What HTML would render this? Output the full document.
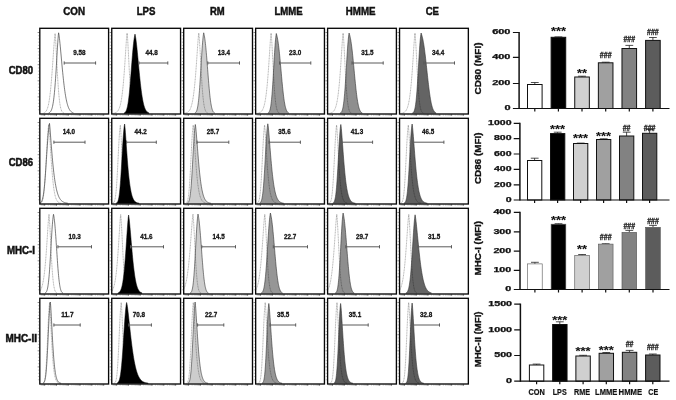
<!DOCTYPE html>
<html><head><meta charset="utf-8"><title>Flow cytometry figure</title>
<style>
html,body{margin:0;padding:0;background:#fff;}
body{width:676px;height:400px;overflow:hidden;}
svg{display:block;filter:blur(0.4px);}
text{font-family:"Liberation Sans",Arial,sans-serif;fill:#111;}
.hd{font-size:10.4px;font-weight:bold;stroke:#111;stroke-width:0.45px;}
.rl{font-size:11.5px;font-weight:bold;stroke:#111;stroke-width:0.55px;}
.gt{font-size:7.4px;font-weight:bold;fill:#111;stroke:#111;stroke-width:0.3px;}
.tk{font-size:6.6px;font-weight:bold;stroke:#111;stroke-width:0.25px;}
.yl{font-size:8.2px;font-weight:bold;stroke:#111;stroke-width:0.3px;}
.xl{font-size:8.6px;font-weight:bold;stroke:#111;stroke-width:0.2px;}
.st{font-size:11px;font-weight:bold;stroke:#111;stroke-width:0.12px;}
.hs{font-size:9.5px;font-weight:bold;stroke:#111;stroke-width:0.3px;}
</style></head><body>
<svg width="676" height="400" viewBox="0 0 676 400">
<rect width="676" height="400" fill="#fff"/>
<text class="hd" x="74.1" y="14.6" text-anchor="middle" textLength="21.8" lengthAdjust="spacingAndGlyphs">CON</text>
<text class="hd" x="146.1" y="14.6" text-anchor="middle" textLength="18.8" lengthAdjust="spacingAndGlyphs">LPS</text>
<text class="hd" x="217.3" y="14.6" text-anchor="middle" textLength="14.7" lengthAdjust="spacingAndGlyphs">RM</text>
<text class="hd" x="288.6" y="14.6" text-anchor="middle" textLength="28.2" lengthAdjust="spacingAndGlyphs">LMME</text>
<text class="hd" x="360.7" y="14.6" text-anchor="middle" textLength="29.8" lengthAdjust="spacingAndGlyphs">HMME</text>
<text class="hd" x="432.3" y="14.6" text-anchor="middle" textLength="13.3" lengthAdjust="spacingAndGlyphs">CE</text>
<text class="rl" x="20.9" y="73.7" text-anchor="middle" textLength="24.3" lengthAdjust="spacingAndGlyphs">CD80</text>
<clipPath id="c00"><rect x="39.80" y="28.30" width="68.8" height="85.7"/></clipPath>
<g clip-path="url(#c00)">
<path d="M43.70,112.96 L43.92,112.88 L44.15,112.79 L44.37,112.69 L44.59,112.56 L44.82,112.43 L45.04,112.27 L45.26,112.08 L45.49,111.87 L45.71,111.63 L45.94,111.36 L46.16,111.05 L46.38,110.70 L46.61,110.31 L46.83,109.86 L47.05,109.37 L47.28,108.81 L47.50,108.18 L47.73,107.48 L47.95,106.71 L48.17,105.85 L48.40,104.90 L48.62,103.86 L48.84,102.71 L49.07,101.46 L49.29,100.09 L49.52,98.60 L49.74,96.99 L49.96,95.25 L50.19,93.37 L50.41,91.36 L50.63,89.22 L50.86,86.93 L51.08,84.51 L51.31,81.95 L51.53,79.27 L51.75,76.46 L51.98,73.54 L52.20,70.52 L52.42,67.41 L52.65,64.24 L52.87,61.01 L53.10,57.76 L53.32,54.51 L53.54,51.29 L53.77,48.14 L53.99,45.09 L54.21,42.20 L54.44,39.51 L54.66,37.08 L54.89,35.01 L55.10,33.50 L55.11,33.56 L55.33,35.87 L55.56,38.95 L55.78,42.55 L56.00,46.51 L56.23,50.70 L56.45,55.03 L56.68,59.41 L56.90,63.76 L57.12,68.03 L57.35,72.17 L57.57,76.13 L57.79,79.90 L58.02,83.44 L58.24,86.74 L58.46,89.80 L58.69,92.61 L58.91,95.17 L59.14,97.49 L59.36,99.58 L59.58,101.45 L59.81,103.11 L60.03,104.58 L60.25,105.87 L60.48,107.00 L60.70,107.99 L60.93,108.84 L61.15,109.57 L61.37,110.20 L61.60,110.74 L61.82,111.19 L62.04,111.58 L62.27,111.90 L62.49,112.17 L62.72,112.40 L62.94,112.59 L63.16,112.74 L63.39,112.87 L63.61,112.97 L63.83,113.06" fill="none" stroke="#000" stroke-opacity="0.45" stroke-width="0.65" stroke-dasharray="1.1 0.5"/>
<path d="M48.67,113.00 L48.94,112.90 L49.22,112.77 L49.49,112.61 L49.77,112.42 L50.04,112.18 L50.32,111.89 L50.59,111.54 L50.87,111.12 L51.15,110.62 L51.42,110.02 L51.70,109.31 L51.97,108.47 L52.25,107.50 L52.52,106.36 L52.80,105.05 L53.07,103.54 L53.35,101.82 L53.63,99.86 L53.90,97.66 L54.18,95.19 L54.45,92.44 L54.73,89.42 L55.00,86.10 L55.28,82.51 L55.56,78.64 L55.83,74.53 L56.11,70.19 L56.38,65.68 L56.66,61.03 L56.93,56.33 L57.21,51.64 L57.48,47.08 L57.76,42.75 L58.04,38.80 L58.31,35.41 L58.59,32.89 L58.60,32.80 L58.86,34.17 L59.14,36.06 L59.41,38.26 L59.69,40.71 L59.96,43.34 L60.24,46.13 L60.52,49.02 L60.79,51.99 L61.07,55.00 L61.34,58.04 L61.62,61.07 L61.89,64.07 L62.17,67.03 L62.45,69.93 L62.72,72.75 L63.00,75.49 L63.27,78.13 L63.55,80.67 L63.82,83.11 L64.10,85.43 L64.37,87.63 L64.65,89.71 L64.93,91.68 L65.20,93.52 L65.48,95.26 L65.75,96.87 L66.03,98.38 L66.30,99.78 L66.58,101.07 L66.85,102.27 L67.13,103.37 L67.41,104.38 L67.68,105.30 L67.96,106.15 L68.23,106.92 L68.51,107.62 L68.78,108.25 L69.06,108.83 L69.34,109.34 L69.61,109.81 L69.89,110.23 L70.16,110.60 L70.44,110.94 L70.71,111.24 L70.99,111.50 L71.26,111.74 L71.54,111.95 L71.82,112.14 L72.09,112.30 L72.37,112.44 L72.64,112.57 L72.92,112.68 L73.19,112.78 L73.47,112.87" fill="none" stroke="#444" stroke-width="0.7"/>
</g>
<path d="M64.2,63.0H95.6M64.2,61.4v3.2M95.6,61.4v3.2" stroke="#5a5a5a" stroke-width="1.0" fill="none"/>
<text class="gt" x="79.4" y="55.0" text-anchor="middle" textLength="12.3" lengthAdjust="spacingAndGlyphs">9.58</text>
<path d="M37.90,35.72h1.6 M37.90,38.94h1.6 M37.90,42.16h1.6 M37.90,45.38h1.6 M37.90,51.82h1.6 M37.90,55.04h1.6 M37.90,58.26h1.6 M37.90,61.48h1.6 M37.90,67.92h1.6 M37.90,71.14h1.6 M37.90,74.36h1.6 M37.90,77.58h1.6 M37.90,84.02h1.6 M37.90,87.24h1.6 M37.90,90.46h1.6 M37.90,93.68h1.6 M37.90,100.12h1.6 M37.90,103.34h1.6 M37.90,106.56h1.6 M37.90,109.78h1.6 M41.16,114.50v1.1 M42.10,114.50v1.1 M42.93,114.50v1.1 M43.52,114.50v1.1 M44.11,114.50v1.1 M48.24,114.50v1.1 M50.36,114.50v1.1 M51.78,114.50v1.1 M52.96,114.50v1.1 M53.90,114.50v1.1 M54.73,114.50v1.1 M55.32,114.50v1.1 M55.91,114.50v1.1 M60.04,114.50v1.1 M62.16,114.50v1.1 M63.58,114.50v1.1 M64.76,114.50v1.1 M65.70,114.50v1.1 M66.53,114.50v1.1 M67.12,114.50v1.1 M67.71,114.50v1.1 M71.84,114.50v1.1 M73.96,114.50v1.1 M75.38,114.50v1.1 M76.56,114.50v1.1 M77.50,114.50v1.1 M78.33,114.50v1.1 M78.92,114.50v1.1 M79.51,114.50v1.1 M83.64,114.50v1.1 M85.76,114.50v1.1 M87.18,114.50v1.1 M88.36,114.50v1.1 M89.30,114.50v1.1 M90.13,114.50v1.1 M90.72,114.50v1.1 M91.31,114.50v1.1 M95.44,114.50v1.1 M97.56,114.50v1.1 M98.98,114.50v1.1 M100.16,114.50v1.1 M101.10,114.50v1.1 M101.93,114.50v1.1 M102.52,114.50v1.1 M103.11,114.50v1.1" stroke="#888" stroke-width="0.5" fill="none"/>
<path d="M37.60,32.50h2.2 M37.60,48.60h2.2 M37.60,64.70h2.2 M37.60,80.80h2.2 M37.60,96.90h2.2 M44.70,114.00v1.9 M56.50,114.00v1.9 M68.30,114.00v1.9 M80.10,114.00v1.9 M91.90,114.00v1.9 M103.70,114.00v1.9" stroke="#444" stroke-width="0.6" fill="none"/>
<rect x="39.80" y="28.30" width="68.8" height="85.7" fill="none" stroke="#080808" stroke-width="1.35"/>
<clipPath id="c01"><rect x="111.75" y="28.30" width="68.8" height="85.7"/></clipPath>
<g clip-path="url(#c01)">
<path d="M113.59,113.18 L113.84,113.15 L114.08,113.11 L114.32,113.06 L114.56,113.01 L114.81,112.94 L115.05,112.88 L115.29,112.80 L115.53,112.70 L115.78,112.60 L116.02,112.48 L116.26,112.35 L116.50,112.20 L116.75,112.02 L116.99,111.83 L117.23,111.61 L117.47,111.36 L117.72,111.08 L117.96,110.76 L118.20,110.41 L118.45,110.01 L118.69,109.56 L118.93,109.06 L119.17,108.51 L119.42,107.89 L119.66,107.20 L119.90,106.44 L120.14,105.59 L120.39,104.66 L120.63,103.63 L120.87,102.49 L121.11,101.25 L121.36,99.89 L121.60,98.40 L121.84,96.77 L122.08,95.01 L122.33,93.10 L122.57,91.03 L122.81,88.81 L123.05,86.42 L123.30,83.86 L123.54,81.14 L123.78,78.24 L124.02,75.19 L124.27,71.97 L124.51,68.61 L124.75,65.11 L124.99,61.49 L125.24,57.79 L125.48,54.03 L125.72,50.26 L125.96,46.53 L126.21,42.92 L126.45,39.51 L126.69,36.46 L126.93,33.99 L127.10,33.00 L127.18,33.62 L127.42,36.26 L127.66,39.66 L127.91,43.62 L128.15,47.98 L128.39,52.61 L128.63,57.40 L128.88,62.23 L129.12,67.02 L129.36,71.69 L129.60,76.17 L129.85,80.42 L130.09,84.39 L130.33,88.07 L130.57,91.44 L130.82,94.50 L131.06,97.24 L131.30,99.68 L131.54,101.83 L131.79,103.70 L132.03,105.33 L132.27,106.72 L132.51,107.92 L132.76,108.92 L133.00,109.77 L133.24,110.47 L133.48,111.05 L133.73,111.53 L133.97,111.92 L134.21,112.24 L134.45,112.49 L134.70,112.69 L134.94,112.85 L135.18,112.98 L135.42,113.08" fill="none" stroke="#000" stroke-opacity="0.45" stroke-width="0.65" stroke-dasharray="1.1 0.5"/>
<path d="M124.09,113.02 L124.37,112.89 L124.64,112.73 L124.92,112.52 L125.20,112.25 L125.47,111.93 L125.75,111.52 L126.03,111.02 L126.30,110.42 L126.58,109.70 L126.86,108.85 L127.13,107.84 L127.41,106.66 L127.69,105.30 L127.96,103.75 L128.24,101.98 L128.52,100.01 L128.79,97.81 L129.07,95.40 L129.35,92.77 L129.62,89.93 L129.90,86.90 L130.18,83.69 L130.45,80.34 L130.73,76.86 L131.01,73.29 L131.28,69.67 L131.56,66.05 L131.84,62.45 L132.11,58.92 L132.39,55.50 L132.67,52.24 L132.94,49.16 L133.22,46.31 L133.50,43.69 L133.77,41.34 L134.05,39.26 L134.33,37.46 L134.60,35.92 L134.88,34.61 L135.00,34.10 L135.16,34.74 L135.43,36.14 L135.71,37.84 L135.99,39.79 L136.26,41.96 L136.54,44.33 L136.82,46.86 L137.09,49.54 L137.37,52.32 L137.65,55.18 L137.92,58.11 L138.20,61.06 L138.48,64.03 L138.75,66.99 L139.03,69.91 L139.31,72.79 L139.58,75.60 L139.86,78.33 L140.14,80.97 L140.41,83.51 L140.69,85.94 L140.97,88.25 L141.24,90.44 L141.52,92.51 L141.80,94.45 L142.07,96.27 L142.35,97.96 L142.63,99.52 L142.90,100.97 L143.18,102.30 L143.46,103.52 L143.73,104.63 L144.01,105.64 L144.29,106.56 L144.56,107.38 L144.84,108.13 L145.12,108.79 L145.39,109.38 L145.67,109.91 L145.95,110.38 L146.22,110.79 L146.50,111.15 L146.78,111.47 L147.05,111.75 L147.33,111.99 L147.61,112.20 L147.88,112.38 L148.16,112.54 L148.44,112.68 L148.71,112.79 L148.99,112.89 L148.99,113.40 L124.09,113.40 Z" fill="#000000" stroke="#000" stroke-width="0.5"/>
</g>
<path d="M139.0,63.0H167.8M139.0,61.4v3.2M167.8,61.4v3.2" stroke="#5a5a5a" stroke-width="1.0" fill="none"/>
<text class="gt" x="151.6" y="55.0" text-anchor="middle" textLength="12.3" lengthAdjust="spacingAndGlyphs">44.8</text>
<path d="M109.85,35.72h1.6 M109.85,38.94h1.6 M109.85,42.16h1.6 M109.85,45.38h1.6 M109.85,51.82h1.6 M109.85,55.04h1.6 M109.85,58.26h1.6 M109.85,61.48h1.6 M109.85,67.92h1.6 M109.85,71.14h1.6 M109.85,74.36h1.6 M109.85,77.58h1.6 M109.85,84.02h1.6 M109.85,87.24h1.6 M109.85,90.46h1.6 M109.85,93.68h1.6 M109.85,100.12h1.6 M109.85,103.34h1.6 M109.85,106.56h1.6 M109.85,109.78h1.6 M113.11,114.50v1.1 M114.05,114.50v1.1 M114.88,114.50v1.1 M115.47,114.50v1.1 M116.06,114.50v1.1 M120.19,114.50v1.1 M122.31,114.50v1.1 M123.73,114.50v1.1 M124.91,114.50v1.1 M125.85,114.50v1.1 M126.68,114.50v1.1 M127.27,114.50v1.1 M127.86,114.50v1.1 M131.99,114.50v1.1 M134.11,114.50v1.1 M135.53,114.50v1.1 M136.71,114.50v1.1 M137.65,114.50v1.1 M138.48,114.50v1.1 M139.07,114.50v1.1 M139.66,114.50v1.1 M143.79,114.50v1.1 M145.91,114.50v1.1 M147.33,114.50v1.1 M148.51,114.50v1.1 M149.45,114.50v1.1 M150.28,114.50v1.1 M150.87,114.50v1.1 M151.46,114.50v1.1 M155.59,114.50v1.1 M157.71,114.50v1.1 M159.13,114.50v1.1 M160.31,114.50v1.1 M161.25,114.50v1.1 M162.08,114.50v1.1 M162.67,114.50v1.1 M163.26,114.50v1.1 M167.39,114.50v1.1 M169.51,114.50v1.1 M170.93,114.50v1.1 M172.11,114.50v1.1 M173.05,114.50v1.1 M173.88,114.50v1.1 M174.47,114.50v1.1 M175.06,114.50v1.1" stroke="#888" stroke-width="0.5" fill="none"/>
<path d="M109.55,32.50h2.2 M109.55,48.60h2.2 M109.55,64.70h2.2 M109.55,80.80h2.2 M109.55,96.90h2.2 M116.65,114.00v1.9 M128.45,114.00v1.9 M140.25,114.00v1.9 M152.05,114.00v1.9 M163.85,114.00v1.9 M175.65,114.00v1.9" stroke="#444" stroke-width="0.6" fill="none"/>
<rect x="111.75" y="28.30" width="68.8" height="85.7" fill="none" stroke="#080808" stroke-width="1.35"/>
<clipPath id="c02"><rect x="183.70" y="28.30" width="68.8" height="85.7"/></clipPath>
<g clip-path="url(#c02)">
<path d="M194.80,113.09 L195.03,112.99 L195.25,112.86 L195.47,112.70 L195.69,112.49 L195.91,112.23 L196.13,111.91 L196.35,111.52 L196.57,111.04 L196.80,110.46 L197.02,109.77 L197.24,108.95 L197.46,107.98 L197.68,106.85 L197.90,105.55 L198.12,104.07 L198.34,102.38 L198.57,100.47 L198.79,98.36 L199.01,96.01 L199.23,93.45 L199.45,90.67 L199.67,87.69 L199.89,84.51 L200.11,81.16 L200.34,77.66 L200.56,74.05 L200.78,70.36 L201.00,66.63 L201.22,62.89 L201.44,59.20 L201.66,55.60 L201.88,52.12 L202.11,48.82 L202.33,45.73 L202.55,42.89 L202.77,40.32 L202.99,38.05 L203.21,36.09 L203.43,34.43 L203.65,33.05 L203.70,32.80 L203.88,33.53 L204.10,34.53 L204.32,35.64 L204.54,36.90 L204.76,38.31 L204.98,39.89 L205.20,41.63 L205.42,43.53 L205.65,45.59 L205.87,47.80 L206.09,50.16 L206.31,52.65 L206.53,55.25 L206.75,57.95 L206.97,60.73 L207.19,63.57 L207.42,66.45 L207.64,69.35 L207.86,72.24 L208.08,75.12 L208.30,77.96 L208.52,80.73 L208.74,83.43 L208.96,86.03 L209.19,88.53 L209.41,90.91 L209.63,93.17 L209.85,95.29 L210.07,97.27 L210.29,99.11 L210.51,100.81 L210.73,102.36 L210.96,103.78 L211.18,105.06 L211.40,106.21 L211.62,107.23 L211.84,108.14 L212.06,108.94 L212.28,109.65 L212.50,110.25 L212.73,110.78 L212.95,111.23 L213.17,111.62 L213.39,111.94 L213.61,112.21 L213.83,112.44 L214.05,112.63 L214.27,112.79 L214.50,112.91 L214.72,113.02 L214.72,113.40 L194.80,113.40 Z" fill="#cdcdcd" stroke="none"/>
<path d="M184.64,113.17 L184.89,113.14 L185.15,113.10 L185.40,113.05 L185.66,112.99 L185.91,112.93 L186.17,112.86 L186.42,112.78 L186.68,112.68 L186.94,112.58 L187.19,112.46 L187.45,112.32 L187.70,112.16 L187.96,111.98 L188.21,111.78 L188.47,111.56 L188.72,111.30 L188.98,111.01 L189.23,110.69 L189.49,110.32 L189.75,109.92 L190.00,109.46 L190.26,108.95 L190.51,108.38 L190.77,107.74 L191.02,107.04 L191.28,106.26 L191.53,105.39 L191.79,104.44 L192.04,103.38 L192.30,102.22 L192.56,100.95 L192.81,99.56 L193.07,98.04 L193.32,96.39 L193.58,94.59 L193.83,92.64 L194.09,90.54 L194.34,88.27 L194.60,85.84 L194.86,83.25 L195.11,80.48 L195.37,77.55 L195.62,74.45 L195.88,71.20 L196.13,67.80 L196.39,64.27 L196.64,60.63 L196.90,56.91 L197.15,53.14 L197.41,49.37 L197.67,45.66 L197.92,42.08 L198.18,38.74 L198.43,35.80 L198.69,33.54 L198.80,33.00 L198.94,34.15 L199.20,36.95 L199.45,40.42 L199.71,44.41 L199.96,48.77 L200.22,53.37 L200.48,58.10 L200.73,62.86 L200.99,67.57 L201.24,72.15 L201.50,76.54 L201.75,80.71 L202.01,84.61 L202.26,88.22 L202.52,91.53 L202.78,94.53 L203.03,97.23 L203.29,99.64 L203.54,101.76 L203.80,103.62 L204.05,105.24 L204.31,106.63 L204.56,107.82 L204.82,108.83 L205.07,109.67 L205.33,110.39 L205.59,110.97 L205.84,111.46 L206.10,111.86 L206.35,112.18 L206.61,112.44 L206.86,112.65 L207.12,112.82 L207.37,112.95 L207.63,113.06" fill="none" stroke="#000" stroke-opacity="0.45" stroke-width="0.65" stroke-dasharray="1.1 0.5"/>
<path d="M194.80,113.09 L195.03,112.99 L195.25,112.86 L195.47,112.70 L195.69,112.49 L195.91,112.23 L196.13,111.91 L196.35,111.52 L196.57,111.04 L196.80,110.46 L197.02,109.77 L197.24,108.95 L197.46,107.98 L197.68,106.85 L197.90,105.55 L198.12,104.07 L198.34,102.38 L198.57,100.47 L198.79,98.36 L199.01,96.01 L199.23,93.45 L199.45,90.67 L199.67,87.69 L199.89,84.51 L200.11,81.16 L200.34,77.66 L200.56,74.05 L200.78,70.36 L201.00,66.63 L201.22,62.89 L201.44,59.20 L201.66,55.60 L201.88,52.12 L202.11,48.82 L202.33,45.73 L202.55,42.89 L202.77,40.32 L202.99,38.05 L203.21,36.09 L203.43,34.43 L203.65,33.05 L203.70,32.80 L203.88,33.53 L204.10,34.53 L204.32,35.64 L204.54,36.90 L204.76,38.31 L204.98,39.89 L205.20,41.63 L205.42,43.53 L205.65,45.59 L205.87,47.80 L206.09,50.16 L206.31,52.65 L206.53,55.25 L206.75,57.95 L206.97,60.73 L207.19,63.57 L207.42,66.45 L207.64,69.35 L207.86,72.24 L208.08,75.12 L208.30,77.96 L208.52,80.73 L208.74,83.43 L208.96,86.03 L209.19,88.53 L209.41,90.91 L209.63,93.17 L209.85,95.29 L210.07,97.27 L210.29,99.11 L210.51,100.81 L210.73,102.36 L210.96,103.78 L211.18,105.06 L211.40,106.21 L211.62,107.23 L211.84,108.14 L212.06,108.94 L212.28,109.65 L212.50,110.25 L212.73,110.78 L212.95,111.23 L213.17,111.62 L213.39,111.94 L213.61,112.21 L213.83,112.44 L214.05,112.63 L214.27,112.79 L214.50,112.91 L214.72,113.02" fill="none" stroke="#333" stroke-width="0.6"/>
</g>
<path d="M207.8,63.0H239.5M207.8,61.4v3.2M239.5,61.4v3.2" stroke="#5a5a5a" stroke-width="1.0" fill="none"/>
<text class="gt" x="223.9" y="55.0" text-anchor="middle" textLength="12.3" lengthAdjust="spacingAndGlyphs">13.4</text>
<path d="M181.80,35.72h1.6 M181.80,38.94h1.6 M181.80,42.16h1.6 M181.80,45.38h1.6 M181.80,51.82h1.6 M181.80,55.04h1.6 M181.80,58.26h1.6 M181.80,61.48h1.6 M181.80,67.92h1.6 M181.80,71.14h1.6 M181.80,74.36h1.6 M181.80,77.58h1.6 M181.80,84.02h1.6 M181.80,87.24h1.6 M181.80,90.46h1.6 M181.80,93.68h1.6 M181.80,100.12h1.6 M181.80,103.34h1.6 M181.80,106.56h1.6 M181.80,109.78h1.6 M185.06,114.50v1.1 M186.00,114.50v1.1 M186.83,114.50v1.1 M187.42,114.50v1.1 M188.01,114.50v1.1 M192.14,114.50v1.1 M194.26,114.50v1.1 M195.68,114.50v1.1 M196.86,114.50v1.1 M197.80,114.50v1.1 M198.63,114.50v1.1 M199.22,114.50v1.1 M199.81,114.50v1.1 M203.94,114.50v1.1 M206.06,114.50v1.1 M207.48,114.50v1.1 M208.66,114.50v1.1 M209.60,114.50v1.1 M210.43,114.50v1.1 M211.02,114.50v1.1 M211.61,114.50v1.1 M215.74,114.50v1.1 M217.86,114.50v1.1 M219.28,114.50v1.1 M220.46,114.50v1.1 M221.40,114.50v1.1 M222.23,114.50v1.1 M222.82,114.50v1.1 M223.41,114.50v1.1 M227.54,114.50v1.1 M229.66,114.50v1.1 M231.08,114.50v1.1 M232.26,114.50v1.1 M233.20,114.50v1.1 M234.03,114.50v1.1 M234.62,114.50v1.1 M235.21,114.50v1.1 M239.34,114.50v1.1 M241.46,114.50v1.1 M242.88,114.50v1.1 M244.06,114.50v1.1 M245.00,114.50v1.1 M245.83,114.50v1.1 M246.42,114.50v1.1 M247.01,114.50v1.1" stroke="#888" stroke-width="0.5" fill="none"/>
<path d="M181.50,32.50h2.2 M181.50,48.60h2.2 M181.50,64.70h2.2 M181.50,80.80h2.2 M181.50,96.90h2.2 M188.60,114.00v1.9 M200.40,114.00v1.9 M212.20,114.00v1.9 M224.00,114.00v1.9 M235.80,114.00v1.9 M247.60,114.00v1.9" stroke="#444" stroke-width="0.6" fill="none"/>
<rect x="183.70" y="28.30" width="68.8" height="85.7" fill="none" stroke="#080808" stroke-width="1.35"/>
<clipPath id="c03"><rect x="255.65" y="28.30" width="68.8" height="85.7"/></clipPath>
<g clip-path="url(#c03)">
<path d="M267.83,113.12 L268.06,113.01 L268.30,112.87 L268.53,112.69 L268.76,112.45 L269.00,112.15 L269.23,111.77 L269.46,111.29 L269.69,110.70 L269.93,109.98 L270.16,109.10 L270.39,108.04 L270.63,106.79 L270.86,105.33 L271.09,103.63 L271.32,101.67 L271.56,99.46 L271.79,96.97 L272.02,94.21 L272.26,91.19 L272.49,87.91 L272.72,84.39 L272.96,80.66 L273.19,76.77 L273.42,72.74 L273.65,68.64 L273.89,64.51 L274.12,60.42 L274.35,56.43 L274.59,52.59 L274.82,48.97 L275.05,45.61 L275.29,42.56 L275.52,39.86 L275.75,37.53 L275.98,35.58 L276.22,33.99 L276.30,33.50 L276.45,34.02 L276.68,34.86 L276.92,35.77 L277.15,36.78 L277.38,37.89 L277.61,39.13 L277.85,40.48 L278.08,41.97 L278.31,43.59 L278.55,45.34 L278.78,47.22 L279.01,49.22 L279.25,51.33 L279.48,53.56 L279.71,55.88 L279.94,58.29 L280.18,60.78 L280.41,63.32 L280.64,65.91 L280.88,68.52 L281.11,71.15 L281.34,73.78 L281.57,76.39 L281.81,78.96 L282.04,81.48 L282.27,83.94 L282.51,86.33 L282.74,88.63 L282.97,90.83 L283.21,92.93 L283.44,94.92 L283.67,96.80 L283.90,98.55 L284.14,100.18 L284.37,101.69 L284.60,103.08 L284.84,104.35 L285.07,105.50 L285.30,106.54 L285.54,107.47 L285.77,108.31 L286.00,109.05 L286.23,109.70 L286.47,110.27 L286.70,110.77 L286.93,111.20 L287.17,111.57 L287.40,111.89 L287.63,112.16 L287.86,112.39 L288.10,112.58 L288.33,112.73 L288.56,112.87 L288.80,112.97 L288.80,113.40 L267.83,113.40 Z" fill="#969696" stroke="none"/>
<path d="M257.59,113.18 L257.84,113.15 L258.08,113.11 L258.32,113.06 L258.56,113.01 L258.81,112.94 L259.05,112.88 L259.29,112.80 L259.53,112.70 L259.78,112.60 L260.02,112.48 L260.26,112.35 L260.50,112.20 L260.75,112.02 L260.99,111.83 L261.23,111.61 L261.47,111.36 L261.72,111.08 L261.96,110.76 L262.20,110.41 L262.45,110.01 L262.69,109.56 L262.93,109.06 L263.17,108.51 L263.42,107.89 L263.66,107.20 L263.90,106.44 L264.14,105.59 L264.39,104.66 L264.63,103.63 L264.87,102.49 L265.11,101.25 L265.36,99.89 L265.60,98.40 L265.84,96.77 L266.08,95.01 L266.33,93.10 L266.57,91.03 L266.81,88.81 L267.05,86.42 L267.30,83.86 L267.54,81.14 L267.78,78.24 L268.02,75.19 L268.27,71.97 L268.51,68.61 L268.75,65.11 L268.99,61.49 L269.24,57.79 L269.48,54.03 L269.72,50.26 L269.96,46.53 L270.21,42.92 L270.45,39.51 L270.69,36.46 L270.93,33.99 L271.10,33.00 L271.18,33.62 L271.42,36.26 L271.66,39.66 L271.91,43.62 L272.15,47.98 L272.39,52.61 L272.63,57.40 L272.88,62.23 L273.12,67.02 L273.36,71.69 L273.60,76.17 L273.85,80.42 L274.09,84.39 L274.33,88.07 L274.57,91.44 L274.82,94.50 L275.06,97.24 L275.30,99.68 L275.54,101.83 L275.79,103.70 L276.03,105.33 L276.27,106.72 L276.51,107.92 L276.76,108.92 L277.00,109.77 L277.24,110.47 L277.48,111.05 L277.73,111.53 L277.97,111.92 L278.21,112.24 L278.45,112.49 L278.70,112.69 L278.94,112.85 L279.18,112.98 L279.42,113.08" fill="none" stroke="#000" stroke-opacity="0.45" stroke-width="0.65" stroke-dasharray="1.1 0.5"/>
<path d="M267.83,113.12 L268.06,113.01 L268.30,112.87 L268.53,112.69 L268.76,112.45 L269.00,112.15 L269.23,111.77 L269.46,111.29 L269.69,110.70 L269.93,109.98 L270.16,109.10 L270.39,108.04 L270.63,106.79 L270.86,105.33 L271.09,103.63 L271.32,101.67 L271.56,99.46 L271.79,96.97 L272.02,94.21 L272.26,91.19 L272.49,87.91 L272.72,84.39 L272.96,80.66 L273.19,76.77 L273.42,72.74 L273.65,68.64 L273.89,64.51 L274.12,60.42 L274.35,56.43 L274.59,52.59 L274.82,48.97 L275.05,45.61 L275.29,42.56 L275.52,39.86 L275.75,37.53 L275.98,35.58 L276.22,33.99 L276.30,33.50 L276.45,34.02 L276.68,34.86 L276.92,35.77 L277.15,36.78 L277.38,37.89 L277.61,39.13 L277.85,40.48 L278.08,41.97 L278.31,43.59 L278.55,45.34 L278.78,47.22 L279.01,49.22 L279.25,51.33 L279.48,53.56 L279.71,55.88 L279.94,58.29 L280.18,60.78 L280.41,63.32 L280.64,65.91 L280.88,68.52 L281.11,71.15 L281.34,73.78 L281.57,76.39 L281.81,78.96 L282.04,81.48 L282.27,83.94 L282.51,86.33 L282.74,88.63 L282.97,90.83 L283.21,92.93 L283.44,94.92 L283.67,96.80 L283.90,98.55 L284.14,100.18 L284.37,101.69 L284.60,103.08 L284.84,104.35 L285.07,105.50 L285.30,106.54 L285.54,107.47 L285.77,108.31 L286.00,109.05 L286.23,109.70 L286.47,110.27 L286.70,110.77 L286.93,111.20 L287.17,111.57 L287.40,111.89 L287.63,112.16 L287.86,112.39 L288.10,112.58 L288.33,112.73 L288.56,112.87 L288.80,112.97" fill="none" stroke="#333" stroke-width="0.6"/>
</g>
<path d="M279.5,63.0H310.8M279.5,61.4v3.2M310.8,61.4v3.2" stroke="#5a5a5a" stroke-width="1.0" fill="none"/>
<text class="gt" x="295.2" y="55.0" text-anchor="middle" textLength="12.3" lengthAdjust="spacingAndGlyphs">23.0</text>
<path d="M253.75,35.72h1.6 M253.75,38.94h1.6 M253.75,42.16h1.6 M253.75,45.38h1.6 M253.75,51.82h1.6 M253.75,55.04h1.6 M253.75,58.26h1.6 M253.75,61.48h1.6 M253.75,67.92h1.6 M253.75,71.14h1.6 M253.75,74.36h1.6 M253.75,77.58h1.6 M253.75,84.02h1.6 M253.75,87.24h1.6 M253.75,90.46h1.6 M253.75,93.68h1.6 M253.75,100.12h1.6 M253.75,103.34h1.6 M253.75,106.56h1.6 M253.75,109.78h1.6 M257.01,114.50v1.1 M257.95,114.50v1.1 M258.78,114.50v1.1 M259.37,114.50v1.1 M259.96,114.50v1.1 M264.09,114.50v1.1 M266.21,114.50v1.1 M267.63,114.50v1.1 M268.81,114.50v1.1 M269.75,114.50v1.1 M270.58,114.50v1.1 M271.17,114.50v1.1 M271.76,114.50v1.1 M275.89,114.50v1.1 M278.01,114.50v1.1 M279.43,114.50v1.1 M280.61,114.50v1.1 M281.55,114.50v1.1 M282.38,114.50v1.1 M282.97,114.50v1.1 M283.56,114.50v1.1 M287.69,114.50v1.1 M289.81,114.50v1.1 M291.23,114.50v1.1 M292.41,114.50v1.1 M293.35,114.50v1.1 M294.18,114.50v1.1 M294.77,114.50v1.1 M295.36,114.50v1.1 M299.49,114.50v1.1 M301.61,114.50v1.1 M303.03,114.50v1.1 M304.21,114.50v1.1 M305.15,114.50v1.1 M305.98,114.50v1.1 M306.57,114.50v1.1 M307.16,114.50v1.1 M311.29,114.50v1.1 M313.41,114.50v1.1 M314.83,114.50v1.1 M316.01,114.50v1.1 M316.95,114.50v1.1 M317.78,114.50v1.1 M318.37,114.50v1.1 M318.96,114.50v1.1" stroke="#888" stroke-width="0.5" fill="none"/>
<path d="M253.45,32.50h2.2 M253.45,48.60h2.2 M253.45,64.70h2.2 M253.45,80.80h2.2 M253.45,96.90h2.2 M260.55,114.00v1.9 M272.35,114.00v1.9 M284.15,114.00v1.9 M295.95,114.00v1.9 M307.75,114.00v1.9 M319.55,114.00v1.9" stroke="#444" stroke-width="0.6" fill="none"/>
<rect x="255.65" y="28.30" width="68.8" height="85.7" fill="none" stroke="#080808" stroke-width="1.35"/>
<clipPath id="c04"><rect x="327.60" y="28.30" width="68.8" height="85.7"/></clipPath>
<g clip-path="url(#c04)">
<path d="M340.20,113.09 L340.45,112.98 L340.69,112.83 L340.94,112.64 L341.18,112.39 L341.43,112.07 L341.68,111.67 L341.92,111.17 L342.17,110.55 L342.41,109.79 L342.66,108.88 L342.90,107.79 L343.15,106.50 L343.39,104.99 L343.64,103.24 L343.88,101.24 L344.13,98.97 L344.37,96.43 L344.62,93.63 L344.86,90.55 L345.11,87.22 L345.35,83.67 L345.60,79.90 L345.85,75.98 L346.09,71.93 L346.34,67.81 L346.58,63.68 L346.83,59.59 L347.07,55.60 L347.32,51.78 L347.56,48.17 L347.81,44.84 L348.05,41.82 L348.30,39.15 L348.54,36.85 L348.79,34.93 L349.03,33.37 L349.10,33.00 L349.28,33.59 L349.52,34.43 L349.77,35.35 L350.01,36.37 L350.26,37.49 L350.51,38.73 L350.75,40.09 L351.00,41.59 L351.24,43.21 L351.49,44.96 L351.73,46.84 L351.98,48.85 L352.22,50.96 L352.47,53.19 L352.71,55.52 L352.96,57.93 L353.20,60.41 L353.45,62.95 L353.69,65.54 L353.94,68.15 L354.18,70.78 L354.43,73.41 L354.67,76.02 L354.92,78.59 L355.17,81.12 L355.41,83.59 L355.66,85.98 L355.90,88.29 L356.15,90.50 L356.39,92.61 L356.64,94.61 L356.88,96.50 L357.13,98.26 L357.37,99.91 L357.62,101.43 L357.86,102.84 L358.11,104.12 L358.35,105.29 L358.60,106.35 L358.84,107.30 L359.09,108.15 L359.34,108.90 L359.58,109.57 L359.83,110.16 L360.07,110.67 L360.32,111.11 L360.56,111.49 L360.81,111.82 L361.05,112.10 L361.30,112.33 L361.54,112.53 L361.79,112.70 L362.03,112.83 L362.28,112.95 L362.28,113.40 L340.20,113.40 Z" fill="#8e8e8e" stroke="none"/>
<path d="M329.59,113.18 L329.84,113.15 L330.08,113.11 L330.32,113.06 L330.56,113.01 L330.81,112.94 L331.05,112.88 L331.29,112.80 L331.53,112.70 L331.78,112.60 L332.02,112.48 L332.26,112.35 L332.50,112.20 L332.75,112.02 L332.99,111.83 L333.23,111.61 L333.47,111.36 L333.72,111.08 L333.96,110.76 L334.20,110.41 L334.45,110.01 L334.69,109.56 L334.93,109.06 L335.17,108.51 L335.42,107.89 L335.66,107.20 L335.90,106.44 L336.14,105.59 L336.39,104.66 L336.63,103.63 L336.87,102.49 L337.11,101.25 L337.36,99.89 L337.60,98.40 L337.84,96.77 L338.08,95.01 L338.33,93.10 L338.57,91.03 L338.81,88.81 L339.05,86.42 L339.30,83.86 L339.54,81.14 L339.78,78.24 L340.02,75.19 L340.27,71.97 L340.51,68.61 L340.75,65.11 L340.99,61.49 L341.24,57.79 L341.48,54.03 L341.72,50.26 L341.96,46.53 L342.21,42.92 L342.45,39.51 L342.69,36.46 L342.93,33.99 L343.10,33.00 L343.18,33.62 L343.42,36.26 L343.66,39.66 L343.91,43.62 L344.15,47.98 L344.39,52.61 L344.63,57.40 L344.88,62.23 L345.12,67.02 L345.36,71.69 L345.60,76.17 L345.85,80.42 L346.09,84.39 L346.33,88.07 L346.57,91.44 L346.82,94.50 L347.06,97.24 L347.30,99.68 L347.54,101.83 L347.79,103.70 L348.03,105.33 L348.27,106.72 L348.51,107.92 L348.76,108.92 L349.00,109.77 L349.24,110.47 L349.48,111.05 L349.73,111.53 L349.97,111.92 L350.21,112.24 L350.45,112.49 L350.70,112.69 L350.94,112.85 L351.18,112.98 L351.42,113.08" fill="none" stroke="#000" stroke-opacity="0.45" stroke-width="0.65" stroke-dasharray="1.1 0.5"/>
<path d="M340.20,113.09 L340.45,112.98 L340.69,112.83 L340.94,112.64 L341.18,112.39 L341.43,112.07 L341.68,111.67 L341.92,111.17 L342.17,110.55 L342.41,109.79 L342.66,108.88 L342.90,107.79 L343.15,106.50 L343.39,104.99 L343.64,103.24 L343.88,101.24 L344.13,98.97 L344.37,96.43 L344.62,93.63 L344.86,90.55 L345.11,87.22 L345.35,83.67 L345.60,79.90 L345.85,75.98 L346.09,71.93 L346.34,67.81 L346.58,63.68 L346.83,59.59 L347.07,55.60 L347.32,51.78 L347.56,48.17 L347.81,44.84 L348.05,41.82 L348.30,39.15 L348.54,36.85 L348.79,34.93 L349.03,33.37 L349.10,33.00 L349.28,33.59 L349.52,34.43 L349.77,35.35 L350.01,36.37 L350.26,37.49 L350.51,38.73 L350.75,40.09 L351.00,41.59 L351.24,43.21 L351.49,44.96 L351.73,46.84 L351.98,48.85 L352.22,50.96 L352.47,53.19 L352.71,55.52 L352.96,57.93 L353.20,60.41 L353.45,62.95 L353.69,65.54 L353.94,68.15 L354.18,70.78 L354.43,73.41 L354.67,76.02 L354.92,78.59 L355.17,81.12 L355.41,83.59 L355.66,85.98 L355.90,88.29 L356.15,90.50 L356.39,92.61 L356.64,94.61 L356.88,96.50 L357.13,98.26 L357.37,99.91 L357.62,101.43 L357.86,102.84 L358.11,104.12 L358.35,105.29 L358.60,106.35 L358.84,107.30 L359.09,108.15 L359.34,108.90 L359.58,109.57 L359.83,110.16 L360.07,110.67 L360.32,111.11 L360.56,111.49 L360.81,111.82 L361.05,112.10 L361.30,112.33 L361.54,112.53 L361.79,112.70 L362.03,112.83 L362.28,112.95" fill="none" stroke="#333" stroke-width="0.6"/>
</g>
<path d="M352.0,63.0H383.2M352.0,61.4v3.2M383.2,61.4v3.2" stroke="#5a5a5a" stroke-width="1.0" fill="none"/>
<text class="gt" x="367.4" y="55.0" text-anchor="middle" textLength="12.3" lengthAdjust="spacingAndGlyphs">31.5</text>
<path d="M325.70,35.72h1.6 M325.70,38.94h1.6 M325.70,42.16h1.6 M325.70,45.38h1.6 M325.70,51.82h1.6 M325.70,55.04h1.6 M325.70,58.26h1.6 M325.70,61.48h1.6 M325.70,67.92h1.6 M325.70,71.14h1.6 M325.70,74.36h1.6 M325.70,77.58h1.6 M325.70,84.02h1.6 M325.70,87.24h1.6 M325.70,90.46h1.6 M325.70,93.68h1.6 M325.70,100.12h1.6 M325.70,103.34h1.6 M325.70,106.56h1.6 M325.70,109.78h1.6 M328.96,114.50v1.1 M329.90,114.50v1.1 M330.73,114.50v1.1 M331.32,114.50v1.1 M331.91,114.50v1.1 M336.04,114.50v1.1 M338.16,114.50v1.1 M339.58,114.50v1.1 M340.76,114.50v1.1 M341.70,114.50v1.1 M342.53,114.50v1.1 M343.12,114.50v1.1 M343.71,114.50v1.1 M347.84,114.50v1.1 M349.96,114.50v1.1 M351.38,114.50v1.1 M352.56,114.50v1.1 M353.50,114.50v1.1 M354.33,114.50v1.1 M354.92,114.50v1.1 M355.51,114.50v1.1 M359.64,114.50v1.1 M361.76,114.50v1.1 M363.18,114.50v1.1 M364.36,114.50v1.1 M365.30,114.50v1.1 M366.13,114.50v1.1 M366.72,114.50v1.1 M367.31,114.50v1.1 M371.44,114.50v1.1 M373.56,114.50v1.1 M374.98,114.50v1.1 M376.16,114.50v1.1 M377.10,114.50v1.1 M377.93,114.50v1.1 M378.52,114.50v1.1 M379.11,114.50v1.1 M383.24,114.50v1.1 M385.36,114.50v1.1 M386.78,114.50v1.1 M387.96,114.50v1.1 M388.90,114.50v1.1 M389.73,114.50v1.1 M390.32,114.50v1.1 M390.91,114.50v1.1" stroke="#888" stroke-width="0.5" fill="none"/>
<path d="M325.40,32.50h2.2 M325.40,48.60h2.2 M325.40,64.70h2.2 M325.40,80.80h2.2 M325.40,96.90h2.2 M332.50,114.00v1.9 M344.30,114.00v1.9 M356.10,114.00v1.9 M367.90,114.00v1.9 M379.70,114.00v1.9 M391.50,114.00v1.9" stroke="#444" stroke-width="0.6" fill="none"/>
<rect x="327.60" y="28.30" width="68.8" height="85.7" fill="none" stroke="#080808" stroke-width="1.35"/>
<clipPath id="c05"><rect x="399.55" y="28.30" width="68.8" height="85.7"/></clipPath>
<g clip-path="url(#c05)">
<path d="M412.42,113.10 L412.68,112.98 L412.94,112.81 L413.21,112.59 L413.47,112.30 L413.73,111.92 L414.00,111.43 L414.26,110.80 L414.52,110.02 L414.79,109.05 L415.05,107.88 L415.32,106.45 L415.58,104.77 L415.84,102.78 L416.11,100.49 L416.37,97.87 L416.63,94.92 L416.90,91.64 L417.16,88.05 L417.42,84.16 L417.69,80.03 L417.95,75.69 L418.21,71.21 L418.48,66.66 L418.74,62.10 L419.00,57.63 L419.27,53.32 L419.53,49.24 L419.79,45.48 L420.06,42.09 L420.32,39.13 L420.58,36.62 L420.85,34.57 L421.10,33.00 L421.11,33.03 L421.38,33.79 L421.64,34.59 L421.90,35.46 L422.17,36.41 L422.43,37.46 L422.69,38.61 L422.96,39.86 L423.22,41.23 L423.48,42.71 L423.75,44.31 L424.01,46.02 L424.27,47.83 L424.54,49.75 L424.80,51.77 L425.06,53.88 L425.33,56.07 L425.59,58.33 L425.85,60.65 L426.12,63.03 L426.38,65.44 L426.64,67.88 L426.91,70.33 L427.17,72.78 L427.44,75.21 L427.70,77.63 L427.96,80.00 L428.23,82.33 L428.49,84.60 L428.75,86.81 L429.02,88.93 L429.28,90.97 L429.54,92.92 L429.81,94.77 L430.07,96.52 L430.33,98.17 L430.60,99.72 L430.86,101.16 L431.12,102.49 L431.39,103.72 L431.65,104.85 L431.91,105.88 L432.18,106.81 L432.44,107.66 L432.70,108.42 L432.97,109.09 L433.23,109.70 L433.49,110.23 L433.76,110.70 L434.02,111.11 L434.29,111.47 L434.55,111.78 L434.81,112.05 L435.08,112.27 L435.34,112.47 L435.60,112.63 L435.87,112.77 L436.13,112.89 L436.13,113.40 L412.42,113.40 Z" fill="#646464" stroke="none"/>
<path d="M401.49,113.18 L401.74,113.15 L401.98,113.11 L402.22,113.06 L402.46,113.01 L402.71,112.94 L402.95,112.88 L403.19,112.80 L403.43,112.70 L403.68,112.60 L403.92,112.48 L404.16,112.35 L404.40,112.20 L404.65,112.02 L404.89,111.83 L405.13,111.61 L405.37,111.36 L405.62,111.08 L405.86,110.76 L406.10,110.41 L406.35,110.01 L406.59,109.56 L406.83,109.06 L407.07,108.51 L407.32,107.89 L407.56,107.20 L407.80,106.44 L408.04,105.59 L408.29,104.66 L408.53,103.63 L408.77,102.49 L409.01,101.25 L409.26,99.89 L409.50,98.40 L409.74,96.77 L409.98,95.01 L410.23,93.10 L410.47,91.03 L410.71,88.81 L410.95,86.42 L411.20,83.86 L411.44,81.14 L411.68,78.24 L411.92,75.19 L412.17,71.97 L412.41,68.61 L412.65,65.11 L412.89,61.49 L413.14,57.79 L413.38,54.03 L413.62,50.26 L413.86,46.53 L414.11,42.92 L414.35,39.51 L414.59,36.46 L414.83,33.99 L415.00,33.00 L415.08,33.62 L415.32,36.26 L415.56,39.66 L415.81,43.62 L416.05,47.98 L416.29,52.61 L416.53,57.40 L416.78,62.23 L417.02,67.02 L417.26,71.69 L417.50,76.17 L417.75,80.42 L417.99,84.39 L418.23,88.07 L418.47,91.44 L418.72,94.50 L418.96,97.24 L419.20,99.68 L419.44,101.83 L419.69,103.70 L419.93,105.33 L420.17,106.72 L420.41,107.92 L420.66,108.92 L420.90,109.77 L421.14,110.47 L421.38,111.05 L421.63,111.53 L421.87,111.92 L422.11,112.24 L422.35,112.49 L422.60,112.69 L422.84,112.85 L423.08,112.98 L423.32,113.08" fill="none" stroke="#000" stroke-opacity="0.45" stroke-width="0.65" stroke-dasharray="1.1 0.5"/>
<path d="M412.42,113.10 L412.68,112.98 L412.94,112.81 L413.21,112.59 L413.47,112.30 L413.73,111.92 L414.00,111.43 L414.26,110.80 L414.52,110.02 L414.79,109.05 L415.05,107.88 L415.32,106.45 L415.58,104.77 L415.84,102.78 L416.11,100.49 L416.37,97.87 L416.63,94.92 L416.90,91.64 L417.16,88.05 L417.42,84.16 L417.69,80.03 L417.95,75.69 L418.21,71.21 L418.48,66.66 L418.74,62.10 L419.00,57.63 L419.27,53.32 L419.53,49.24 L419.79,45.48 L420.06,42.09 L420.32,39.13 L420.58,36.62 L420.85,34.57 L421.10,33.00 L421.11,33.03 L421.38,33.79 L421.64,34.59 L421.90,35.46 L422.17,36.41 L422.43,37.46 L422.69,38.61 L422.96,39.86 L423.22,41.23 L423.48,42.71 L423.75,44.31 L424.01,46.02 L424.27,47.83 L424.54,49.75 L424.80,51.77 L425.06,53.88 L425.33,56.07 L425.59,58.33 L425.85,60.65 L426.12,63.03 L426.38,65.44 L426.64,67.88 L426.91,70.33 L427.17,72.78 L427.44,75.21 L427.70,77.63 L427.96,80.00 L428.23,82.33 L428.49,84.60 L428.75,86.81 L429.02,88.93 L429.28,90.97 L429.54,92.92 L429.81,94.77 L430.07,96.52 L430.33,98.17 L430.60,99.72 L430.86,101.16 L431.12,102.49 L431.39,103.72 L431.65,104.85 L431.91,105.88 L432.18,106.81 L432.44,107.66 L432.70,108.42 L432.97,109.09 L433.23,109.70 L433.49,110.23 L433.76,110.70 L434.02,111.11 L434.29,111.47 L434.55,111.78 L434.81,112.05 L435.08,112.27 L435.34,112.47 L435.60,112.63 L435.87,112.77 L436.13,112.89" fill="none" stroke="#333" stroke-width="0.6"/>
</g>
<path d="M423.8,63.0H454.5M423.8,61.4v3.2M454.5,61.4v3.2" stroke="#5a5a5a" stroke-width="1.0" fill="none"/>
<text class="gt" x="438.2" y="55.0" text-anchor="middle" textLength="12.3" lengthAdjust="spacingAndGlyphs">34.4</text>
<path d="M397.65,35.72h1.6 M397.65,38.94h1.6 M397.65,42.16h1.6 M397.65,45.38h1.6 M397.65,51.82h1.6 M397.65,55.04h1.6 M397.65,58.26h1.6 M397.65,61.48h1.6 M397.65,67.92h1.6 M397.65,71.14h1.6 M397.65,74.36h1.6 M397.65,77.58h1.6 M397.65,84.02h1.6 M397.65,87.24h1.6 M397.65,90.46h1.6 M397.65,93.68h1.6 M397.65,100.12h1.6 M397.65,103.34h1.6 M397.65,106.56h1.6 M397.65,109.78h1.6 M400.91,114.50v1.1 M401.85,114.50v1.1 M402.68,114.50v1.1 M403.27,114.50v1.1 M403.86,114.50v1.1 M407.99,114.50v1.1 M410.11,114.50v1.1 M411.53,114.50v1.1 M412.71,114.50v1.1 M413.65,114.50v1.1 M414.48,114.50v1.1 M415.07,114.50v1.1 M415.66,114.50v1.1 M419.79,114.50v1.1 M421.91,114.50v1.1 M423.33,114.50v1.1 M424.51,114.50v1.1 M425.45,114.50v1.1 M426.28,114.50v1.1 M426.87,114.50v1.1 M427.46,114.50v1.1 M431.59,114.50v1.1 M433.71,114.50v1.1 M435.13,114.50v1.1 M436.31,114.50v1.1 M437.25,114.50v1.1 M438.08,114.50v1.1 M438.67,114.50v1.1 M439.26,114.50v1.1 M443.39,114.50v1.1 M445.51,114.50v1.1 M446.93,114.50v1.1 M448.11,114.50v1.1 M449.05,114.50v1.1 M449.88,114.50v1.1 M450.47,114.50v1.1 M451.06,114.50v1.1 M455.19,114.50v1.1 M457.31,114.50v1.1 M458.73,114.50v1.1 M459.91,114.50v1.1 M460.85,114.50v1.1 M461.68,114.50v1.1 M462.27,114.50v1.1 M462.86,114.50v1.1" stroke="#888" stroke-width="0.5" fill="none"/>
<path d="M397.35,32.50h2.2 M397.35,48.60h2.2 M397.35,64.70h2.2 M397.35,80.80h2.2 M397.35,96.90h2.2 M404.45,114.00v1.9 M416.25,114.00v1.9 M428.05,114.00v1.9 M439.85,114.00v1.9 M451.65,114.00v1.9 M463.45,114.00v1.9" stroke="#444" stroke-width="0.6" fill="none"/>
<rect x="399.55" y="28.30" width="68.8" height="85.7" fill="none" stroke="#080808" stroke-width="1.35"/>
<text class="rl" x="20.9" y="165.7" text-anchor="middle" textLength="24.3" lengthAdjust="spacingAndGlyphs">CD86</text>
<clipPath id="c10"><rect x="39.80" y="118.30" width="68.8" height="85.7"/></clipPath>
<g clip-path="url(#c10)">
<path d="M40.66,203.14 L40.88,203.04 L41.11,202.91 L41.34,202.73 L41.56,202.50 L41.79,202.20 L42.02,201.82 L42.25,201.34 L42.47,200.73 L42.70,199.99 L42.93,199.09 L43.15,198.00 L43.38,196.70 L43.61,195.17 L43.83,193.39 L44.06,191.34 L44.29,189.01 L44.51,186.40 L44.74,183.50 L44.97,180.32 L45.19,176.88 L45.42,173.21 L45.65,169.33 L45.87,165.28 L46.10,161.13 L46.33,156.93 L46.55,152.74 L46.78,148.62 L47.01,144.64 L47.24,140.86 L47.46,137.35 L47.69,134.16 L47.92,131.32 L48.14,128.87 L48.37,126.82 L48.60,125.15 L48.70,124.50 L48.82,125.09 L49.05,127.14 L49.28,129.85 L49.50,132.97 L49.73,136.36 L49.96,139.92 L50.18,143.57 L50.41,147.24 L50.64,150.89 L50.86,154.49 L51.09,157.99 L51.32,161.38 L51.54,164.64 L51.77,167.75 L52.00,170.70 L52.23,173.49 L52.45,176.11 L52.68,178.57 L52.91,180.86 L53.13,182.99 L53.36,184.96 L53.59,186.77 L53.81,188.45 L54.04,189.98 L54.27,191.38 L54.49,192.65 L54.72,193.81 L54.95,194.86 L55.17,195.81 L55.40,196.67 L55.63,197.44 L55.85,198.13 L56.08,198.75 L56.31,199.31 L56.53,199.80 L56.76,200.24 L56.99,200.63 L57.22,200.98 L57.44,201.29 L57.67,201.56 L57.90,201.80 L58.12,202.01 L58.35,202.19 L58.58,202.35 L58.80,202.49 L59.03,202.62 L59.26,202.72 L59.48,202.82 L59.71,202.90 L59.94,202.97 L60.16,203.03 L60.39,203.08 L60.62,203.13 L60.84,203.17 L61.07,203.20" fill="none" stroke="#000" stroke-opacity="0.45" stroke-width="0.65" stroke-dasharray="1.1 0.5"/>
<path d="M39.96,203.06 L40.27,202.92 L40.58,202.72 L40.89,202.45 L41.19,202.10 L41.50,201.63 L41.81,201.03 L42.12,200.26 L42.43,199.30 L42.73,198.11 L43.04,196.66 L43.35,194.92 L43.66,192.85 L43.96,190.45 L44.27,187.69 L44.58,184.56 L44.89,181.07 L45.19,177.24 L45.50,173.11 L45.81,168.71 L46.12,164.11 L46.42,159.38 L46.73,154.61 L47.04,149.88 L47.35,145.29 L47.66,140.93 L47.96,136.88 L48.27,133.23 L48.58,130.03 L48.89,127.32 L49.19,125.12 L49.50,123.40 L49.50,123.41 L49.81,126.27 L50.12,129.98 L50.42,133.97 L50.73,138.06 L51.04,142.14 L51.35,146.14 L51.66,150.03 L51.96,153.78 L52.27,157.37 L52.58,160.78 L52.89,164.02 L53.19,167.07 L53.50,169.94 L53.81,172.64 L54.12,175.15 L54.42,177.50 L54.73,179.68 L55.04,181.71 L55.35,183.58 L55.66,185.32 L55.96,186.92 L56.27,188.39 L56.58,189.75 L56.89,191.00 L57.19,192.14 L57.50,193.19 L57.81,194.15 L58.12,195.02 L58.42,195.82 L58.73,196.55 L59.04,197.22 L59.35,197.82 L59.66,198.37 L59.96,198.87 L60.27,199.32 L60.58,199.73 L60.89,200.10 L61.19,200.44 L61.50,200.74 L61.81,201.01 L62.12,201.26 L62.42,201.48 L62.73,201.68 L63.04,201.86 L63.35,202.03 L63.66,202.17 L63.96,202.30 L64.27,202.42 L64.58,202.53 L64.89,202.62 L65.19,202.71 L65.50,202.78 L65.81,202.85 L66.12,202.91 L66.42,202.96 L66.73,203.01 L67.04,203.06 L67.35,203.09 L67.66,203.13" fill="none" stroke="#444" stroke-width="0.7"/>
</g>
<path d="M53.9,142.2H85.0M53.9,140.6v3.2M85.0,140.6v3.2" stroke="#5a5a5a" stroke-width="1.0" fill="none"/>
<text class="gt" x="68.9" y="133.9" text-anchor="middle" textLength="12.3" lengthAdjust="spacingAndGlyphs">14.0</text>
<path d="M37.90,125.72h1.6 M37.90,128.94h1.6 M37.90,132.16h1.6 M37.90,135.38h1.6 M37.90,141.82h1.6 M37.90,145.04h1.6 M37.90,148.26h1.6 M37.90,151.48h1.6 M37.90,157.92h1.6 M37.90,161.14h1.6 M37.90,164.36h1.6 M37.90,167.58h1.6 M37.90,174.02h1.6 M37.90,177.24h1.6 M37.90,180.46h1.6 M37.90,183.68h1.6 M37.90,190.12h1.6 M37.90,193.34h1.6 M37.90,196.56h1.6 M37.90,199.78h1.6 M41.16,204.50v1.1 M42.10,204.50v1.1 M42.93,204.50v1.1 M43.52,204.50v1.1 M44.11,204.50v1.1 M48.24,204.50v1.1 M50.36,204.50v1.1 M51.78,204.50v1.1 M52.96,204.50v1.1 M53.90,204.50v1.1 M54.73,204.50v1.1 M55.32,204.50v1.1 M55.91,204.50v1.1 M60.04,204.50v1.1 M62.16,204.50v1.1 M63.58,204.50v1.1 M64.76,204.50v1.1 M65.70,204.50v1.1 M66.53,204.50v1.1 M67.12,204.50v1.1 M67.71,204.50v1.1 M71.84,204.50v1.1 M73.96,204.50v1.1 M75.38,204.50v1.1 M76.56,204.50v1.1 M77.50,204.50v1.1 M78.33,204.50v1.1 M78.92,204.50v1.1 M79.51,204.50v1.1 M83.64,204.50v1.1 M85.76,204.50v1.1 M87.18,204.50v1.1 M88.36,204.50v1.1 M89.30,204.50v1.1 M90.13,204.50v1.1 M90.72,204.50v1.1 M91.31,204.50v1.1 M95.44,204.50v1.1 M97.56,204.50v1.1 M98.98,204.50v1.1 M100.16,204.50v1.1 M101.10,204.50v1.1 M101.93,204.50v1.1 M102.52,204.50v1.1 M103.11,204.50v1.1" stroke="#888" stroke-width="0.5" fill="none"/>
<path d="M37.60,122.50h2.2 M37.60,138.60h2.2 M37.60,154.70h2.2 M37.60,170.80h2.2 M37.60,186.90h2.2 M44.70,204.00v1.9 M56.50,204.00v1.9 M68.30,204.00v1.9 M80.10,204.00v1.9 M91.90,204.00v1.9 M103.70,204.00v1.9" stroke="#444" stroke-width="0.6" fill="none"/>
<rect x="39.80" y="118.30" width="68.8" height="85.7" fill="none" stroke="#080808" stroke-width="1.35"/>
<clipPath id="c11"><rect x="111.75" y="118.30" width="68.8" height="85.7"/></clipPath>
<g clip-path="url(#c11)">
<path d="M112.90,203.18 L113.09,203.10 L113.27,203.00 L113.46,202.87 L113.65,202.70 L113.84,202.48 L114.03,202.20 L114.21,201.86 L114.40,201.43 L114.59,200.91 L114.78,200.28 L114.96,199.52 L115.15,198.62 L115.34,197.55 L115.53,196.31 L115.72,194.87 L115.90,193.22 L116.09,191.35 L116.28,189.25 L116.47,186.91 L116.66,184.34 L116.84,181.53 L117.03,178.51 L117.22,175.28 L117.41,171.87 L117.60,168.31 L117.78,164.63 L117.97,160.87 L118.16,157.07 L118.35,153.29 L118.54,149.57 L118.72,145.96 L118.91,142.51 L119.10,139.26 L119.29,136.25 L119.48,133.53 L119.66,131.11 L119.85,129.01 L120.04,127.25 L120.23,125.79 L120.30,125.30 L120.41,125.95 L120.60,128.03 L120.79,130.83 L120.98,134.09 L121.17,137.66 L121.35,141.42 L121.54,145.29 L121.73,149.19 L121.92,153.07 L122.11,156.88 L122.29,160.58 L122.48,164.15 L122.67,167.56 L122.86,170.79 L123.05,173.83 L123.23,176.68 L123.42,179.34 L123.61,181.80 L123.80,184.07 L123.99,186.15 L124.17,188.05 L124.36,189.79 L124.55,191.36 L124.74,192.78 L124.93,194.05 L125.11,195.20 L125.30,196.22 L125.49,197.13 L125.68,197.94 L125.86,198.66 L126.05,199.29 L126.24,199.85 L126.43,200.34 L126.62,200.76 L126.80,201.14 L126.99,201.46 L127.18,201.74 L127.37,201.99 L127.56,202.20 L127.74,202.38 L127.93,202.53 L128.12,202.67 L128.31,202.78 L128.50,202.88 L128.68,202.96 L128.87,203.03 L129.06,203.09 L129.25,203.14 L129.44,203.18 L129.62,203.22 L129.81,203.25" fill="none" stroke="#000" stroke-opacity="0.45" stroke-width="0.65" stroke-dasharray="1.1 0.5"/>
<path d="M116.27,203.14 L116.52,203.02 L116.78,202.86 L117.03,202.64 L117.28,202.34 L117.54,201.95 L117.79,201.44 L118.05,200.79 L118.30,199.97 L118.55,198.94 L118.81,197.68 L119.06,196.17 L119.32,194.36 L119.57,192.24 L119.82,189.80 L120.08,187.02 L120.33,183.89 L120.58,180.45 L120.84,176.70 L121.09,172.68 L121.35,168.45 L121.60,164.05 L121.85,159.56 L122.11,155.06 L122.36,150.62 L122.61,146.32 L122.87,142.24 L123.12,138.44 L123.38,134.99 L123.63,131.93 L123.88,129.29 L124.14,127.07 L124.39,125.25 L124.60,124.00 L124.65,124.17 L124.90,126.24 L125.15,129.11 L125.41,132.38 L125.66,135.89 L125.91,139.53 L126.17,143.22 L126.42,146.91 L126.68,150.55 L126.93,154.11 L127.18,157.56 L127.44,160.88 L127.69,164.07 L127.94,167.10 L128.20,169.97 L128.45,172.69 L128.71,175.24 L128.96,177.63 L129.21,179.86 L129.47,181.95 L129.72,183.88 L129.98,185.67 L130.23,187.32 L130.48,188.84 L130.74,190.24 L130.99,191.52 L131.24,192.70 L131.50,193.77 L131.75,194.75 L132.01,195.64 L132.26,196.45 L132.51,197.18 L132.77,197.84 L133.02,198.44 L133.27,198.98 L133.53,199.46 L133.78,199.90 L134.04,200.29 L134.29,200.64 L134.54,200.96 L134.80,201.24 L135.05,201.49 L135.31,201.71 L135.56,201.91 L135.81,202.09 L136.07,202.25 L136.32,202.39 L136.57,202.51 L136.83,202.62 L137.08,202.72 L137.34,202.80 L137.59,202.88 L137.84,202.94 L138.10,203.00 L138.35,203.05 L138.60,203.10 L138.86,203.14 L139.11,203.17 L139.11,203.40 L116.27,203.40 Z" fill="#000000" stroke="#000" stroke-width="0.5"/>
</g>
<path d="M126.6,142.2H156.3M126.6,140.6v3.2M156.3,140.6v3.2" stroke="#5a5a5a" stroke-width="1.0" fill="none"/>
<text class="gt" x="140.7" y="133.9" text-anchor="middle" textLength="12.3" lengthAdjust="spacingAndGlyphs">44.2</text>
<path d="M109.85,125.72h1.6 M109.85,128.94h1.6 M109.85,132.16h1.6 M109.85,135.38h1.6 M109.85,141.82h1.6 M109.85,145.04h1.6 M109.85,148.26h1.6 M109.85,151.48h1.6 M109.85,157.92h1.6 M109.85,161.14h1.6 M109.85,164.36h1.6 M109.85,167.58h1.6 M109.85,174.02h1.6 M109.85,177.24h1.6 M109.85,180.46h1.6 M109.85,183.68h1.6 M109.85,190.12h1.6 M109.85,193.34h1.6 M109.85,196.56h1.6 M109.85,199.78h1.6 M113.11,204.50v1.1 M114.05,204.50v1.1 M114.88,204.50v1.1 M115.47,204.50v1.1 M116.06,204.50v1.1 M120.19,204.50v1.1 M122.31,204.50v1.1 M123.73,204.50v1.1 M124.91,204.50v1.1 M125.85,204.50v1.1 M126.68,204.50v1.1 M127.27,204.50v1.1 M127.86,204.50v1.1 M131.99,204.50v1.1 M134.11,204.50v1.1 M135.53,204.50v1.1 M136.71,204.50v1.1 M137.65,204.50v1.1 M138.48,204.50v1.1 M139.07,204.50v1.1 M139.66,204.50v1.1 M143.79,204.50v1.1 M145.91,204.50v1.1 M147.33,204.50v1.1 M148.51,204.50v1.1 M149.45,204.50v1.1 M150.28,204.50v1.1 M150.87,204.50v1.1 M151.46,204.50v1.1 M155.59,204.50v1.1 M157.71,204.50v1.1 M159.13,204.50v1.1 M160.31,204.50v1.1 M161.25,204.50v1.1 M162.08,204.50v1.1 M162.67,204.50v1.1 M163.26,204.50v1.1 M167.39,204.50v1.1 M169.51,204.50v1.1 M170.93,204.50v1.1 M172.11,204.50v1.1 M173.05,204.50v1.1 M173.88,204.50v1.1 M174.47,204.50v1.1 M175.06,204.50v1.1" stroke="#888" stroke-width="0.5" fill="none"/>
<path d="M109.55,122.50h2.2 M109.55,138.60h2.2 M109.55,154.70h2.2 M109.55,170.80h2.2 M109.55,186.90h2.2 M116.65,204.00v1.9 M128.45,204.00v1.9 M140.25,204.00v1.9 M152.05,204.00v1.9 M163.85,204.00v1.9 M175.65,204.00v1.9" stroke="#444" stroke-width="0.6" fill="none"/>
<rect x="111.75" y="118.30" width="68.8" height="85.7" fill="none" stroke="#080808" stroke-width="1.35"/>
<clipPath id="c12"><rect x="183.70" y="118.30" width="68.8" height="85.7"/></clipPath>
<g clip-path="url(#c12)">
<path d="M187.26,203.14 L187.52,203.02 L187.78,202.86 L188.04,202.63 L188.31,202.32 L188.57,201.91 L188.83,201.37 L189.09,200.67 L189.36,199.78 L189.62,198.67 L189.88,197.29 L190.14,195.62 L190.40,193.62 L190.67,191.27 L190.93,188.54 L191.19,185.43 L191.45,181.94 L191.72,178.09 L191.98,173.90 L192.24,169.44 L192.50,164.76 L192.77,159.94 L193.03,155.08 L193.29,150.27 L193.55,145.60 L193.81,141.20 L194.08,137.13 L194.34,133.50 L194.60,130.35 L194.86,127.72 L195.13,125.63 L195.30,124.50 L195.39,124.80 L195.65,126.58 L195.91,129.02 L196.18,131.85 L196.44,134.94 L196.70,138.19 L196.96,141.53 L197.22,144.91 L197.49,148.29 L197.75,151.64 L198.01,154.92 L198.27,158.12 L198.54,161.21 L198.80,164.19 L199.06,167.05 L199.32,169.77 L199.59,172.36 L199.85,174.81 L200.11,177.11 L200.37,179.28 L200.63,181.31 L200.90,183.21 L201.16,184.98 L201.42,186.62 L201.68,188.14 L201.95,189.55 L202.21,190.84 L202.47,192.04 L202.73,193.13 L202.99,194.14 L203.26,195.06 L203.52,195.89 L203.78,196.66 L204.04,197.35 L204.31,197.98 L204.57,198.55 L204.83,199.07 L205.09,199.54 L205.36,199.96 L205.62,200.34 L205.88,200.68 L206.14,200.98 L206.40,201.26 L206.67,201.50 L206.93,201.72 L207.19,201.92 L207.45,202.09 L207.72,202.25 L207.98,202.38 L208.24,202.51 L208.50,202.62 L208.77,202.71 L209.03,202.80 L209.29,202.87 L209.55,202.94 L209.81,203.00 L210.08,203.05 L210.34,203.09 L210.60,203.13 L210.86,203.17 L210.86,203.40 L187.26,203.40 Z" fill="#cdcdcd" stroke="none"/>
<path d="M185.80,203.18 L186.03,203.08 L186.26,202.94 L186.49,202.75 L186.72,202.49 L186.95,202.15 L187.18,201.70 L187.41,201.13 L187.65,200.39 L187.88,199.46 L188.11,198.31 L188.34,196.91 L188.57,195.22 L188.80,193.22 L189.03,190.89 L189.26,188.21 L189.49,185.16 L189.72,181.77 L189.95,178.04 L190.19,174.00 L190.42,169.70 L190.65,165.20 L190.88,160.57 L191.11,155.89 L191.34,151.25 L191.57,146.73 L191.80,142.44 L192.03,138.45 L192.26,134.84 L192.49,131.68 L192.73,128.99 L192.96,126.80 L193.19,125.08 L193.20,125.00 L193.42,126.77 L193.65,129.59 L193.88,132.85 L194.11,136.36 L194.34,140.00 L194.57,143.69 L194.80,147.37 L195.04,150.99 L195.27,154.53 L195.50,157.95 L195.73,161.25 L195.96,164.40 L196.19,167.40 L196.42,170.24 L196.65,172.92 L196.88,175.44 L197.11,177.81 L197.34,180.01 L197.58,182.06 L197.81,183.97 L198.04,185.73 L198.27,187.36 L198.50,188.87 L198.73,190.25 L198.96,191.52 L199.19,192.68 L199.42,193.74 L199.65,194.71 L199.89,195.59 L200.12,196.39 L200.35,197.12 L200.58,197.77 L200.81,198.37 L201.04,198.91 L201.27,199.39 L201.50,199.83 L201.73,200.22 L201.96,200.58 L202.19,200.89 L202.43,201.18 L202.66,201.43 L202.89,201.66 L203.12,201.86 L203.35,202.04 L203.58,202.20 L203.81,202.34 L204.04,202.47 L204.27,202.58 L204.50,202.68 L204.73,202.77 L204.97,202.84 L205.20,202.91 L205.43,202.97 L205.66,203.03 L205.89,203.07 L206.12,203.11 L206.35,203.15 L206.58,203.18" fill="none" stroke="#000" stroke-opacity="0.45" stroke-width="0.65" stroke-dasharray="1.1 0.5"/>
<path d="M187.26,203.14 L187.52,203.02 L187.78,202.86 L188.04,202.63 L188.31,202.32 L188.57,201.91 L188.83,201.37 L189.09,200.67 L189.36,199.78 L189.62,198.67 L189.88,197.29 L190.14,195.62 L190.40,193.62 L190.67,191.27 L190.93,188.54 L191.19,185.43 L191.45,181.94 L191.72,178.09 L191.98,173.90 L192.24,169.44 L192.50,164.76 L192.77,159.94 L193.03,155.08 L193.29,150.27 L193.55,145.60 L193.81,141.20 L194.08,137.13 L194.34,133.50 L194.60,130.35 L194.86,127.72 L195.13,125.63 L195.30,124.50 L195.39,124.80 L195.65,126.58 L195.91,129.02 L196.18,131.85 L196.44,134.94 L196.70,138.19 L196.96,141.53 L197.22,144.91 L197.49,148.29 L197.75,151.64 L198.01,154.92 L198.27,158.12 L198.54,161.21 L198.80,164.19 L199.06,167.05 L199.32,169.77 L199.59,172.36 L199.85,174.81 L200.11,177.11 L200.37,179.28 L200.63,181.31 L200.90,183.21 L201.16,184.98 L201.42,186.62 L201.68,188.14 L201.95,189.55 L202.21,190.84 L202.47,192.04 L202.73,193.13 L202.99,194.14 L203.26,195.06 L203.52,195.89 L203.78,196.66 L204.04,197.35 L204.31,197.98 L204.57,198.55 L204.83,199.07 L205.09,199.54 L205.36,199.96 L205.62,200.34 L205.88,200.68 L206.14,200.98 L206.40,201.26 L206.67,201.50 L206.93,201.72 L207.19,201.92 L207.45,202.09 L207.72,202.25 L207.98,202.38 L208.24,202.51 L208.50,202.62 L208.77,202.71 L209.03,202.80 L209.29,202.87 L209.55,202.94 L209.81,203.00 L210.08,203.05 L210.34,203.09 L210.60,203.13 L210.86,203.17" fill="none" stroke="#333" stroke-width="0.6"/>
</g>
<path d="M197.0,142.2H228.8M197.0,140.6v3.2M228.8,140.6v3.2" stroke="#5a5a5a" stroke-width="1.0" fill="none"/>
<text class="gt" x="213.0" y="133.9" text-anchor="middle" textLength="12.3" lengthAdjust="spacingAndGlyphs">25.7</text>
<path d="M181.80,125.72h1.6 M181.80,128.94h1.6 M181.80,132.16h1.6 M181.80,135.38h1.6 M181.80,141.82h1.6 M181.80,145.04h1.6 M181.80,148.26h1.6 M181.80,151.48h1.6 M181.80,157.92h1.6 M181.80,161.14h1.6 M181.80,164.36h1.6 M181.80,167.58h1.6 M181.80,174.02h1.6 M181.80,177.24h1.6 M181.80,180.46h1.6 M181.80,183.68h1.6 M181.80,190.12h1.6 M181.80,193.34h1.6 M181.80,196.56h1.6 M181.80,199.78h1.6 M185.06,204.50v1.1 M186.00,204.50v1.1 M186.83,204.50v1.1 M187.42,204.50v1.1 M188.01,204.50v1.1 M192.14,204.50v1.1 M194.26,204.50v1.1 M195.68,204.50v1.1 M196.86,204.50v1.1 M197.80,204.50v1.1 M198.63,204.50v1.1 M199.22,204.50v1.1 M199.81,204.50v1.1 M203.94,204.50v1.1 M206.06,204.50v1.1 M207.48,204.50v1.1 M208.66,204.50v1.1 M209.60,204.50v1.1 M210.43,204.50v1.1 M211.02,204.50v1.1 M211.61,204.50v1.1 M215.74,204.50v1.1 M217.86,204.50v1.1 M219.28,204.50v1.1 M220.46,204.50v1.1 M221.40,204.50v1.1 M222.23,204.50v1.1 M222.82,204.50v1.1 M223.41,204.50v1.1 M227.54,204.50v1.1 M229.66,204.50v1.1 M231.08,204.50v1.1 M232.26,204.50v1.1 M233.20,204.50v1.1 M234.03,204.50v1.1 M234.62,204.50v1.1 M235.21,204.50v1.1 M239.34,204.50v1.1 M241.46,204.50v1.1 M242.88,204.50v1.1 M244.06,204.50v1.1 M245.00,204.50v1.1 M245.83,204.50v1.1 M246.42,204.50v1.1 M247.01,204.50v1.1" stroke="#888" stroke-width="0.5" fill="none"/>
<path d="M181.50,122.50h2.2 M181.50,138.60h2.2 M181.50,154.70h2.2 M181.50,170.80h2.2 M181.50,186.90h2.2 M188.60,204.00v1.9 M200.40,204.00v1.9 M212.20,204.00v1.9 M224.00,204.00v1.9 M235.80,204.00v1.9 M247.60,204.00v1.9" stroke="#444" stroke-width="0.6" fill="none"/>
<rect x="183.70" y="118.30" width="68.8" height="85.7" fill="none" stroke="#080808" stroke-width="1.35"/>
<clipPath id="c13"><rect x="255.65" y="118.30" width="68.8" height="85.7"/></clipPath>
<g clip-path="url(#c13)">
<path d="M259.54,203.13 L259.81,203.01 L260.08,202.83 L260.35,202.60 L260.62,202.28 L260.89,201.86 L261.15,201.31 L261.42,200.60 L261.69,199.69 L261.96,198.57 L262.23,197.18 L262.49,195.49 L262.76,193.48 L263.03,191.12 L263.30,188.38 L263.57,185.26 L263.84,181.77 L264.10,177.91 L264.37,173.73 L264.64,169.26 L264.91,164.58 L265.18,159.76 L265.45,154.89 L265.71,150.07 L265.98,145.39 L266.25,140.95 L266.52,136.85 L266.79,133.17 L267.06,129.97 L267.32,127.29 L267.59,125.14 L267.80,123.80 L267.86,123.97 L268.13,125.65 L268.40,128.06 L268.66,130.88 L268.93,133.97 L269.20,137.24 L269.47,140.60 L269.74,144.02 L270.01,147.43 L270.27,150.81 L270.54,154.14 L270.81,157.37 L271.08,160.51 L271.35,163.53 L271.62,166.43 L271.88,169.19 L272.15,171.82 L272.42,174.30 L272.69,176.64 L272.96,178.85 L273.23,180.91 L273.49,182.84 L273.76,184.64 L274.03,186.31 L274.30,187.85 L274.57,189.29 L274.83,190.61 L275.10,191.82 L275.37,192.94 L275.64,193.96 L275.91,194.89 L276.18,195.75 L276.44,196.53 L276.71,197.23 L276.98,197.88 L277.25,198.46 L277.52,198.98 L277.79,199.46 L278.05,199.89 L278.32,200.28 L278.59,200.62 L278.86,200.94 L279.13,201.21 L279.40,201.46 L279.66,201.69 L279.93,201.89 L280.20,202.07 L280.47,202.22 L280.74,202.36 L281.00,202.49 L281.27,202.60 L281.54,202.70 L281.81,202.78 L282.08,202.86 L282.35,202.93 L282.61,202.99 L282.88,203.04 L283.15,203.09 L283.42,203.13 L283.69,203.16 L283.69,203.40 L259.54,203.40 Z" fill="#969696" stroke="none"/>
<path d="M257.20,203.18 L257.42,203.08 L257.64,202.95 L257.87,202.77 L258.09,202.53 L258.31,202.22 L258.54,201.80 L258.76,201.27 L258.98,200.60 L259.21,199.76 L259.43,198.72 L259.65,197.45 L259.88,195.93 L260.10,194.12 L260.32,192.01 L260.55,189.58 L260.77,186.82 L260.99,183.72 L261.22,180.30 L261.44,176.57 L261.66,172.57 L261.89,168.35 L262.11,163.95 L262.33,159.46 L262.56,154.93 L262.78,150.46 L263.00,146.12 L263.23,142.00 L263.45,138.17 L263.67,134.71 L263.90,131.65 L264.12,129.06 L264.34,126.92 L264.57,125.22 L264.60,125.00 L264.79,126.58 L265.01,129.43 L265.24,132.75 L265.46,136.34 L265.68,140.07 L265.91,143.84 L266.13,147.61 L266.35,151.31 L266.58,154.92 L266.80,158.41 L267.02,161.76 L267.25,164.97 L267.47,168.01 L267.69,170.88 L267.92,173.58 L268.14,176.12 L268.36,178.49 L268.59,180.70 L268.81,182.75 L269.03,184.65 L269.26,186.40 L269.48,188.01 L269.70,189.50 L269.93,190.86 L270.15,192.10 L270.37,193.24 L270.60,194.27 L270.82,195.21 L271.04,196.07 L271.27,196.84 L271.49,197.54 L271.71,198.17 L271.94,198.74 L272.16,199.26 L272.38,199.72 L272.61,200.13 L272.83,200.50 L273.05,200.83 L273.28,201.13 L273.50,201.39 L273.72,201.63 L273.94,201.84 L274.17,202.02 L274.39,202.19 L274.61,202.34 L274.84,202.46 L275.06,202.58 L275.28,202.68 L275.51,202.77 L275.73,202.85 L275.95,202.92 L276.18,202.98 L276.40,203.03 L276.62,203.08 L276.85,203.12 L277.07,203.16 L277.29,203.19" fill="none" stroke="#000" stroke-opacity="0.45" stroke-width="0.65" stroke-dasharray="1.1 0.5"/>
<path d="M259.54,203.13 L259.81,203.01 L260.08,202.83 L260.35,202.60 L260.62,202.28 L260.89,201.86 L261.15,201.31 L261.42,200.60 L261.69,199.69 L261.96,198.57 L262.23,197.18 L262.49,195.49 L262.76,193.48 L263.03,191.12 L263.30,188.38 L263.57,185.26 L263.84,181.77 L264.10,177.91 L264.37,173.73 L264.64,169.26 L264.91,164.58 L265.18,159.76 L265.45,154.89 L265.71,150.07 L265.98,145.39 L266.25,140.95 L266.52,136.85 L266.79,133.17 L267.06,129.97 L267.32,127.29 L267.59,125.14 L267.80,123.80 L267.86,123.97 L268.13,125.65 L268.40,128.06 L268.66,130.88 L268.93,133.97 L269.20,137.24 L269.47,140.60 L269.74,144.02 L270.01,147.43 L270.27,150.81 L270.54,154.14 L270.81,157.37 L271.08,160.51 L271.35,163.53 L271.62,166.43 L271.88,169.19 L272.15,171.82 L272.42,174.30 L272.69,176.64 L272.96,178.85 L273.23,180.91 L273.49,182.84 L273.76,184.64 L274.03,186.31 L274.30,187.85 L274.57,189.29 L274.83,190.61 L275.10,191.82 L275.37,192.94 L275.64,193.96 L275.91,194.89 L276.18,195.75 L276.44,196.53 L276.71,197.23 L276.98,197.88 L277.25,198.46 L277.52,198.98 L277.79,199.46 L278.05,199.89 L278.32,200.28 L278.59,200.62 L278.86,200.94 L279.13,201.21 L279.40,201.46 L279.66,201.69 L279.93,201.89 L280.20,202.07 L280.47,202.22 L280.74,202.36 L281.00,202.49 L281.27,202.60 L281.54,202.70 L281.81,202.78 L282.08,202.86 L282.35,202.93 L282.61,202.99 L282.88,203.04 L283.15,203.09 L283.42,203.13 L283.69,203.16" fill="none" stroke="#333" stroke-width="0.6"/>
</g>
<path d="M269.0,142.2H300.4M269.0,140.6v3.2M300.4,140.6v3.2" stroke="#5a5a5a" stroke-width="1.0" fill="none"/>
<text class="gt" x="284.5" y="133.9" text-anchor="middle" textLength="12.3" lengthAdjust="spacingAndGlyphs">35.6</text>
<path d="M253.75,125.72h1.6 M253.75,128.94h1.6 M253.75,132.16h1.6 M253.75,135.38h1.6 M253.75,141.82h1.6 M253.75,145.04h1.6 M253.75,148.26h1.6 M253.75,151.48h1.6 M253.75,157.92h1.6 M253.75,161.14h1.6 M253.75,164.36h1.6 M253.75,167.58h1.6 M253.75,174.02h1.6 M253.75,177.24h1.6 M253.75,180.46h1.6 M253.75,183.68h1.6 M253.75,190.12h1.6 M253.75,193.34h1.6 M253.75,196.56h1.6 M253.75,199.78h1.6 M257.01,204.50v1.1 M257.95,204.50v1.1 M258.78,204.50v1.1 M259.37,204.50v1.1 M259.96,204.50v1.1 M264.09,204.50v1.1 M266.21,204.50v1.1 M267.63,204.50v1.1 M268.81,204.50v1.1 M269.75,204.50v1.1 M270.58,204.50v1.1 M271.17,204.50v1.1 M271.76,204.50v1.1 M275.89,204.50v1.1 M278.01,204.50v1.1 M279.43,204.50v1.1 M280.61,204.50v1.1 M281.55,204.50v1.1 M282.38,204.50v1.1 M282.97,204.50v1.1 M283.56,204.50v1.1 M287.69,204.50v1.1 M289.81,204.50v1.1 M291.23,204.50v1.1 M292.41,204.50v1.1 M293.35,204.50v1.1 M294.18,204.50v1.1 M294.77,204.50v1.1 M295.36,204.50v1.1 M299.49,204.50v1.1 M301.61,204.50v1.1 M303.03,204.50v1.1 M304.21,204.50v1.1 M305.15,204.50v1.1 M305.98,204.50v1.1 M306.57,204.50v1.1 M307.16,204.50v1.1 M311.29,204.50v1.1 M313.41,204.50v1.1 M314.83,204.50v1.1 M316.01,204.50v1.1 M316.95,204.50v1.1 M317.78,204.50v1.1 M318.37,204.50v1.1 M318.96,204.50v1.1" stroke="#888" stroke-width="0.5" fill="none"/>
<path d="M253.45,122.50h2.2 M253.45,138.60h2.2 M253.45,154.70h2.2 M253.45,170.80h2.2 M253.45,186.90h2.2 M260.55,204.00v1.9 M272.35,204.00v1.9 M284.15,204.00v1.9 M295.95,204.00v1.9 M307.75,204.00v1.9 M319.55,204.00v1.9" stroke="#444" stroke-width="0.6" fill="none"/>
<rect x="255.65" y="118.30" width="68.8" height="85.7" fill="none" stroke="#080808" stroke-width="1.35"/>
<clipPath id="c14"><rect x="327.60" y="118.30" width="68.8" height="85.7"/></clipPath>
<g clip-path="url(#c14)">
<path d="M332.76,203.14 L333.01,203.03 L333.26,202.87 L333.51,202.66 L333.76,202.38 L334.01,202.00 L334.27,201.52 L334.52,200.89 L334.77,200.10 L335.02,199.11 L335.27,197.89 L335.52,196.42 L335.78,194.65 L336.03,192.57 L336.28,190.16 L336.53,187.40 L336.78,184.28 L337.03,180.82 L337.28,177.03 L337.54,172.95 L337.79,168.62 L338.04,164.11 L338.29,159.48 L338.54,154.82 L338.79,150.20 L339.04,145.73 L339.30,141.49 L339.55,137.56 L339.80,134.02 L340.05,130.91 L340.30,128.29 L340.55,126.15 L340.80,124.50 L340.81,124.51 L341.06,125.98 L341.31,128.34 L341.56,131.17 L341.81,134.29 L342.06,137.60 L342.31,141.02 L342.57,144.49 L342.82,147.97 L343.07,151.41 L343.32,154.79 L343.57,158.07 L343.82,161.26 L344.08,164.31 L344.33,167.24 L344.58,170.03 L344.83,172.67 L345.08,175.16 L345.33,177.51 L345.58,179.71 L345.84,181.77 L346.09,183.68 L346.34,185.46 L346.59,187.11 L346.84,188.63 L347.09,190.04 L347.34,191.33 L347.60,192.51 L347.85,193.60 L348.10,194.59 L348.35,195.49 L348.60,196.31 L348.85,197.05 L349.11,197.73 L349.36,198.34 L349.61,198.89 L349.86,199.39 L350.11,199.84 L350.36,200.24 L350.61,200.60 L350.87,200.92 L351.12,201.21 L351.37,201.46 L351.62,201.69 L351.87,201.90 L352.12,202.08 L352.37,202.24 L352.63,202.38 L352.88,202.51 L353.13,202.62 L353.38,202.72 L353.63,202.80 L353.88,202.88 L354.14,202.95 L354.39,203.00 L354.64,203.06 L354.89,203.10 L355.14,203.14 L355.39,203.18 L355.39,203.40 L332.76,203.40 Z" fill="#5a5a5a" stroke="none"/>
<path d="M329.20,203.18 L329.40,203.09 L329.60,202.98 L329.81,202.83 L330.01,202.63 L330.21,202.37 L330.42,202.04 L330.62,201.62 L330.82,201.10 L331.03,200.46 L331.23,199.67 L331.43,198.71 L331.63,197.57 L331.84,196.22 L332.04,194.64 L332.24,192.81 L332.45,190.72 L332.65,188.36 L332.85,185.72 L333.06,182.80 L333.26,179.62 L333.46,176.20 L333.67,172.55 L333.87,168.71 L334.07,164.73 L334.27,160.66 L334.48,156.54 L334.68,152.44 L334.88,148.43 L335.09,144.56 L335.29,140.89 L335.49,137.48 L335.70,134.38 L335.90,131.63 L336.10,129.25 L336.30,127.25 L336.51,125.63 L336.60,125.00 L336.71,125.77 L336.91,128.26 L337.12,131.41 L337.32,134.95 L337.52,138.70 L337.73,142.57 L337.93,146.47 L338.13,150.34 L338.34,154.14 L338.54,157.83 L338.74,161.39 L338.94,164.78 L339.15,168.01 L339.35,171.06 L339.55,173.93 L339.76,176.62 L339.96,179.11 L340.16,181.43 L340.37,183.58 L340.57,185.55 L340.77,187.36 L340.98,189.02 L341.18,190.53 L341.38,191.91 L341.58,193.16 L341.79,194.29 L341.99,195.31 L342.19,196.23 L342.40,197.06 L342.60,197.80 L342.80,198.46 L343.01,199.05 L343.21,199.58 L343.41,200.05 L343.62,200.46 L343.82,200.83 L344.02,201.16 L344.22,201.44 L344.43,201.70 L344.63,201.92 L344.83,202.11 L345.04,202.28 L345.24,202.43 L345.44,202.56 L345.65,202.68 L345.85,202.78 L346.05,202.86 L346.25,202.94 L346.46,203.00 L346.66,203.06 L346.86,203.11 L347.07,203.15 L347.27,203.19 L347.47,203.22" fill="none" stroke="#000" stroke-opacity="0.45" stroke-width="0.65" stroke-dasharray="1.1 0.5"/>
<path d="M332.76,203.14 L333.01,203.03 L333.26,202.87 L333.51,202.66 L333.76,202.38 L334.01,202.00 L334.27,201.52 L334.52,200.89 L334.77,200.10 L335.02,199.11 L335.27,197.89 L335.52,196.42 L335.78,194.65 L336.03,192.57 L336.28,190.16 L336.53,187.40 L336.78,184.28 L337.03,180.82 L337.28,177.03 L337.54,172.95 L337.79,168.62 L338.04,164.11 L338.29,159.48 L338.54,154.82 L338.79,150.20 L339.04,145.73 L339.30,141.49 L339.55,137.56 L339.80,134.02 L340.05,130.91 L340.30,128.29 L340.55,126.15 L340.80,124.50 L340.81,124.51 L341.06,125.98 L341.31,128.34 L341.56,131.17 L341.81,134.29 L342.06,137.60 L342.31,141.02 L342.57,144.49 L342.82,147.97 L343.07,151.41 L343.32,154.79 L343.57,158.07 L343.82,161.26 L344.08,164.31 L344.33,167.24 L344.58,170.03 L344.83,172.67 L345.08,175.16 L345.33,177.51 L345.58,179.71 L345.84,181.77 L346.09,183.68 L346.34,185.46 L346.59,187.11 L346.84,188.63 L347.09,190.04 L347.34,191.33 L347.60,192.51 L347.85,193.60 L348.10,194.59 L348.35,195.49 L348.60,196.31 L348.85,197.05 L349.11,197.73 L349.36,198.34 L349.61,198.89 L349.86,199.39 L350.11,199.84 L350.36,200.24 L350.61,200.60 L350.87,200.92 L351.12,201.21 L351.37,201.46 L351.62,201.69 L351.87,201.90 L352.12,202.08 L352.37,202.24 L352.63,202.38 L352.88,202.51 L353.13,202.62 L353.38,202.72 L353.63,202.80 L353.88,202.88 L354.14,202.95 L354.39,203.00 L354.64,203.06 L354.89,203.10 L355.14,203.14 L355.39,203.18" fill="none" stroke="#333" stroke-width="0.6"/>
</g>
<path d="M341.2,142.2H372.6M341.2,140.6v3.2M372.6,140.6v3.2" stroke="#5a5a5a" stroke-width="1.0" fill="none"/>
<text class="gt" x="357.0" y="133.9" text-anchor="middle" textLength="12.3" lengthAdjust="spacingAndGlyphs">41.3</text>
<path d="M325.70,125.72h1.6 M325.70,128.94h1.6 M325.70,132.16h1.6 M325.70,135.38h1.6 M325.70,141.82h1.6 M325.70,145.04h1.6 M325.70,148.26h1.6 M325.70,151.48h1.6 M325.70,157.92h1.6 M325.70,161.14h1.6 M325.70,164.36h1.6 M325.70,167.58h1.6 M325.70,174.02h1.6 M325.70,177.24h1.6 M325.70,180.46h1.6 M325.70,183.68h1.6 M325.70,190.12h1.6 M325.70,193.34h1.6 M325.70,196.56h1.6 M325.70,199.78h1.6 M328.96,204.50v1.1 M329.90,204.50v1.1 M330.73,204.50v1.1 M331.32,204.50v1.1 M331.91,204.50v1.1 M336.04,204.50v1.1 M338.16,204.50v1.1 M339.58,204.50v1.1 M340.76,204.50v1.1 M341.70,204.50v1.1 M342.53,204.50v1.1 M343.12,204.50v1.1 M343.71,204.50v1.1 M347.84,204.50v1.1 M349.96,204.50v1.1 M351.38,204.50v1.1 M352.56,204.50v1.1 M353.50,204.50v1.1 M354.33,204.50v1.1 M354.92,204.50v1.1 M355.51,204.50v1.1 M359.64,204.50v1.1 M361.76,204.50v1.1 M363.18,204.50v1.1 M364.36,204.50v1.1 M365.30,204.50v1.1 M366.13,204.50v1.1 M366.72,204.50v1.1 M367.31,204.50v1.1 M371.44,204.50v1.1 M373.56,204.50v1.1 M374.98,204.50v1.1 M376.16,204.50v1.1 M377.10,204.50v1.1 M377.93,204.50v1.1 M378.52,204.50v1.1 M379.11,204.50v1.1 M383.24,204.50v1.1 M385.36,204.50v1.1 M386.78,204.50v1.1 M387.96,204.50v1.1 M388.90,204.50v1.1 M389.73,204.50v1.1 M390.32,204.50v1.1 M390.91,204.50v1.1" stroke="#888" stroke-width="0.5" fill="none"/>
<path d="M325.40,122.50h2.2 M325.40,138.60h2.2 M325.40,154.70h2.2 M325.40,170.80h2.2 M325.40,186.90h2.2 M332.50,204.00v1.9 M344.30,204.00v1.9 M356.10,204.00v1.9 M367.90,204.00v1.9 M379.70,204.00v1.9 M391.50,204.00v1.9" stroke="#444" stroke-width="0.6" fill="none"/>
<rect x="327.60" y="118.30" width="68.8" height="85.7" fill="none" stroke="#080808" stroke-width="1.35"/>
<clipPath id="c15"><rect x="399.55" y="118.30" width="68.8" height="85.7"/></clipPath>
<g clip-path="url(#c15)">
<path d="M404.06,203.14 L404.32,203.02 L404.57,202.86 L404.83,202.64 L405.09,202.33 L405.35,201.93 L405.61,201.41 L405.87,200.73 L406.13,199.87 L406.39,198.79 L406.64,197.46 L406.90,195.85 L407.16,193.91 L407.42,191.64 L407.68,189.00 L407.94,185.99 L408.20,182.61 L408.46,178.86 L408.71,174.78 L408.97,170.42 L409.23,165.82 L409.49,161.07 L409.75,156.25 L410.01,151.44 L410.27,146.76 L410.52,142.29 L410.78,138.12 L411.04,134.35 L411.30,131.04 L411.56,128.23 L411.82,125.94 L412.08,124.14 L412.10,124.00 L412.34,125.23 L412.59,127.48 L412.85,130.22 L413.11,133.26 L413.37,136.50 L413.63,139.87 L413.89,143.29 L414.15,146.73 L414.41,150.14 L414.66,153.50 L414.92,156.78 L415.18,159.95 L415.44,163.02 L415.70,165.96 L415.96,168.76 L416.22,171.43 L416.47,173.95 L416.73,176.33 L416.99,178.57 L417.25,180.67 L417.51,182.63 L417.77,184.45 L418.03,186.15 L418.29,187.72 L418.54,189.17 L418.80,190.51 L419.06,191.74 L419.32,192.87 L419.58,193.91 L419.84,194.85 L420.10,195.72 L420.36,196.50 L420.61,197.22 L420.87,197.87 L421.13,198.46 L421.39,198.99 L421.65,199.47 L421.91,199.90 L422.17,200.29 L422.42,200.63 L422.68,200.95 L422.94,201.23 L423.20,201.48 L423.46,201.70 L423.72,201.90 L423.98,202.08 L424.24,202.24 L424.49,202.38 L424.75,202.50 L425.01,202.61 L425.27,202.71 L425.53,202.79 L425.79,202.87 L426.05,202.94 L426.31,203.00 L426.56,203.05 L426.82,203.09 L427.08,203.13 L427.34,203.17 L427.34,203.40 L404.06,203.40 Z" fill="#606060" stroke="none"/>
<path d="M400.90,203.18 L401.12,203.08 L401.34,202.95 L401.57,202.77 L401.79,202.53 L402.01,202.22 L402.24,201.80 L402.46,201.27 L402.68,200.60 L402.91,199.76 L403.13,198.72 L403.35,197.45 L403.58,195.93 L403.80,194.12 L404.02,192.01 L404.25,189.58 L404.47,186.82 L404.69,183.72 L404.92,180.30 L405.14,176.57 L405.36,172.57 L405.59,168.35 L405.81,163.95 L406.03,159.46 L406.26,154.93 L406.48,150.46 L406.70,146.12 L406.93,142.00 L407.15,138.17 L407.37,134.71 L407.60,131.65 L407.82,129.06 L408.04,126.92 L408.27,125.22 L408.30,125.00 L408.49,126.58 L408.71,129.43 L408.94,132.75 L409.16,136.34 L409.38,140.07 L409.61,143.84 L409.83,147.61 L410.05,151.31 L410.28,154.92 L410.50,158.41 L410.72,161.76 L410.95,164.97 L411.17,168.01 L411.39,170.88 L411.62,173.58 L411.84,176.12 L412.06,178.49 L412.29,180.70 L412.51,182.75 L412.73,184.65 L412.96,186.40 L413.18,188.01 L413.40,189.50 L413.63,190.86 L413.85,192.10 L414.07,193.24 L414.30,194.27 L414.52,195.21 L414.74,196.07 L414.97,196.84 L415.19,197.54 L415.41,198.17 L415.64,198.74 L415.86,199.26 L416.08,199.72 L416.31,200.13 L416.53,200.50 L416.75,200.83 L416.98,201.13 L417.20,201.39 L417.42,201.63 L417.64,201.84 L417.87,202.02 L418.09,202.19 L418.31,202.34 L418.54,202.46 L418.76,202.58 L418.98,202.68 L419.21,202.77 L419.43,202.85 L419.65,202.92 L419.88,202.98 L420.10,203.03 L420.32,203.08 L420.55,203.12 L420.77,203.16 L420.99,203.19" fill="none" stroke="#000" stroke-opacity="0.45" stroke-width="0.65" stroke-dasharray="1.1 0.5"/>
<path d="M404.06,203.14 L404.32,203.02 L404.57,202.86 L404.83,202.64 L405.09,202.33 L405.35,201.93 L405.61,201.41 L405.87,200.73 L406.13,199.87 L406.39,198.79 L406.64,197.46 L406.90,195.85 L407.16,193.91 L407.42,191.64 L407.68,189.00 L407.94,185.99 L408.20,182.61 L408.46,178.86 L408.71,174.78 L408.97,170.42 L409.23,165.82 L409.49,161.07 L409.75,156.25 L410.01,151.44 L410.27,146.76 L410.52,142.29 L410.78,138.12 L411.04,134.35 L411.30,131.04 L411.56,128.23 L411.82,125.94 L412.08,124.14 L412.10,124.00 L412.34,125.23 L412.59,127.48 L412.85,130.22 L413.11,133.26 L413.37,136.50 L413.63,139.87 L413.89,143.29 L414.15,146.73 L414.41,150.14 L414.66,153.50 L414.92,156.78 L415.18,159.95 L415.44,163.02 L415.70,165.96 L415.96,168.76 L416.22,171.43 L416.47,173.95 L416.73,176.33 L416.99,178.57 L417.25,180.67 L417.51,182.63 L417.77,184.45 L418.03,186.15 L418.29,187.72 L418.54,189.17 L418.80,190.51 L419.06,191.74 L419.32,192.87 L419.58,193.91 L419.84,194.85 L420.10,195.72 L420.36,196.50 L420.61,197.22 L420.87,197.87 L421.13,198.46 L421.39,198.99 L421.65,199.47 L421.91,199.90 L422.17,200.29 L422.42,200.63 L422.68,200.95 L422.94,201.23 L423.20,201.48 L423.46,201.70 L423.72,201.90 L423.98,202.08 L424.24,202.24 L424.49,202.38 L424.75,202.50 L425.01,202.61 L425.27,202.71 L425.53,202.79 L425.79,202.87 L426.05,202.94 L426.31,203.00 L426.56,203.05 L426.82,203.09 L427.08,203.13 L427.34,203.17" fill="none" stroke="#333" stroke-width="0.6"/>
</g>
<path d="M412.5,142.2H443.9M412.5,140.6v3.2M443.9,140.6v3.2" stroke="#5a5a5a" stroke-width="1.0" fill="none"/>
<text class="gt" x="428.2" y="133.9" text-anchor="middle" textLength="12.3" lengthAdjust="spacingAndGlyphs">46.5</text>
<path d="M397.65,125.72h1.6 M397.65,128.94h1.6 M397.65,132.16h1.6 M397.65,135.38h1.6 M397.65,141.82h1.6 M397.65,145.04h1.6 M397.65,148.26h1.6 M397.65,151.48h1.6 M397.65,157.92h1.6 M397.65,161.14h1.6 M397.65,164.36h1.6 M397.65,167.58h1.6 M397.65,174.02h1.6 M397.65,177.24h1.6 M397.65,180.46h1.6 M397.65,183.68h1.6 M397.65,190.12h1.6 M397.65,193.34h1.6 M397.65,196.56h1.6 M397.65,199.78h1.6 M400.91,204.50v1.1 M401.85,204.50v1.1 M402.68,204.50v1.1 M403.27,204.50v1.1 M403.86,204.50v1.1 M407.99,204.50v1.1 M410.11,204.50v1.1 M411.53,204.50v1.1 M412.71,204.50v1.1 M413.65,204.50v1.1 M414.48,204.50v1.1 M415.07,204.50v1.1 M415.66,204.50v1.1 M419.79,204.50v1.1 M421.91,204.50v1.1 M423.33,204.50v1.1 M424.51,204.50v1.1 M425.45,204.50v1.1 M426.28,204.50v1.1 M426.87,204.50v1.1 M427.46,204.50v1.1 M431.59,204.50v1.1 M433.71,204.50v1.1 M435.13,204.50v1.1 M436.31,204.50v1.1 M437.25,204.50v1.1 M438.08,204.50v1.1 M438.67,204.50v1.1 M439.26,204.50v1.1 M443.39,204.50v1.1 M445.51,204.50v1.1 M446.93,204.50v1.1 M448.11,204.50v1.1 M449.05,204.50v1.1 M449.88,204.50v1.1 M450.47,204.50v1.1 M451.06,204.50v1.1 M455.19,204.50v1.1 M457.31,204.50v1.1 M458.73,204.50v1.1 M459.91,204.50v1.1 M460.85,204.50v1.1 M461.68,204.50v1.1 M462.27,204.50v1.1 M462.86,204.50v1.1" stroke="#888" stroke-width="0.5" fill="none"/>
<path d="M397.35,122.50h2.2 M397.35,138.60h2.2 M397.35,154.70h2.2 M397.35,170.80h2.2 M397.35,186.90h2.2 M404.45,204.00v1.9 M416.25,204.00v1.9 M428.05,204.00v1.9 M439.85,204.00v1.9 M451.65,204.00v1.9 M463.45,204.00v1.9" stroke="#444" stroke-width="0.6" fill="none"/>
<rect x="399.55" y="118.30" width="68.8" height="85.7" fill="none" stroke="#080808" stroke-width="1.35"/>
<text class="rl" x="21.0" y="253.7" text-anchor="middle" textLength="28.0" lengthAdjust="spacingAndGlyphs">MHC-I</text>
<clipPath id="c20"><rect x="39.80" y="208.30" width="68.8" height="85.7"/></clipPath>
<g clip-path="url(#c20)">
<path d="M35.82,293.19 L36.06,293.15 L36.30,293.11 L36.53,293.07 L36.77,293.02 L37.00,292.96 L37.24,292.89 L37.48,292.81 L37.71,292.73 L37.95,292.63 L38.18,292.51 L38.42,292.38 L38.66,292.23 L38.89,292.07 L39.13,291.88 L39.36,291.66 L39.60,291.42 L39.84,291.15 L40.07,290.84 L40.31,290.50 L40.54,290.11 L40.78,289.68 L41.02,289.20 L41.25,288.66 L41.49,288.05 L41.73,287.39 L41.96,286.64 L42.20,285.82 L42.43,284.91 L42.67,283.91 L42.91,282.81 L43.14,281.60 L43.38,280.27 L43.61,278.83 L43.85,277.25 L44.09,275.53 L44.32,273.67 L44.56,271.66 L44.79,269.49 L45.03,267.16 L45.27,264.66 L45.50,262.00 L45.74,259.18 L45.98,256.19 L46.21,253.05 L46.45,249.76 L46.68,246.33 L46.92,242.79 L47.16,239.16 L47.39,235.47 L47.63,231.76 L47.86,228.08 L48.10,224.51 L48.34,221.12 L48.57,218.06 L48.81,215.54 L49.00,214.30 L49.04,214.65 L49.28,217.15 L49.52,220.45 L49.75,224.32 L49.99,228.61 L50.22,233.19 L50.46,237.93 L50.70,242.72 L50.93,247.47 L51.17,252.11 L51.41,256.57 L51.64,260.79 L51.88,264.74 L52.11,268.40 L52.35,271.75 L52.59,274.78 L52.82,277.50 L53.06,279.92 L53.29,282.05 L53.53,283.90 L53.77,285.51 L54.00,286.89 L54.24,288.06 L54.47,289.05 L54.71,289.88 L54.95,290.57 L55.18,291.13 L55.42,291.60 L55.66,291.98 L55.89,292.29 L56.13,292.53 L56.36,292.73 L56.60,292.88 L56.84,293.00 L57.07,293.10" fill="none" stroke="#000" stroke-opacity="0.45" stroke-width="0.65" stroke-dasharray="1.1 0.5"/>
<path d="M45.03,293.12 L45.23,293.03 L45.43,292.92 L45.63,292.78 L45.83,292.61 L46.03,292.39 L46.23,292.12 L46.43,291.79 L46.62,291.39 L46.82,290.92 L47.02,290.35 L47.22,289.67 L47.42,288.88 L47.62,287.96 L47.82,286.89 L48.02,285.67 L48.22,284.28 L48.42,282.71 L48.62,280.95 L48.82,279.00 L49.02,276.85 L49.22,274.51 L49.41,271.97 L49.61,269.24 L49.81,266.34 L50.01,263.27 L50.21,260.07 L50.41,256.75 L50.61,253.34 L50.81,249.87 L51.01,246.37 L51.21,242.89 L51.41,239.46 L51.61,236.11 L51.81,232.88 L52.01,229.81 L52.20,226.94 L52.40,224.28 L52.60,221.87 L52.80,219.71 L53.00,217.84 L53.20,216.23 L53.40,214.89 L53.50,214.30 L53.60,214.79 L53.80,215.88 L54.00,217.12 L54.20,218.54 L54.40,220.16 L54.60,221.97 L54.80,223.98 L54.99,226.17 L55.19,228.54 L55.39,231.06 L55.59,233.73 L55.79,236.52 L55.99,239.42 L56.19,242.39 L56.39,245.41 L56.59,248.46 L56.79,251.51 L56.99,254.54 L57.19,257.52 L57.39,260.44 L57.59,263.27 L57.78,266.00 L57.98,268.61 L58.18,271.09 L58.38,273.42 L58.58,275.61 L58.78,277.64 L58.98,279.52 L59.18,281.24 L59.38,282.81 L59.58,284.23 L59.78,285.50 L59.98,286.64 L60.18,287.64 L60.38,288.53 L60.57,289.30 L60.77,289.97 L60.97,290.55 L61.17,291.05 L61.37,291.47 L61.57,291.82 L61.77,292.12 L61.97,292.37 L62.17,292.57 L62.37,292.74 L62.57,292.88 L62.77,292.99 L62.97,293.08" fill="none" stroke="#444" stroke-width="0.7"/>
</g>
<path d="M57.9,246.8H91.5M57.9,245.2v3.2M91.5,245.2v3.2" stroke="#5a5a5a" stroke-width="1.0" fill="none"/>
<text class="gt" x="74.7" y="239.0" text-anchor="middle" textLength="12.3" lengthAdjust="spacingAndGlyphs">10.3</text>
<path d="M37.90,215.72h1.6 M37.90,218.94h1.6 M37.90,222.16h1.6 M37.90,225.38h1.6 M37.90,231.82h1.6 M37.90,235.04h1.6 M37.90,238.26h1.6 M37.90,241.48h1.6 M37.90,247.92h1.6 M37.90,251.14h1.6 M37.90,254.36h1.6 M37.90,257.58h1.6 M37.90,264.02h1.6 M37.90,267.24h1.6 M37.90,270.46h1.6 M37.90,273.68h1.6 M37.90,280.12h1.6 M37.90,283.34h1.6 M37.90,286.56h1.6 M37.90,289.78h1.6 M41.16,294.50v1.1 M42.10,294.50v1.1 M42.93,294.50v1.1 M43.52,294.50v1.1 M44.11,294.50v1.1 M48.24,294.50v1.1 M50.36,294.50v1.1 M51.78,294.50v1.1 M52.96,294.50v1.1 M53.90,294.50v1.1 M54.73,294.50v1.1 M55.32,294.50v1.1 M55.91,294.50v1.1 M60.04,294.50v1.1 M62.16,294.50v1.1 M63.58,294.50v1.1 M64.76,294.50v1.1 M65.70,294.50v1.1 M66.53,294.50v1.1 M67.12,294.50v1.1 M67.71,294.50v1.1 M71.84,294.50v1.1 M73.96,294.50v1.1 M75.38,294.50v1.1 M76.56,294.50v1.1 M77.50,294.50v1.1 M78.33,294.50v1.1 M78.92,294.50v1.1 M79.51,294.50v1.1 M83.64,294.50v1.1 M85.76,294.50v1.1 M87.18,294.50v1.1 M88.36,294.50v1.1 M89.30,294.50v1.1 M90.13,294.50v1.1 M90.72,294.50v1.1 M91.31,294.50v1.1 M95.44,294.50v1.1 M97.56,294.50v1.1 M98.98,294.50v1.1 M100.16,294.50v1.1 M101.10,294.50v1.1 M101.93,294.50v1.1 M102.52,294.50v1.1 M103.11,294.50v1.1" stroke="#888" stroke-width="0.5" fill="none"/>
<path d="M37.60,212.50h2.2 M37.60,228.60h2.2 M37.60,244.70h2.2 M37.60,260.80h2.2 M37.60,276.90h2.2 M44.70,294.00v1.9 M56.50,294.00v1.9 M68.30,294.00v1.9 M80.10,294.00v1.9 M91.90,294.00v1.9 M103.70,294.00v1.9" stroke="#444" stroke-width="0.6" fill="none"/>
<rect x="39.80" y="208.30" width="68.8" height="85.7" fill="none" stroke="#080808" stroke-width="1.35"/>
<clipPath id="c21"><rect x="111.75" y="208.30" width="68.8" height="85.7"/></clipPath>
<g clip-path="url(#c21)">
<path d="M107.85,293.19 L108.08,293.16 L108.32,293.12 L108.55,293.07 L108.78,293.02 L109.01,292.96 L109.25,292.90 L109.48,292.82 L109.71,292.73 L109.94,292.63 L110.18,292.52 L110.41,292.38 L110.64,292.24 L110.87,292.07 L111.11,291.87 L111.34,291.66 L111.57,291.41 L111.80,291.13 L112.04,290.82 L112.27,290.47 L112.50,290.08 L112.73,289.63 L112.97,289.14 L113.20,288.58 L113.43,287.97 L113.66,287.28 L113.90,286.52 L114.13,285.68 L114.36,284.74 L114.59,283.71 L114.83,282.57 L115.06,281.33 L115.29,279.96 L115.52,278.46 L115.76,276.83 L115.99,275.06 L116.22,273.14 L116.45,271.06 L116.68,268.82 L116.92,266.42 L117.15,263.85 L117.38,261.11 L117.61,258.20 L117.85,255.12 L118.08,251.89 L118.31,248.52 L118.54,245.01 L118.78,241.40 L119.01,237.71 L119.24,233.97 L119.47,230.24 L119.71,226.58 L119.94,223.06 L120.17,219.79 L120.40,216.95 L120.64,214.88 L120.70,214.60 L120.87,216.14 L121.10,219.03 L121.33,222.57 L121.57,226.59 L121.80,230.95 L122.03,235.52 L122.26,240.21 L122.50,244.90 L122.73,249.52 L122.96,254.01 L123.19,258.30 L123.43,262.35 L123.66,266.13 L123.89,269.62 L124.12,272.80 L124.36,275.68 L124.59,278.26 L124.82,280.56 L125.05,282.57 L125.29,284.33 L125.52,285.85 L125.75,287.16 L125.98,288.27 L126.21,289.22 L126.45,290.00 L126.68,290.66 L126.91,291.21 L127.14,291.65 L127.38,292.02 L127.61,292.31 L127.84,292.55 L128.07,292.74 L128.31,292.89 L128.54,293.01 L128.77,293.10" fill="none" stroke="#000" stroke-opacity="0.45" stroke-width="0.65" stroke-dasharray="1.1 0.5"/>
<path d="M117.87,292.99 L118.14,292.89 L118.41,292.77 L118.68,292.63 L118.95,292.45 L119.22,292.24 L119.48,291.99 L119.75,291.69 L120.02,291.34 L120.29,290.93 L120.56,290.44 L120.83,289.87 L121.10,289.21 L121.36,288.44 L121.63,287.56 L121.90,286.55 L122.17,285.40 L122.44,284.10 L122.71,282.63 L122.97,280.98 L123.24,279.14 L123.51,277.10 L123.78,274.85 L124.05,272.39 L124.32,269.71 L124.58,266.82 L124.85,263.71 L125.12,260.40 L125.39,256.90 L125.66,253.23 L125.93,249.42 L126.19,245.50 L126.46,241.51 L126.73,237.51 L127.00,233.54 L127.27,229.67 L127.54,225.98 L127.80,222.54 L128.07,219.46 L128.34,216.86 L128.60,215.00 L128.61,215.04 L128.88,216.63 L129.15,218.70 L129.42,221.12 L129.68,223.79 L129.95,226.65 L130.22,229.67 L130.49,232.78 L130.76,235.95 L131.03,239.16 L131.29,242.36 L131.56,245.53 L131.83,248.66 L132.10,251.71 L132.37,254.67 L132.64,257.53 L132.90,260.28 L133.17,262.91 L133.44,265.41 L133.71,267.77 L133.98,270.00 L134.25,272.10 L134.51,274.06 L134.78,275.88 L135.05,277.58 L135.32,279.14 L135.59,280.59 L135.86,281.92 L136.12,283.13 L136.39,284.24 L136.66,285.25 L136.93,286.17 L137.20,286.99 L137.47,287.74 L137.73,288.41 L138.00,289.01 L138.27,289.55 L138.54,290.03 L138.81,290.46 L139.08,290.84 L139.35,291.17 L139.61,291.47 L139.88,291.73 L140.15,291.95 L140.42,292.15 L140.69,292.33 L140.96,292.48 L141.22,292.61 L141.49,292.73 L141.76,292.83 L142.03,292.91 L142.03,293.40 L117.87,293.40 Z" fill="#000000" stroke="#000" stroke-width="0.5"/>
</g>
<path d="M130.6,246.8H163.5M130.6,245.2v3.2M163.5,245.2v3.2" stroke="#5a5a5a" stroke-width="1.0" fill="none"/>
<text class="gt" x="146.3" y="239.0" text-anchor="middle" textLength="12.3" lengthAdjust="spacingAndGlyphs">41.6</text>
<path d="M109.85,215.72h1.6 M109.85,218.94h1.6 M109.85,222.16h1.6 M109.85,225.38h1.6 M109.85,231.82h1.6 M109.85,235.04h1.6 M109.85,238.26h1.6 M109.85,241.48h1.6 M109.85,247.92h1.6 M109.85,251.14h1.6 M109.85,254.36h1.6 M109.85,257.58h1.6 M109.85,264.02h1.6 M109.85,267.24h1.6 M109.85,270.46h1.6 M109.85,273.68h1.6 M109.85,280.12h1.6 M109.85,283.34h1.6 M109.85,286.56h1.6 M109.85,289.78h1.6 M113.11,294.50v1.1 M114.05,294.50v1.1 M114.88,294.50v1.1 M115.47,294.50v1.1 M116.06,294.50v1.1 M120.19,294.50v1.1 M122.31,294.50v1.1 M123.73,294.50v1.1 M124.91,294.50v1.1 M125.85,294.50v1.1 M126.68,294.50v1.1 M127.27,294.50v1.1 M127.86,294.50v1.1 M131.99,294.50v1.1 M134.11,294.50v1.1 M135.53,294.50v1.1 M136.71,294.50v1.1 M137.65,294.50v1.1 M138.48,294.50v1.1 M139.07,294.50v1.1 M139.66,294.50v1.1 M143.79,294.50v1.1 M145.91,294.50v1.1 M147.33,294.50v1.1 M148.51,294.50v1.1 M149.45,294.50v1.1 M150.28,294.50v1.1 M150.87,294.50v1.1 M151.46,294.50v1.1 M155.59,294.50v1.1 M157.71,294.50v1.1 M159.13,294.50v1.1 M160.31,294.50v1.1 M161.25,294.50v1.1 M162.08,294.50v1.1 M162.67,294.50v1.1 M163.26,294.50v1.1 M167.39,294.50v1.1 M169.51,294.50v1.1 M170.93,294.50v1.1 M172.11,294.50v1.1 M173.05,294.50v1.1 M173.88,294.50v1.1 M174.47,294.50v1.1 M175.06,294.50v1.1" stroke="#888" stroke-width="0.5" fill="none"/>
<path d="M109.55,212.50h2.2 M109.55,228.60h2.2 M109.55,244.70h2.2 M109.55,260.80h2.2 M109.55,276.90h2.2 M116.65,294.00v1.9 M128.45,294.00v1.9 M140.25,294.00v1.9 M152.05,294.00v1.9 M163.85,294.00v1.9 M175.65,294.00v1.9" stroke="#444" stroke-width="0.6" fill="none"/>
<rect x="111.75" y="208.30" width="68.8" height="85.7" fill="none" stroke="#080808" stroke-width="1.35"/>
<clipPath id="c22"><rect x="183.70" y="208.30" width="68.8" height="85.7"/></clipPath>
<g clip-path="url(#c22)">
<path d="M190.06,293.15 L190.27,293.06 L190.47,292.94 L190.68,292.79 L190.88,292.60 L191.08,292.35 L191.29,292.05 L191.49,291.66 L191.70,291.19 L191.90,290.61 L192.11,289.92 L192.31,289.08 L192.51,288.09 L192.72,286.93 L192.92,285.57 L193.13,284.01 L193.33,282.23 L193.53,280.22 L193.74,277.97 L193.94,275.48 L194.15,272.76 L194.35,269.80 L194.56,266.62 L194.76,263.24 L194.96,259.69 L195.17,256.00 L195.37,252.21 L195.58,248.36 L195.78,244.50 L195.98,240.67 L196.19,236.93 L196.39,233.33 L196.60,229.91 L196.80,226.72 L197.00,223.80 L197.21,221.18 L197.41,218.88 L197.62,216.92 L197.82,215.29 L198.00,214.10 L198.03,214.21 L198.23,215.16 L198.43,216.22 L198.64,217.43 L198.84,218.80 L199.05,220.34 L199.25,222.04 L199.45,223.90 L199.66,225.92 L199.86,228.09 L200.07,230.40 L200.27,232.83 L200.48,235.37 L200.68,238.00 L200.88,240.70 L201.09,243.46 L201.29,246.26 L201.50,249.07 L201.70,251.88 L201.90,254.67 L202.11,257.41 L202.31,260.11 L202.52,262.73 L202.72,265.26 L202.92,267.70 L203.13,270.03 L203.33,272.24 L203.54,274.33 L203.74,276.29 L203.95,278.12 L204.15,279.82 L204.35,281.38 L204.56,282.82 L204.76,284.13 L204.97,285.31 L205.17,286.38 L205.37,287.34 L205.58,288.19 L205.78,288.94 L205.99,289.61 L206.19,290.19 L206.40,290.70 L206.60,291.14 L206.80,291.51 L207.01,291.84 L207.21,292.11 L207.42,292.34 L207.62,292.54 L207.82,292.70 L208.03,292.83 L208.23,292.95 L208.44,293.04 L208.44,293.40 L190.06,293.40 Z" fill="#cdcdcd" stroke="none"/>
<path d="M177.85,293.17 L178.11,293.13 L178.36,293.09 L178.62,293.05 L178.88,293.00 L179.14,292.94 L179.40,292.87 L179.65,292.80 L179.91,292.71 L180.17,292.62 L180.43,292.51 L180.69,292.39 L180.94,292.25 L181.20,292.10 L181.46,291.92 L181.72,291.73 L181.98,291.51 L182.23,291.26 L182.49,290.99 L182.75,290.68 L183.01,290.34 L183.27,289.96 L183.53,289.54 L183.78,289.07 L184.04,288.55 L184.30,287.98 L184.56,287.34 L184.82,286.64 L185.07,285.87 L185.33,285.02 L185.59,284.09 L185.85,283.08 L186.11,281.97 L186.36,280.75 L186.62,279.44 L186.88,278.00 L187.14,276.45 L187.40,274.78 L187.65,272.97 L187.91,271.03 L188.17,268.95 L188.43,266.73 L188.69,264.36 L188.94,261.84 L189.20,259.18 L189.46,256.37 L189.72,253.43 L189.98,250.35 L190.23,247.15 L190.49,243.84 L190.75,240.44 L191.01,236.98 L191.27,233.49 L191.52,230.00 L191.78,226.56 L192.04,223.24 L192.30,220.12 L192.56,217.33 L192.81,215.07 L193.00,214.10 L193.07,214.70 L193.33,217.60 L193.59,221.39 L193.85,225.81 L194.10,230.67 L194.36,235.80 L194.62,241.04 L194.88,246.27 L195.14,251.38 L195.39,256.28 L195.65,260.91 L195.91,265.21 L196.17,269.15 L196.43,272.73 L196.69,275.92 L196.94,278.74 L197.20,281.21 L197.46,283.35 L197.72,285.17 L197.98,286.72 L198.23,288.02 L198.49,289.10 L198.75,289.99 L199.01,290.72 L199.27,291.30 L199.52,291.77 L199.78,292.15 L200.04,292.44 L200.30,292.68 L200.56,292.85 L200.81,292.99 L201.07,293.10" fill="none" stroke="#000" stroke-opacity="0.45" stroke-width="0.65" stroke-dasharray="1.1 0.5"/>
<path d="M190.06,293.15 L190.27,293.06 L190.47,292.94 L190.68,292.79 L190.88,292.60 L191.08,292.35 L191.29,292.05 L191.49,291.66 L191.70,291.19 L191.90,290.61 L192.11,289.92 L192.31,289.08 L192.51,288.09 L192.72,286.93 L192.92,285.57 L193.13,284.01 L193.33,282.23 L193.53,280.22 L193.74,277.97 L193.94,275.48 L194.15,272.76 L194.35,269.80 L194.56,266.62 L194.76,263.24 L194.96,259.69 L195.17,256.00 L195.37,252.21 L195.58,248.36 L195.78,244.50 L195.98,240.67 L196.19,236.93 L196.39,233.33 L196.60,229.91 L196.80,226.72 L197.00,223.80 L197.21,221.18 L197.41,218.88 L197.62,216.92 L197.82,215.29 L198.00,214.10 L198.03,214.21 L198.23,215.16 L198.43,216.22 L198.64,217.43 L198.84,218.80 L199.05,220.34 L199.25,222.04 L199.45,223.90 L199.66,225.92 L199.86,228.09 L200.07,230.40 L200.27,232.83 L200.48,235.37 L200.68,238.00 L200.88,240.70 L201.09,243.46 L201.29,246.26 L201.50,249.07 L201.70,251.88 L201.90,254.67 L202.11,257.41 L202.31,260.11 L202.52,262.73 L202.72,265.26 L202.92,267.70 L203.13,270.03 L203.33,272.24 L203.54,274.33 L203.74,276.29 L203.95,278.12 L204.15,279.82 L204.35,281.38 L204.56,282.82 L204.76,284.13 L204.97,285.31 L205.17,286.38 L205.37,287.34 L205.58,288.19 L205.78,288.94 L205.99,289.61 L206.19,290.19 L206.40,290.70 L206.60,291.14 L206.80,291.51 L207.01,291.84 L207.21,292.11 L207.42,292.34 L207.62,292.54 L207.82,292.70 L208.03,292.83 L208.23,292.95 L208.44,293.04" fill="none" stroke="#333" stroke-width="0.6"/>
</g>
<path d="M201.8,246.8H235.5M201.8,245.2v3.2M235.5,245.2v3.2" stroke="#5a5a5a" stroke-width="1.0" fill="none"/>
<text class="gt" x="218.7" y="239.0" text-anchor="middle" textLength="12.3" lengthAdjust="spacingAndGlyphs">14.5</text>
<path d="M181.80,215.72h1.6 M181.80,218.94h1.6 M181.80,222.16h1.6 M181.80,225.38h1.6 M181.80,231.82h1.6 M181.80,235.04h1.6 M181.80,238.26h1.6 M181.80,241.48h1.6 M181.80,247.92h1.6 M181.80,251.14h1.6 M181.80,254.36h1.6 M181.80,257.58h1.6 M181.80,264.02h1.6 M181.80,267.24h1.6 M181.80,270.46h1.6 M181.80,273.68h1.6 M181.80,280.12h1.6 M181.80,283.34h1.6 M181.80,286.56h1.6 M181.80,289.78h1.6 M185.06,294.50v1.1 M186.00,294.50v1.1 M186.83,294.50v1.1 M187.42,294.50v1.1 M188.01,294.50v1.1 M192.14,294.50v1.1 M194.26,294.50v1.1 M195.68,294.50v1.1 M196.86,294.50v1.1 M197.80,294.50v1.1 M198.63,294.50v1.1 M199.22,294.50v1.1 M199.81,294.50v1.1 M203.94,294.50v1.1 M206.06,294.50v1.1 M207.48,294.50v1.1 M208.66,294.50v1.1 M209.60,294.50v1.1 M210.43,294.50v1.1 M211.02,294.50v1.1 M211.61,294.50v1.1 M215.74,294.50v1.1 M217.86,294.50v1.1 M219.28,294.50v1.1 M220.46,294.50v1.1 M221.40,294.50v1.1 M222.23,294.50v1.1 M222.82,294.50v1.1 M223.41,294.50v1.1 M227.54,294.50v1.1 M229.66,294.50v1.1 M231.08,294.50v1.1 M232.26,294.50v1.1 M233.20,294.50v1.1 M234.03,294.50v1.1 M234.62,294.50v1.1 M235.21,294.50v1.1 M239.34,294.50v1.1 M241.46,294.50v1.1 M242.88,294.50v1.1 M244.06,294.50v1.1 M245.00,294.50v1.1 M245.83,294.50v1.1 M246.42,294.50v1.1 M247.01,294.50v1.1" stroke="#888" stroke-width="0.5" fill="none"/>
<path d="M181.50,212.50h2.2 M181.50,228.60h2.2 M181.50,244.70h2.2 M181.50,260.80h2.2 M181.50,276.90h2.2 M188.60,294.00v1.9 M200.40,294.00v1.9 M212.20,294.00v1.9 M224.00,294.00v1.9 M235.80,294.00v1.9 M247.60,294.00v1.9" stroke="#444" stroke-width="0.6" fill="none"/>
<rect x="183.70" y="208.30" width="68.8" height="85.7" fill="none" stroke="#080808" stroke-width="1.35"/>
<clipPath id="c23"><rect x="255.65" y="208.30" width="68.8" height="85.7"/></clipPath>
<g clip-path="url(#c23)">
<path d="M261.18,293.08 L261.42,292.97 L261.66,292.83 L261.90,292.65 L262.13,292.42 L262.37,292.14 L262.61,291.78 L262.85,291.34 L263.08,290.81 L263.32,290.17 L263.56,289.39 L263.80,288.48 L264.03,287.40 L264.27,286.14 L264.51,284.69 L264.74,283.03 L264.98,281.15 L265.22,279.04 L265.46,276.69 L265.69,274.11 L265.93,271.30 L266.17,268.27 L266.41,265.03 L266.64,261.60 L266.88,258.02 L267.12,254.31 L267.36,250.52 L267.59,246.68 L267.83,242.84 L268.07,239.04 L268.31,235.35 L268.54,231.79 L268.78,228.43 L269.02,225.30 L269.26,222.43 L269.49,219.87 L269.73,217.62 L269.97,215.70 L270.21,214.10 L270.40,213.00 L270.44,213.16 L270.68,214.11 L270.92,215.17 L271.15,216.39 L271.39,217.75 L271.63,219.28 L271.87,220.97 L272.10,222.82 L272.34,224.83 L272.58,226.98 L272.82,229.27 L273.05,231.68 L273.29,234.20 L273.53,236.81 L273.77,239.50 L274.00,242.25 L274.24,245.03 L274.48,247.84 L274.72,250.64 L274.95,253.43 L275.19,256.19 L275.43,258.89 L275.67,261.53 L275.90,264.08 L276.14,266.55 L276.38,268.91 L276.62,271.16 L276.85,273.29 L277.09,275.29 L277.33,277.17 L277.56,278.92 L277.80,280.54 L278.04,282.03 L278.28,283.39 L278.51,284.63 L278.75,285.75 L278.99,286.77 L279.23,287.67 L279.46,288.47 L279.70,289.19 L279.94,289.81 L280.18,290.36 L280.41,290.84 L280.65,291.25 L280.89,291.61 L281.13,291.91 L281.36,292.17 L281.60,292.39 L281.84,292.58 L282.08,292.73 L282.31,292.86 L282.55,292.96 L282.55,293.40 L261.18,293.40 Z" fill="#969696" stroke="none"/>
<path d="M250.64,293.18 L250.88,293.14 L251.13,293.10 L251.38,293.06 L251.62,293.01 L251.87,292.95 L252.12,292.88 L252.37,292.81 L252.61,292.72 L252.86,292.62 L253.11,292.51 L253.35,292.39 L253.60,292.25 L253.85,292.08 L254.09,291.90 L254.34,291.70 L254.59,291.47 L254.84,291.21 L255.08,290.93 L255.33,290.60 L255.58,290.24 L255.82,289.84 L256.07,289.39 L256.32,288.89 L256.57,288.33 L256.81,287.72 L257.06,287.04 L257.31,286.28 L257.55,285.45 L257.80,284.54 L258.05,283.53 L258.29,282.43 L258.54,281.22 L258.79,279.91 L259.04,278.48 L259.28,276.92 L259.53,275.23 L259.78,273.41 L260.02,271.44 L260.27,269.33 L260.52,267.07 L260.77,264.65 L261.01,262.08 L261.26,259.35 L261.51,256.47 L261.75,253.44 L262.00,250.28 L262.25,246.98 L262.49,243.58 L262.74,240.08 L262.99,236.52 L263.24,232.93 L263.48,229.35 L263.73,225.85 L263.98,222.49 L264.22,219.37 L264.47,216.65 L264.72,214.64 L264.80,214.30 L264.97,215.82 L265.21,218.91 L265.46,222.73 L265.71,227.08 L265.95,231.79 L266.20,236.71 L266.45,241.72 L266.70,246.71 L266.94,251.58 L267.19,256.27 L267.44,260.70 L267.68,264.84 L267.93,268.65 L268.18,272.12 L268.42,275.25 L268.67,278.04 L268.92,280.49 L269.17,282.64 L269.41,284.49 L269.66,286.08 L269.91,287.43 L270.15,288.56 L270.40,289.51 L270.65,290.29 L270.90,290.94 L271.14,291.46 L271.39,291.88 L271.64,292.22 L271.88,292.49 L272.13,292.70 L272.38,292.87 L272.62,293.00 L272.87,293.10" fill="none" stroke="#000" stroke-opacity="0.45" stroke-width="0.65" stroke-dasharray="1.1 0.5"/>
<path d="M261.18,293.08 L261.42,292.97 L261.66,292.83 L261.90,292.65 L262.13,292.42 L262.37,292.14 L262.61,291.78 L262.85,291.34 L263.08,290.81 L263.32,290.17 L263.56,289.39 L263.80,288.48 L264.03,287.40 L264.27,286.14 L264.51,284.69 L264.74,283.03 L264.98,281.15 L265.22,279.04 L265.46,276.69 L265.69,274.11 L265.93,271.30 L266.17,268.27 L266.41,265.03 L266.64,261.60 L266.88,258.02 L267.12,254.31 L267.36,250.52 L267.59,246.68 L267.83,242.84 L268.07,239.04 L268.31,235.35 L268.54,231.79 L268.78,228.43 L269.02,225.30 L269.26,222.43 L269.49,219.87 L269.73,217.62 L269.97,215.70 L270.21,214.10 L270.40,213.00 L270.44,213.16 L270.68,214.11 L270.92,215.17 L271.15,216.39 L271.39,217.75 L271.63,219.28 L271.87,220.97 L272.10,222.82 L272.34,224.83 L272.58,226.98 L272.82,229.27 L273.05,231.68 L273.29,234.20 L273.53,236.81 L273.77,239.50 L274.00,242.25 L274.24,245.03 L274.48,247.84 L274.72,250.64 L274.95,253.43 L275.19,256.19 L275.43,258.89 L275.67,261.53 L275.90,264.08 L276.14,266.55 L276.38,268.91 L276.62,271.16 L276.85,273.29 L277.09,275.29 L277.33,277.17 L277.56,278.92 L277.80,280.54 L278.04,282.03 L278.28,283.39 L278.51,284.63 L278.75,285.75 L278.99,286.77 L279.23,287.67 L279.46,288.47 L279.70,289.19 L279.94,289.81 L280.18,290.36 L280.41,290.84 L280.65,291.25 L280.89,291.61 L281.13,291.91 L281.36,292.17 L281.60,292.39 L281.84,292.58 L282.08,292.73 L282.31,292.86 L282.55,292.96" fill="none" stroke="#333" stroke-width="0.6"/>
</g>
<path d="M273.3,246.8H307.5M273.3,245.2v3.2M307.5,245.2v3.2" stroke="#5a5a5a" stroke-width="1.0" fill="none"/>
<text class="gt" x="290.2" y="239.0" text-anchor="middle" textLength="12.3" lengthAdjust="spacingAndGlyphs">22.7</text>
<path d="M253.75,215.72h1.6 M253.75,218.94h1.6 M253.75,222.16h1.6 M253.75,225.38h1.6 M253.75,231.82h1.6 M253.75,235.04h1.6 M253.75,238.26h1.6 M253.75,241.48h1.6 M253.75,247.92h1.6 M253.75,251.14h1.6 M253.75,254.36h1.6 M253.75,257.58h1.6 M253.75,264.02h1.6 M253.75,267.24h1.6 M253.75,270.46h1.6 M253.75,273.68h1.6 M253.75,280.12h1.6 M253.75,283.34h1.6 M253.75,286.56h1.6 M253.75,289.78h1.6 M257.01,294.50v1.1 M257.95,294.50v1.1 M258.78,294.50v1.1 M259.37,294.50v1.1 M259.96,294.50v1.1 M264.09,294.50v1.1 M266.21,294.50v1.1 M267.63,294.50v1.1 M268.81,294.50v1.1 M269.75,294.50v1.1 M270.58,294.50v1.1 M271.17,294.50v1.1 M271.76,294.50v1.1 M275.89,294.50v1.1 M278.01,294.50v1.1 M279.43,294.50v1.1 M280.61,294.50v1.1 M281.55,294.50v1.1 M282.38,294.50v1.1 M282.97,294.50v1.1 M283.56,294.50v1.1 M287.69,294.50v1.1 M289.81,294.50v1.1 M291.23,294.50v1.1 M292.41,294.50v1.1 M293.35,294.50v1.1 M294.18,294.50v1.1 M294.77,294.50v1.1 M295.36,294.50v1.1 M299.49,294.50v1.1 M301.61,294.50v1.1 M303.03,294.50v1.1 M304.21,294.50v1.1 M305.15,294.50v1.1 M305.98,294.50v1.1 M306.57,294.50v1.1 M307.16,294.50v1.1 M311.29,294.50v1.1 M313.41,294.50v1.1 M314.83,294.50v1.1 M316.01,294.50v1.1 M316.95,294.50v1.1 M317.78,294.50v1.1 M318.37,294.50v1.1 M318.96,294.50v1.1" stroke="#888" stroke-width="0.5" fill="none"/>
<path d="M253.45,212.50h2.2 M253.45,228.60h2.2 M253.45,244.70h2.2 M253.45,260.80h2.2 M253.45,276.90h2.2 M260.55,294.00v1.9 M272.35,294.00v1.9 M284.15,294.00v1.9 M295.95,294.00v1.9 M307.75,294.00v1.9 M319.55,294.00v1.9" stroke="#444" stroke-width="0.6" fill="none"/>
<rect x="255.65" y="208.30" width="68.8" height="85.7" fill="none" stroke="#080808" stroke-width="1.35"/>
<clipPath id="c24"><rect x="327.60" y="208.30" width="68.8" height="85.7"/></clipPath>
<g clip-path="url(#c24)">
<path d="M335.16,293.14 L335.38,293.05 L335.59,292.92 L335.80,292.76 L336.01,292.55 L336.23,292.28 L336.44,291.94 L336.65,291.51 L336.86,290.98 L337.08,290.33 L337.29,289.54 L337.50,288.59 L337.71,287.47 L337.93,286.14 L338.14,284.59 L338.35,282.81 L338.56,280.79 L338.77,278.50 L338.99,275.95 L339.20,273.13 L339.41,270.06 L339.62,266.74 L339.84,263.21 L340.05,259.48 L340.26,255.59 L340.47,251.60 L340.69,247.53 L340.90,243.46 L341.11,239.43 L341.32,235.50 L341.54,231.73 L341.75,228.18 L341.96,224.89 L342.17,221.91 L342.39,219.26 L342.60,216.98 L342.81,215.06 L343.02,213.49 L343.10,213.00 L343.24,213.57 L343.45,214.54 L343.66,215.65 L343.87,216.89 L344.08,218.29 L344.30,219.84 L344.51,221.55 L344.72,223.42 L344.93,225.43 L345.15,227.57 L345.36,229.85 L345.57,232.24 L345.78,234.73 L346.00,237.30 L346.21,239.95 L346.42,242.65 L346.63,245.38 L346.85,248.13 L347.06,250.88 L347.27,253.61 L347.48,256.30 L347.70,258.95 L347.91,261.53 L348.12,264.04 L348.33,266.46 L348.55,268.78 L348.76,270.99 L348.97,273.09 L349.18,275.06 L349.39,276.92 L349.61,278.65 L349.82,280.26 L350.03,281.74 L350.24,283.10 L350.46,284.35 L350.67,285.48 L350.88,286.50 L351.09,287.41 L351.31,288.23 L351.52,288.96 L351.73,289.60 L351.94,290.16 L352.16,290.66 L352.37,291.09 L352.58,291.46 L352.79,291.78 L353.01,292.05 L353.22,292.29 L353.43,292.48 L353.64,292.65 L353.86,292.79 L354.07,292.90 L354.28,293.00 L354.28,293.40 L335.16,293.40 Z" fill="#8e8e8e" stroke="none"/>
<path d="M322.64,293.18 L322.88,293.14 L323.13,293.10 L323.38,293.06 L323.62,293.01 L323.87,292.95 L324.12,292.88 L324.37,292.81 L324.61,292.72 L324.86,292.62 L325.11,292.51 L325.35,292.39 L325.60,292.25 L325.85,292.08 L326.09,291.90 L326.34,291.70 L326.59,291.47 L326.84,291.21 L327.08,290.93 L327.33,290.60 L327.58,290.24 L327.82,289.84 L328.07,289.39 L328.32,288.89 L328.57,288.33 L328.81,287.72 L329.06,287.04 L329.31,286.28 L329.55,285.45 L329.80,284.54 L330.05,283.53 L330.29,282.43 L330.54,281.22 L330.79,279.91 L331.04,278.48 L331.28,276.92 L331.53,275.23 L331.78,273.41 L332.02,271.44 L332.27,269.33 L332.52,267.07 L332.77,264.65 L333.01,262.08 L333.26,259.35 L333.51,256.47 L333.75,253.44 L334.00,250.28 L334.25,246.98 L334.49,243.58 L334.74,240.08 L334.99,236.52 L335.24,232.93 L335.48,229.35 L335.73,225.85 L335.98,222.49 L336.22,219.37 L336.47,216.65 L336.72,214.64 L336.80,214.30 L336.97,215.82 L337.21,218.91 L337.46,222.73 L337.71,227.08 L337.95,231.79 L338.20,236.71 L338.45,241.72 L338.70,246.71 L338.94,251.58 L339.19,256.27 L339.44,260.70 L339.68,264.84 L339.93,268.65 L340.18,272.12 L340.42,275.25 L340.67,278.04 L340.92,280.49 L341.17,282.64 L341.41,284.49 L341.66,286.08 L341.91,287.43 L342.15,288.56 L342.40,289.51 L342.65,290.29 L342.90,290.94 L343.14,291.46 L343.39,291.88 L343.64,292.22 L343.88,292.49 L344.13,292.70 L344.38,292.87 L344.62,293.00 L344.87,293.10" fill="none" stroke="#000" stroke-opacity="0.45" stroke-width="0.65" stroke-dasharray="1.1 0.5"/>
<path d="M335.16,293.14 L335.38,293.05 L335.59,292.92 L335.80,292.76 L336.01,292.55 L336.23,292.28 L336.44,291.94 L336.65,291.51 L336.86,290.98 L337.08,290.33 L337.29,289.54 L337.50,288.59 L337.71,287.47 L337.93,286.14 L338.14,284.59 L338.35,282.81 L338.56,280.79 L338.77,278.50 L338.99,275.95 L339.20,273.13 L339.41,270.06 L339.62,266.74 L339.84,263.21 L340.05,259.48 L340.26,255.59 L340.47,251.60 L340.69,247.53 L340.90,243.46 L341.11,239.43 L341.32,235.50 L341.54,231.73 L341.75,228.18 L341.96,224.89 L342.17,221.91 L342.39,219.26 L342.60,216.98 L342.81,215.06 L343.02,213.49 L343.10,213.00 L343.24,213.57 L343.45,214.54 L343.66,215.65 L343.87,216.89 L344.08,218.29 L344.30,219.84 L344.51,221.55 L344.72,223.42 L344.93,225.43 L345.15,227.57 L345.36,229.85 L345.57,232.24 L345.78,234.73 L346.00,237.30 L346.21,239.95 L346.42,242.65 L346.63,245.38 L346.85,248.13 L347.06,250.88 L347.27,253.61 L347.48,256.30 L347.70,258.95 L347.91,261.53 L348.12,264.04 L348.33,266.46 L348.55,268.78 L348.76,270.99 L348.97,273.09 L349.18,275.06 L349.39,276.92 L349.61,278.65 L349.82,280.26 L350.03,281.74 L350.24,283.10 L350.46,284.35 L350.67,285.48 L350.88,286.50 L351.09,287.41 L351.31,288.23 L351.52,288.96 L351.73,289.60 L351.94,290.16 L352.16,290.66 L352.37,291.09 L352.58,291.46 L352.79,291.78 L353.01,292.05 L353.22,292.29 L353.43,292.48 L353.64,292.65 L353.86,292.79 L354.07,292.90 L354.28,293.00" fill="none" stroke="#333" stroke-width="0.6"/>
</g>
<path d="M345.8,246.8H379.5M345.8,245.2v3.2M379.5,245.2v3.2" stroke="#5a5a5a" stroke-width="1.0" fill="none"/>
<text class="gt" x="362.2" y="239.0" text-anchor="middle" textLength="12.3" lengthAdjust="spacingAndGlyphs">29.7</text>
<path d="M325.70,215.72h1.6 M325.70,218.94h1.6 M325.70,222.16h1.6 M325.70,225.38h1.6 M325.70,231.82h1.6 M325.70,235.04h1.6 M325.70,238.26h1.6 M325.70,241.48h1.6 M325.70,247.92h1.6 M325.70,251.14h1.6 M325.70,254.36h1.6 M325.70,257.58h1.6 M325.70,264.02h1.6 M325.70,267.24h1.6 M325.70,270.46h1.6 M325.70,273.68h1.6 M325.70,280.12h1.6 M325.70,283.34h1.6 M325.70,286.56h1.6 M325.70,289.78h1.6 M328.96,294.50v1.1 M329.90,294.50v1.1 M330.73,294.50v1.1 M331.32,294.50v1.1 M331.91,294.50v1.1 M336.04,294.50v1.1 M338.16,294.50v1.1 M339.58,294.50v1.1 M340.76,294.50v1.1 M341.70,294.50v1.1 M342.53,294.50v1.1 M343.12,294.50v1.1 M343.71,294.50v1.1 M347.84,294.50v1.1 M349.96,294.50v1.1 M351.38,294.50v1.1 M352.56,294.50v1.1 M353.50,294.50v1.1 M354.33,294.50v1.1 M354.92,294.50v1.1 M355.51,294.50v1.1 M359.64,294.50v1.1 M361.76,294.50v1.1 M363.18,294.50v1.1 M364.36,294.50v1.1 M365.30,294.50v1.1 M366.13,294.50v1.1 M366.72,294.50v1.1 M367.31,294.50v1.1 M371.44,294.50v1.1 M373.56,294.50v1.1 M374.98,294.50v1.1 M376.16,294.50v1.1 M377.10,294.50v1.1 M377.93,294.50v1.1 M378.52,294.50v1.1 M379.11,294.50v1.1 M383.24,294.50v1.1 M385.36,294.50v1.1 M386.78,294.50v1.1 M387.96,294.50v1.1 M388.90,294.50v1.1 M389.73,294.50v1.1 M390.32,294.50v1.1 M390.91,294.50v1.1" stroke="#888" stroke-width="0.5" fill="none"/>
<path d="M325.40,212.50h2.2 M325.40,228.60h2.2 M325.40,244.70h2.2 M325.40,260.80h2.2 M325.40,276.90h2.2 M332.50,294.00v1.9 M344.30,294.00v1.9 M356.10,294.00v1.9 M367.90,294.00v1.9 M379.70,294.00v1.9 M391.50,294.00v1.9" stroke="#444" stroke-width="0.6" fill="none"/>
<rect x="327.60" y="208.30" width="68.8" height="85.7" fill="none" stroke="#080808" stroke-width="1.35"/>
<clipPath id="c25"><rect x="399.55" y="208.30" width="68.8" height="85.7"/></clipPath>
<g clip-path="url(#c25)">
<path d="M405.81,293.06 L406.10,292.94 L406.38,292.77 L406.67,292.56 L406.95,292.29 L407.23,291.94 L407.52,291.50 L407.80,290.95 L408.09,290.27 L408.37,289.43 L408.66,288.41 L408.94,287.19 L409.23,285.74 L409.51,284.03 L409.79,282.05 L410.08,279.77 L410.36,277.18 L410.65,274.26 L410.93,271.03 L411.22,267.48 L411.50,263.65 L411.79,259.54 L412.07,255.22 L412.35,250.73 L412.64,246.14 L412.92,241.52 L413.21,236.97 L413.49,232.56 L413.78,228.39 L414.06,224.56 L414.35,221.16 L414.63,218.27 L414.91,215.96 L415.10,214.80 L415.20,215.26 L415.48,217.00 L415.77,219.13 L416.05,221.51 L416.34,224.10 L416.62,226.81 L416.91,229.63 L417.19,232.51 L417.47,235.42 L417.76,238.34 L418.04,241.24 L418.33,244.12 L418.61,246.94 L418.90,249.70 L419.18,252.39 L419.47,255.00 L419.75,257.51 L420.03,259.93 L420.32,262.25 L420.60,264.46 L420.89,266.57 L421.17,268.57 L421.46,270.46 L421.74,272.25 L422.03,273.93 L422.31,275.51 L422.60,276.99 L422.88,278.37 L423.16,279.66 L423.45,280.86 L423.73,281.97 L424.02,283.00 L424.30,283.95 L424.59,284.83 L424.87,285.64 L425.16,286.38 L425.44,287.06 L425.72,287.69 L426.01,288.26 L426.29,288.78 L426.58,289.25 L426.86,289.68 L427.15,290.07 L427.43,290.42 L427.72,290.74 L428.00,291.03 L428.28,291.29 L428.57,291.53 L428.85,291.74 L429.14,291.92 L429.42,292.09 L429.71,292.24 L429.99,292.38 L430.28,292.50 L430.56,292.61 L430.84,292.70 L431.13,292.79 L431.41,292.86 L431.41,293.40 L405.81,293.40 Z" fill="#646464" stroke="none"/>
<path d="M394.64,293.18 L394.88,293.14 L395.13,293.10 L395.38,293.06 L395.62,293.01 L395.87,292.95 L396.12,292.88 L396.37,292.81 L396.61,292.72 L396.86,292.62 L397.11,292.51 L397.35,292.39 L397.60,292.25 L397.85,292.08 L398.09,291.90 L398.34,291.70 L398.59,291.47 L398.84,291.21 L399.08,290.93 L399.33,290.60 L399.58,290.24 L399.82,289.84 L400.07,289.39 L400.32,288.89 L400.57,288.33 L400.81,287.72 L401.06,287.04 L401.31,286.28 L401.55,285.45 L401.80,284.54 L402.05,283.53 L402.29,282.43 L402.54,281.22 L402.79,279.91 L403.04,278.48 L403.28,276.92 L403.53,275.23 L403.78,273.41 L404.02,271.44 L404.27,269.33 L404.52,267.07 L404.77,264.65 L405.01,262.08 L405.26,259.35 L405.51,256.47 L405.75,253.44 L406.00,250.28 L406.25,246.98 L406.49,243.58 L406.74,240.08 L406.99,236.52 L407.24,232.93 L407.48,229.35 L407.73,225.85 L407.98,222.49 L408.22,219.37 L408.47,216.65 L408.72,214.64 L408.80,214.30 L408.97,215.82 L409.21,218.91 L409.46,222.73 L409.71,227.08 L409.95,231.79 L410.20,236.71 L410.45,241.72 L410.70,246.71 L410.94,251.58 L411.19,256.27 L411.44,260.70 L411.68,264.84 L411.93,268.65 L412.18,272.12 L412.42,275.25 L412.67,278.04 L412.92,280.49 L413.17,282.64 L413.41,284.49 L413.66,286.08 L413.91,287.43 L414.15,288.56 L414.40,289.51 L414.65,290.29 L414.90,290.94 L415.14,291.46 L415.39,291.88 L415.64,292.22 L415.88,292.49 L416.13,292.70 L416.38,292.87 L416.62,293.00 L416.87,293.10" fill="none" stroke="#000" stroke-opacity="0.45" stroke-width="0.65" stroke-dasharray="1.1 0.5"/>
<path d="M405.81,293.06 L406.10,292.94 L406.38,292.77 L406.67,292.56 L406.95,292.29 L407.23,291.94 L407.52,291.50 L407.80,290.95 L408.09,290.27 L408.37,289.43 L408.66,288.41 L408.94,287.19 L409.23,285.74 L409.51,284.03 L409.79,282.05 L410.08,279.77 L410.36,277.18 L410.65,274.26 L410.93,271.03 L411.22,267.48 L411.50,263.65 L411.79,259.54 L412.07,255.22 L412.35,250.73 L412.64,246.14 L412.92,241.52 L413.21,236.97 L413.49,232.56 L413.78,228.39 L414.06,224.56 L414.35,221.16 L414.63,218.27 L414.91,215.96 L415.10,214.80 L415.20,215.26 L415.48,217.00 L415.77,219.13 L416.05,221.51 L416.34,224.10 L416.62,226.81 L416.91,229.63 L417.19,232.51 L417.47,235.42 L417.76,238.34 L418.04,241.24 L418.33,244.12 L418.61,246.94 L418.90,249.70 L419.18,252.39 L419.47,255.00 L419.75,257.51 L420.03,259.93 L420.32,262.25 L420.60,264.46 L420.89,266.57 L421.17,268.57 L421.46,270.46 L421.74,272.25 L422.03,273.93 L422.31,275.51 L422.60,276.99 L422.88,278.37 L423.16,279.66 L423.45,280.86 L423.73,281.97 L424.02,283.00 L424.30,283.95 L424.59,284.83 L424.87,285.64 L425.16,286.38 L425.44,287.06 L425.72,287.69 L426.01,288.26 L426.29,288.78 L426.58,289.25 L426.86,289.68 L427.15,290.07 L427.43,290.42 L427.72,290.74 L428.00,291.03 L428.28,291.29 L428.57,291.53 L428.85,291.74 L429.14,291.92 L429.42,292.09 L429.71,292.24 L429.99,292.38 L430.28,292.50 L430.56,292.61 L430.84,292.70 L431.13,292.79 L431.41,292.86" fill="none" stroke="#333" stroke-width="0.6"/>
</g>
<path d="M417.8,246.8H451.5M417.8,245.2v3.2M451.5,245.2v3.2" stroke="#5a5a5a" stroke-width="1.0" fill="none"/>
<text class="gt" x="434.2" y="239.0" text-anchor="middle" textLength="12.3" lengthAdjust="spacingAndGlyphs">31.5</text>
<path d="M397.65,215.72h1.6 M397.65,218.94h1.6 M397.65,222.16h1.6 M397.65,225.38h1.6 M397.65,231.82h1.6 M397.65,235.04h1.6 M397.65,238.26h1.6 M397.65,241.48h1.6 M397.65,247.92h1.6 M397.65,251.14h1.6 M397.65,254.36h1.6 M397.65,257.58h1.6 M397.65,264.02h1.6 M397.65,267.24h1.6 M397.65,270.46h1.6 M397.65,273.68h1.6 M397.65,280.12h1.6 M397.65,283.34h1.6 M397.65,286.56h1.6 M397.65,289.78h1.6 M400.91,294.50v1.1 M401.85,294.50v1.1 M402.68,294.50v1.1 M403.27,294.50v1.1 M403.86,294.50v1.1 M407.99,294.50v1.1 M410.11,294.50v1.1 M411.53,294.50v1.1 M412.71,294.50v1.1 M413.65,294.50v1.1 M414.48,294.50v1.1 M415.07,294.50v1.1 M415.66,294.50v1.1 M419.79,294.50v1.1 M421.91,294.50v1.1 M423.33,294.50v1.1 M424.51,294.50v1.1 M425.45,294.50v1.1 M426.28,294.50v1.1 M426.87,294.50v1.1 M427.46,294.50v1.1 M431.59,294.50v1.1 M433.71,294.50v1.1 M435.13,294.50v1.1 M436.31,294.50v1.1 M437.25,294.50v1.1 M438.08,294.50v1.1 M438.67,294.50v1.1 M439.26,294.50v1.1 M443.39,294.50v1.1 M445.51,294.50v1.1 M446.93,294.50v1.1 M448.11,294.50v1.1 M449.05,294.50v1.1 M449.88,294.50v1.1 M450.47,294.50v1.1 M451.06,294.50v1.1 M455.19,294.50v1.1 M457.31,294.50v1.1 M458.73,294.50v1.1 M459.91,294.50v1.1 M460.85,294.50v1.1 M461.68,294.50v1.1 M462.27,294.50v1.1 M462.86,294.50v1.1" stroke="#888" stroke-width="0.5" fill="none"/>
<path d="M397.35,212.50h2.2 M397.35,228.60h2.2 M397.35,244.70h2.2 M397.35,260.80h2.2 M397.35,276.90h2.2 M404.45,294.00v1.9 M416.25,294.00v1.9 M428.05,294.00v1.9 M439.85,294.00v1.9 M451.65,294.00v1.9 M463.45,294.00v1.9" stroke="#444" stroke-width="0.6" fill="none"/>
<rect x="399.55" y="208.30" width="68.8" height="85.7" fill="none" stroke="#080808" stroke-width="1.35"/>
<text class="rl" x="21.2" y="341.8" text-anchor="middle" textLength="31.5" lengthAdjust="spacingAndGlyphs">MHC-II</text>
<clipPath id="c30"><rect x="39.80" y="298.30" width="68.8" height="85.7"/></clipPath>
<g clip-path="url(#c30)">
<path d="M42.84,383.21 L43.03,383.13 L43.22,383.03 L43.40,382.88 L43.59,382.70 L43.78,382.45 L43.97,382.13 L44.16,381.72 L44.35,381.20 L44.54,380.55 L44.72,379.75 L44.91,378.77 L45.10,377.59 L45.29,376.18 L45.48,374.53 L45.67,372.60 L45.86,370.39 L46.04,367.88 L46.23,365.06 L46.42,361.94 L46.61,358.54 L46.80,354.86 L46.99,350.94 L47.18,346.83 L47.37,342.56 L47.55,338.20 L47.74,333.82 L47.93,329.48 L48.12,325.24 L48.31,321.19 L48.50,317.39 L48.69,313.90 L48.87,310.76 L49.06,308.03 L49.25,305.71 L49.44,303.81 L49.60,302.50 L49.63,302.63 L49.82,304.73 L50.01,307.74 L50.19,311.24 L50.38,315.02 L50.57,318.95 L50.76,322.95 L50.95,326.95 L51.14,330.89 L51.33,334.73 L51.52,338.45 L51.70,342.01 L51.89,345.40 L52.08,348.62 L52.27,351.65 L52.46,354.50 L52.65,357.15 L52.84,359.62 L53.02,361.91 L53.21,364.02 L53.40,365.96 L53.59,367.74 L53.78,369.36 L53.97,370.85 L54.16,372.20 L54.34,373.42 L54.53,374.52 L54.72,375.52 L54.91,376.42 L55.10,377.23 L55.29,377.95 L55.48,378.59 L55.67,379.17 L55.85,379.68 L56.04,380.14 L56.23,380.54 L56.42,380.90 L56.61,381.22 L56.80,381.50 L56.99,381.74 L57.17,381.96 L57.36,382.15 L57.55,382.31 L57.74,382.46 L57.93,382.59 L58.12,382.70 L58.31,382.79 L58.49,382.88 L58.68,382.95 L58.87,383.01 L59.06,383.07 L59.25,383.12 L59.44,383.16 L59.63,383.19 L59.82,383.22" fill="none" stroke="#000" stroke-opacity="0.45" stroke-width="0.65" stroke-dasharray="1.1 0.5"/>
<path d="M43.11,383.18 L43.31,383.10 L43.51,382.98 L43.71,382.83 L43.91,382.62 L44.11,382.35 L44.31,382.01 L44.51,381.58 L44.71,381.03 L44.91,380.35 L45.11,379.52 L45.31,378.51 L45.51,377.29 L45.71,375.85 L45.91,374.16 L46.11,372.20 L46.31,369.97 L46.51,367.43 L46.71,364.60 L46.91,361.48 L47.11,358.07 L47.31,354.40 L47.51,350.50 L47.71,346.41 L47.91,342.17 L48.11,337.85 L48.31,333.50 L48.51,329.19 L48.71,324.99 L48.90,320.96 L49.10,317.18 L49.30,313.69 L49.50,310.55 L49.70,307.80 L49.90,305.46 L50.10,303.53 L50.30,302.00 L50.30,302.00 L50.50,303.55 L50.70,306.12 L50.90,309.23 L51.10,312.70 L51.30,316.39 L51.50,320.21 L51.70,324.08 L51.90,327.95 L52.10,331.76 L52.30,335.50 L52.50,339.11 L52.70,342.58 L52.90,345.90 L53.10,349.06 L53.30,352.03 L53.50,354.83 L53.70,357.45 L53.90,359.89 L54.10,362.15 L54.30,364.24 L54.50,366.17 L54.70,367.94 L54.90,369.55 L55.10,371.03 L55.30,372.37 L55.50,373.59 L55.70,374.69 L55.90,375.68 L56.10,376.57 L56.30,377.37 L56.50,378.09 L56.70,378.73 L56.90,379.30 L57.10,379.81 L57.30,380.26 L57.50,380.66 L57.70,381.01 L57.90,381.32 L58.10,381.59 L58.29,381.83 L58.49,382.04 L58.69,382.23 L58.89,382.39 L59.09,382.53 L59.29,382.65 L59.49,382.75 L59.69,382.85 L59.89,382.93 L60.09,382.99 L60.29,383.05 L60.49,383.10 L60.69,383.15 L60.89,383.19 L61.09,383.22" fill="none" stroke="#444" stroke-width="0.7"/>
</g>
<path d="M53.9,325.0H80.2M53.9,323.4v3.2M80.2,323.4v3.2" stroke="#5a5a5a" stroke-width="1.0" fill="none"/>
<text class="gt" x="67.4" y="317.0" text-anchor="middle" textLength="12.3" lengthAdjust="spacingAndGlyphs">11.7</text>
<path d="M37.90,305.72h1.6 M37.90,308.94h1.6 M37.90,312.16h1.6 M37.90,315.38h1.6 M37.90,321.82h1.6 M37.90,325.04h1.6 M37.90,328.26h1.6 M37.90,331.48h1.6 M37.90,337.92h1.6 M37.90,341.14h1.6 M37.90,344.36h1.6 M37.90,347.58h1.6 M37.90,354.02h1.6 M37.90,357.24h1.6 M37.90,360.46h1.6 M37.90,363.68h1.6 M37.90,370.12h1.6 M37.90,373.34h1.6 M37.90,376.56h1.6 M37.90,379.78h1.6 M41.16,384.50v1.1 M42.10,384.50v1.1 M42.93,384.50v1.1 M43.52,384.50v1.1 M44.11,384.50v1.1 M48.24,384.50v1.1 M50.36,384.50v1.1 M51.78,384.50v1.1 M52.96,384.50v1.1 M53.90,384.50v1.1 M54.73,384.50v1.1 M55.32,384.50v1.1 M55.91,384.50v1.1 M60.04,384.50v1.1 M62.16,384.50v1.1 M63.58,384.50v1.1 M64.76,384.50v1.1 M65.70,384.50v1.1 M66.53,384.50v1.1 M67.12,384.50v1.1 M67.71,384.50v1.1 M71.84,384.50v1.1 M73.96,384.50v1.1 M75.38,384.50v1.1 M76.56,384.50v1.1 M77.50,384.50v1.1 M78.33,384.50v1.1 M78.92,384.50v1.1 M79.51,384.50v1.1 M83.64,384.50v1.1 M85.76,384.50v1.1 M87.18,384.50v1.1 M88.36,384.50v1.1 M89.30,384.50v1.1 M90.13,384.50v1.1 M90.72,384.50v1.1 M91.31,384.50v1.1 M95.44,384.50v1.1 M97.56,384.50v1.1 M98.98,384.50v1.1 M100.16,384.50v1.1 M101.10,384.50v1.1 M101.93,384.50v1.1 M102.52,384.50v1.1 M103.11,384.50v1.1" stroke="#888" stroke-width="0.5" fill="none"/>
<path d="M37.60,302.50h2.2 M37.60,318.60h2.2 M37.60,334.70h2.2 M37.60,350.80h2.2 M37.60,366.90h2.2 M44.70,384.00v1.9 M56.50,384.00v1.9 M68.30,384.00v1.9 M80.10,384.00v1.9 M91.90,384.00v1.9 M103.70,384.00v1.9" stroke="#444" stroke-width="0.6" fill="none"/>
<rect x="39.80" y="298.30" width="68.8" height="85.7" fill="none" stroke="#080808" stroke-width="1.35"/>
<clipPath id="c31"><rect x="111.75" y="298.30" width="68.8" height="85.7"/></clipPath>
<g clip-path="url(#c31)">
<path d="M114.22,383.20 L114.40,383.12 L114.58,383.03 L114.75,382.90 L114.93,382.74 L115.11,382.53 L115.28,382.27 L115.46,381.93 L115.64,381.52 L115.81,381.01 L115.99,380.39 L116.17,379.65 L116.34,378.76 L116.52,377.70 L116.69,376.46 L116.87,375.02 L117.05,373.37 L117.22,371.48 L117.40,369.36 L117.58,366.99 L117.75,364.38 L117.93,361.52 L118.11,358.42 L118.28,355.11 L118.46,351.60 L118.64,347.92 L118.81,344.11 L118.99,340.21 L119.16,336.26 L119.34,332.31 L119.52,328.42 L119.69,324.63 L119.87,320.99 L120.05,317.56 L120.22,314.38 L120.40,311.49 L120.58,308.92 L120.75,306.68 L120.93,304.78 L121.11,303.22 L121.20,302.50 L121.28,302.95 L121.46,304.99 L121.63,307.85 L121.81,311.21 L121.99,314.92 L122.16,318.85 L122.34,322.90 L122.52,326.98 L122.69,331.05 L122.87,335.05 L123.05,338.93 L123.22,342.67 L123.40,346.24 L123.58,349.62 L123.75,352.81 L123.93,355.79 L124.10,358.56 L124.28,361.13 L124.46,363.50 L124.63,365.67 L124.81,367.65 L124.99,369.45 L125.16,371.08 L125.34,372.55 L125.52,373.87 L125.69,375.05 L125.87,376.11 L126.05,377.05 L126.22,377.88 L126.40,378.61 L126.57,379.26 L126.75,379.83 L126.93,380.32 L127.10,380.76 L127.28,381.14 L127.46,381.47 L127.63,381.75 L127.81,382.00 L127.99,382.21 L128.16,382.39 L128.34,382.55 L128.52,382.68 L128.69,382.79 L128.87,382.89 L129.04,382.97 L129.22,383.04 L129.40,383.10 L129.57,383.15 L129.75,383.19 L129.93,383.23 L130.10,383.26" fill="none" stroke="#000" stroke-opacity="0.45" stroke-width="0.65" stroke-dasharray="1.1 0.5"/>
<path d="M117.06,383.06 L117.41,382.89 L117.75,382.65 L118.10,382.32 L118.44,381.87 L118.79,381.25 L119.14,380.45 L119.48,379.40 L119.83,378.08 L120.17,376.42 L120.52,374.38 L120.86,371.93 L121.21,369.04 L121.55,365.69 L121.90,361.87 L122.24,357.61 L122.59,352.95 L122.93,347.95 L123.28,342.71 L123.62,337.32 L123.97,331.91 L124.32,326.61 L124.66,321.55 L125.01,316.87 L125.35,312.66 L125.70,309.03 L126.04,306.03 L126.39,303.67 L126.60,302.50 L126.73,302.82 L127.08,304.46 L127.42,306.70 L127.77,309.31 L128.11,312.17 L128.46,315.20 L128.80,318.34 L129.15,321.53 L129.50,324.75 L129.84,327.96 L130.19,331.13 L130.53,334.24 L130.88,337.28 L131.22,340.22 L131.57,343.07 L131.91,345.80 L132.26,348.42 L132.60,350.92 L132.95,353.30 L133.29,355.55 L133.64,357.68 L133.98,359.68 L134.33,361.57 L134.68,363.34 L135.02,364.99 L135.37,366.54 L135.71,367.97 L136.06,369.31 L136.40,370.55 L136.75,371.69 L137.09,372.75 L137.44,373.73 L137.78,374.63 L138.13,375.45 L138.47,376.21 L138.82,376.90 L139.16,377.53 L139.51,378.11 L139.86,378.64 L140.20,379.12 L140.55,379.55 L140.89,379.95 L141.24,380.31 L141.58,380.63 L141.93,380.92 L142.27,381.19 L142.62,381.43 L142.96,381.64 L143.31,381.83 L143.65,382.01 L144.00,382.16 L144.34,382.30 L144.69,382.43 L145.04,382.54 L145.38,382.64 L145.73,382.72 L146.07,382.80 L146.42,382.87 L146.76,382.94 L147.11,382.99 L147.45,383.04 L147.80,383.08 L148.14,383.12 L148.14,383.40 L117.06,383.40 Z" fill="#000000" stroke="#000" stroke-width="0.5"/>
</g>
<path d="M128.8,325.0H151.4M128.8,323.4v3.2M151.4,323.4v3.2" stroke="#5a5a5a" stroke-width="1.0" fill="none"/>
<text class="gt" x="138.8" y="317.0" text-anchor="middle" textLength="12.3" lengthAdjust="spacingAndGlyphs">70.8</text>
<path d="M109.85,305.72h1.6 M109.85,308.94h1.6 M109.85,312.16h1.6 M109.85,315.38h1.6 M109.85,321.82h1.6 M109.85,325.04h1.6 M109.85,328.26h1.6 M109.85,331.48h1.6 M109.85,337.92h1.6 M109.85,341.14h1.6 M109.85,344.36h1.6 M109.85,347.58h1.6 M109.85,354.02h1.6 M109.85,357.24h1.6 M109.85,360.46h1.6 M109.85,363.68h1.6 M109.85,370.12h1.6 M109.85,373.34h1.6 M109.85,376.56h1.6 M109.85,379.78h1.6 M113.11,384.50v1.1 M114.05,384.50v1.1 M114.88,384.50v1.1 M115.47,384.50v1.1 M116.06,384.50v1.1 M120.19,384.50v1.1 M122.31,384.50v1.1 M123.73,384.50v1.1 M124.91,384.50v1.1 M125.85,384.50v1.1 M126.68,384.50v1.1 M127.27,384.50v1.1 M127.86,384.50v1.1 M131.99,384.50v1.1 M134.11,384.50v1.1 M135.53,384.50v1.1 M136.71,384.50v1.1 M137.65,384.50v1.1 M138.48,384.50v1.1 M139.07,384.50v1.1 M139.66,384.50v1.1 M143.79,384.50v1.1 M145.91,384.50v1.1 M147.33,384.50v1.1 M148.51,384.50v1.1 M149.45,384.50v1.1 M150.28,384.50v1.1 M150.87,384.50v1.1 M151.46,384.50v1.1 M155.59,384.50v1.1 M157.71,384.50v1.1 M159.13,384.50v1.1 M160.31,384.50v1.1 M161.25,384.50v1.1 M162.08,384.50v1.1 M162.67,384.50v1.1 M163.26,384.50v1.1 M167.39,384.50v1.1 M169.51,384.50v1.1 M170.93,384.50v1.1 M172.11,384.50v1.1 M173.05,384.50v1.1 M173.88,384.50v1.1 M174.47,384.50v1.1 M175.06,384.50v1.1" stroke="#888" stroke-width="0.5" fill="none"/>
<path d="M109.55,302.50h2.2 M109.55,318.60h2.2 M109.55,334.70h2.2 M109.55,350.80h2.2 M109.55,366.90h2.2 M116.65,384.00v1.9 M128.45,384.00v1.9 M140.25,384.00v1.9 M152.05,384.00v1.9 M163.85,384.00v1.9 M175.65,384.00v1.9" stroke="#444" stroke-width="0.6" fill="none"/>
<rect x="111.75" y="298.30" width="68.8" height="85.7" fill="none" stroke="#080808" stroke-width="1.35"/>
<clipPath id="c32"><rect x="183.70" y="298.30" width="68.8" height="85.7"/></clipPath>
<g clip-path="url(#c32)">
<path d="M187.91,383.18 L188.14,383.08 L188.36,382.95 L188.58,382.76 L188.81,382.50 L189.03,382.16 L189.26,381.71 L189.48,381.12 L189.70,380.37 L189.93,379.43 L190.15,378.26 L190.38,376.83 L190.60,375.11 L190.82,373.06 L191.05,370.67 L191.27,367.91 L191.50,364.77 L191.72,361.27 L191.94,357.41 L192.17,353.23 L192.39,348.77 L192.62,344.10 L192.84,339.28 L193.06,334.40 L193.29,329.56 L193.51,324.84 L193.74,320.35 L193.96,316.18 L194.18,312.39 L194.41,309.07 L194.63,306.25 L194.86,303.95 L195.08,302.14 L195.10,302.00 L195.30,303.32 L195.53,305.72 L195.75,308.64 L195.98,311.88 L196.20,315.32 L196.42,318.89 L196.65,322.51 L196.87,326.14 L197.10,329.73 L197.32,333.25 L197.54,336.68 L197.77,339.99 L197.99,343.18 L198.22,346.23 L198.44,349.13 L198.66,351.87 L198.89,354.46 L199.11,356.90 L199.34,359.18 L199.56,361.31 L199.79,363.29 L200.01,365.13 L200.23,366.83 L200.46,368.40 L200.68,369.85 L200.91,371.17 L201.13,372.39 L201.35,373.50 L201.58,374.51 L201.80,375.44 L202.03,376.27 L202.25,377.03 L202.47,377.72 L202.70,378.34 L202.92,378.90 L203.15,379.40 L203.37,379.85 L203.59,380.26 L203.82,380.62 L204.04,380.94 L204.27,381.23 L204.49,381.49 L204.71,381.72 L204.94,381.92 L205.16,382.10 L205.39,382.26 L205.61,382.40 L205.83,382.53 L206.06,382.64 L206.28,382.74 L206.51,382.82 L206.73,382.90 L206.95,382.96 L207.18,383.02 L207.40,383.07 L207.63,383.11 L207.85,383.15 L208.07,383.19 L208.07,383.40 L187.91,383.40 Z" fill="#cdcdcd" stroke="none"/>
<path d="M186.54,383.21 L186.75,383.12 L186.95,383.00 L187.16,382.83 L187.37,382.60 L187.58,382.29 L187.79,381.88 L188.00,381.34 L188.21,380.66 L188.41,379.79 L188.62,378.71 L188.83,377.38 L189.04,375.77 L189.25,373.84 L189.46,371.58 L189.67,368.96 L189.87,365.97 L190.08,362.61 L190.29,358.89 L190.50,354.84 L190.71,350.50 L190.92,345.92 L191.13,341.17 L191.33,336.33 L191.54,331.50 L191.75,326.76 L191.96,322.21 L192.17,317.95 L192.38,314.05 L192.59,310.59 L192.79,307.61 L193.00,305.15 L193.21,303.20 L193.30,302.50 L193.42,303.45 L193.63,306.16 L193.84,309.45 L194.05,313.06 L194.25,316.84 L194.46,320.70 L194.67,324.56 L194.88,328.38 L195.09,332.11 L195.30,335.73 L195.51,339.22 L195.71,342.55 L195.92,345.73 L196.13,348.73 L196.34,351.57 L196.55,354.23 L196.76,356.73 L196.96,359.06 L197.17,361.22 L197.38,363.23 L197.59,365.09 L197.80,366.80 L198.01,368.38 L198.22,369.83 L198.42,371.16 L198.63,372.37 L198.84,373.48 L199.05,374.49 L199.26,375.41 L199.47,376.24 L199.68,377.00 L199.88,377.68 L200.09,378.29 L200.30,378.85 L200.51,379.35 L200.72,379.80 L200.93,380.20 L201.14,380.56 L201.34,380.89 L201.55,381.17 L201.76,381.43 L201.97,381.66 L202.18,381.87 L202.39,382.05 L202.60,382.21 L202.80,382.35 L203.01,382.48 L203.22,382.59 L203.43,382.69 L203.64,382.78 L203.85,382.86 L204.06,382.92 L204.26,382.98 L204.47,383.04 L204.68,383.08 L204.89,383.12 L205.10,383.16 L205.31,383.19" fill="none" stroke="#000" stroke-opacity="0.45" stroke-width="0.65" stroke-dasharray="1.1 0.5"/>
<path d="M187.91,383.18 L188.14,383.08 L188.36,382.95 L188.58,382.76 L188.81,382.50 L189.03,382.16 L189.26,381.71 L189.48,381.12 L189.70,380.37 L189.93,379.43 L190.15,378.26 L190.38,376.83 L190.60,375.11 L190.82,373.06 L191.05,370.67 L191.27,367.91 L191.50,364.77 L191.72,361.27 L191.94,357.41 L192.17,353.23 L192.39,348.77 L192.62,344.10 L192.84,339.28 L193.06,334.40 L193.29,329.56 L193.51,324.84 L193.74,320.35 L193.96,316.18 L194.18,312.39 L194.41,309.07 L194.63,306.25 L194.86,303.95 L195.08,302.14 L195.10,302.00 L195.30,303.32 L195.53,305.72 L195.75,308.64 L195.98,311.88 L196.20,315.32 L196.42,318.89 L196.65,322.51 L196.87,326.14 L197.10,329.73 L197.32,333.25 L197.54,336.68 L197.77,339.99 L197.99,343.18 L198.22,346.23 L198.44,349.13 L198.66,351.87 L198.89,354.46 L199.11,356.90 L199.34,359.18 L199.56,361.31 L199.79,363.29 L200.01,365.13 L200.23,366.83 L200.46,368.40 L200.68,369.85 L200.91,371.17 L201.13,372.39 L201.35,373.50 L201.58,374.51 L201.80,375.44 L202.03,376.27 L202.25,377.03 L202.47,377.72 L202.70,378.34 L202.92,378.90 L203.15,379.40 L203.37,379.85 L203.59,380.26 L203.82,380.62 L204.04,380.94 L204.27,381.23 L204.49,381.49 L204.71,381.72 L204.94,381.92 L205.16,382.10 L205.39,382.26 L205.61,382.40 L205.83,382.53 L206.06,382.64 L206.28,382.74 L206.51,382.82 L206.73,382.90 L206.95,382.96 L207.18,383.02 L207.40,383.07 L207.63,383.11 L207.85,383.15 L208.07,383.19" fill="none" stroke="#333" stroke-width="0.6"/>
</g>
<path d="M197.6,325.0H223.8M197.6,323.4v3.2M223.8,323.4v3.2" stroke="#5a5a5a" stroke-width="1.0" fill="none"/>
<text class="gt" x="211.2" y="317.0" text-anchor="middle" textLength="12.3" lengthAdjust="spacingAndGlyphs">22.7</text>
<path d="M181.80,305.72h1.6 M181.80,308.94h1.6 M181.80,312.16h1.6 M181.80,315.38h1.6 M181.80,321.82h1.6 M181.80,325.04h1.6 M181.80,328.26h1.6 M181.80,331.48h1.6 M181.80,337.92h1.6 M181.80,341.14h1.6 M181.80,344.36h1.6 M181.80,347.58h1.6 M181.80,354.02h1.6 M181.80,357.24h1.6 M181.80,360.46h1.6 M181.80,363.68h1.6 M181.80,370.12h1.6 M181.80,373.34h1.6 M181.80,376.56h1.6 M181.80,379.78h1.6 M185.06,384.50v1.1 M186.00,384.50v1.1 M186.83,384.50v1.1 M187.42,384.50v1.1 M188.01,384.50v1.1 M192.14,384.50v1.1 M194.26,384.50v1.1 M195.68,384.50v1.1 M196.86,384.50v1.1 M197.80,384.50v1.1 M198.63,384.50v1.1 M199.22,384.50v1.1 M199.81,384.50v1.1 M203.94,384.50v1.1 M206.06,384.50v1.1 M207.48,384.50v1.1 M208.66,384.50v1.1 M209.60,384.50v1.1 M210.43,384.50v1.1 M211.02,384.50v1.1 M211.61,384.50v1.1 M215.74,384.50v1.1 M217.86,384.50v1.1 M219.28,384.50v1.1 M220.46,384.50v1.1 M221.40,384.50v1.1 M222.23,384.50v1.1 M222.82,384.50v1.1 M223.41,384.50v1.1 M227.54,384.50v1.1 M229.66,384.50v1.1 M231.08,384.50v1.1 M232.26,384.50v1.1 M233.20,384.50v1.1 M234.03,384.50v1.1 M234.62,384.50v1.1 M235.21,384.50v1.1 M239.34,384.50v1.1 M241.46,384.50v1.1 M242.88,384.50v1.1 M244.06,384.50v1.1 M245.00,384.50v1.1 M245.83,384.50v1.1 M246.42,384.50v1.1 M247.01,384.50v1.1" stroke="#888" stroke-width="0.5" fill="none"/>
<path d="M181.50,302.50h2.2 M181.50,318.60h2.2 M181.50,334.70h2.2 M181.50,350.80h2.2 M181.50,366.90h2.2 M188.60,384.00v1.9 M200.40,384.00v1.9 M212.20,384.00v1.9 M224.00,384.00v1.9 M235.80,384.00v1.9 M247.60,384.00v1.9" stroke="#444" stroke-width="0.6" fill="none"/>
<rect x="183.70" y="298.30" width="68.8" height="85.7" fill="none" stroke="#080808" stroke-width="1.35"/>
<clipPath id="c33"><rect x="255.65" y="298.30" width="68.8" height="85.7"/></clipPath>
<g clip-path="url(#c33)">
<path d="M262.04,383.21 L262.26,383.12 L262.48,382.98 L262.71,382.79 L262.93,382.53 L263.15,382.17 L263.38,381.69 L263.60,381.06 L263.82,380.24 L264.05,379.19 L264.27,377.88 L264.49,376.25 L264.72,374.29 L264.94,371.95 L265.16,369.20 L265.38,366.03 L265.61,362.45 L265.83,358.46 L266.05,354.11 L266.28,349.44 L266.50,344.53 L266.72,339.46 L266.95,334.34 L267.17,329.28 L267.39,324.39 L267.62,319.79 L267.84,315.58 L268.06,311.85 L268.29,308.66 L268.51,306.06 L268.73,304.03 L268.80,303.50 L268.95,304.24 L269.18,306.16 L269.40,308.63 L269.62,311.46 L269.85,314.53 L270.07,317.76 L270.29,321.09 L270.52,324.46 L270.74,327.83 L270.96,331.18 L271.19,334.47 L271.41,337.68 L271.63,340.79 L271.86,343.80 L272.08,346.68 L272.30,349.43 L272.52,352.05 L272.75,354.52 L272.97,356.86 L273.19,359.06 L273.42,361.12 L273.64,363.05 L273.86,364.85 L274.09,366.51 L274.31,368.06 L274.53,369.49 L274.76,370.81 L274.98,372.02 L275.20,373.13 L275.43,374.15 L275.65,375.08 L275.87,375.93 L276.09,376.70 L276.32,377.40 L276.54,378.04 L276.76,378.62 L276.99,379.14 L277.21,379.61 L277.43,380.03 L277.66,380.41 L277.88,380.75 L278.10,381.05 L278.33,381.32 L278.55,381.57 L278.77,381.78 L279.00,381.98 L279.22,382.15 L279.44,382.30 L279.66,382.44 L279.89,382.56 L280.11,382.66 L280.33,382.75 L280.56,382.84 L280.78,382.91 L281.00,382.97 L281.23,383.03 L281.45,383.08 L281.67,383.12 L281.90,383.16 L282.12,383.19 L282.12,383.40 L262.04,383.40 Z" fill="#969696" stroke="none"/>
<path d="M258.44,383.21 L258.65,383.12 L258.85,383.00 L259.06,382.83 L259.27,382.60 L259.48,382.29 L259.69,381.88 L259.90,381.34 L260.11,380.66 L260.31,379.79 L260.52,378.71 L260.73,377.38 L260.94,375.77 L261.15,373.84 L261.36,371.58 L261.57,368.96 L261.77,365.97 L261.98,362.61 L262.19,358.89 L262.40,354.84 L262.61,350.50 L262.82,345.92 L263.03,341.17 L263.23,336.33 L263.44,331.50 L263.65,326.76 L263.86,322.21 L264.07,317.95 L264.28,314.05 L264.49,310.59 L264.69,307.61 L264.90,305.15 L265.11,303.20 L265.20,302.50 L265.32,303.45 L265.53,306.16 L265.74,309.45 L265.95,313.06 L266.15,316.84 L266.36,320.70 L266.57,324.56 L266.78,328.38 L266.99,332.11 L267.20,335.73 L267.41,339.22 L267.61,342.55 L267.82,345.73 L268.03,348.73 L268.24,351.57 L268.45,354.23 L268.66,356.73 L268.86,359.06 L269.07,361.22 L269.28,363.23 L269.49,365.09 L269.70,366.80 L269.91,368.38 L270.12,369.83 L270.32,371.16 L270.53,372.37 L270.74,373.48 L270.95,374.49 L271.16,375.41 L271.37,376.24 L271.58,377.00 L271.78,377.68 L271.99,378.29 L272.20,378.85 L272.41,379.35 L272.62,379.80 L272.83,380.20 L273.04,380.56 L273.24,380.89 L273.45,381.17 L273.66,381.43 L273.87,381.66 L274.08,381.87 L274.29,382.05 L274.50,382.21 L274.70,382.35 L274.91,382.48 L275.12,382.59 L275.33,382.69 L275.54,382.78 L275.75,382.86 L275.96,382.92 L276.16,382.98 L276.37,383.04 L276.58,383.08 L276.79,383.12 L277.00,383.16 L277.21,383.19" fill="none" stroke="#000" stroke-opacity="0.45" stroke-width="0.65" stroke-dasharray="1.1 0.5"/>
<path d="M262.04,383.21 L262.26,383.12 L262.48,382.98 L262.71,382.79 L262.93,382.53 L263.15,382.17 L263.38,381.69 L263.60,381.06 L263.82,380.24 L264.05,379.19 L264.27,377.88 L264.49,376.25 L264.72,374.29 L264.94,371.95 L265.16,369.20 L265.38,366.03 L265.61,362.45 L265.83,358.46 L266.05,354.11 L266.28,349.44 L266.50,344.53 L266.72,339.46 L266.95,334.34 L267.17,329.28 L267.39,324.39 L267.62,319.79 L267.84,315.58 L268.06,311.85 L268.29,308.66 L268.51,306.06 L268.73,304.03 L268.80,303.50 L268.95,304.24 L269.18,306.16 L269.40,308.63 L269.62,311.46 L269.85,314.53 L270.07,317.76 L270.29,321.09 L270.52,324.46 L270.74,327.83 L270.96,331.18 L271.19,334.47 L271.41,337.68 L271.63,340.79 L271.86,343.80 L272.08,346.68 L272.30,349.43 L272.52,352.05 L272.75,354.52 L272.97,356.86 L273.19,359.06 L273.42,361.12 L273.64,363.05 L273.86,364.85 L274.09,366.51 L274.31,368.06 L274.53,369.49 L274.76,370.81 L274.98,372.02 L275.20,373.13 L275.43,374.15 L275.65,375.08 L275.87,375.93 L276.09,376.70 L276.32,377.40 L276.54,378.04 L276.76,378.62 L276.99,379.14 L277.21,379.61 L277.43,380.03 L277.66,380.41 L277.88,380.75 L278.10,381.05 L278.33,381.32 L278.55,381.57 L278.77,381.78 L279.00,381.98 L279.22,382.15 L279.44,382.30 L279.66,382.44 L279.89,382.56 L280.11,382.66 L280.33,382.75 L280.56,382.84 L280.78,382.91 L281.00,382.97 L281.23,383.03 L281.45,383.08 L281.67,383.12 L281.90,383.16 L282.12,383.19" fill="none" stroke="#333" stroke-width="0.6"/>
</g>
<path d="M270.0,325.0H295.7M270.0,323.4v3.2M295.7,323.4v3.2" stroke="#5a5a5a" stroke-width="1.0" fill="none"/>
<text class="gt" x="283.2" y="317.0" text-anchor="middle" textLength="12.3" lengthAdjust="spacingAndGlyphs">35.5</text>
<path d="M253.75,305.72h1.6 M253.75,308.94h1.6 M253.75,312.16h1.6 M253.75,315.38h1.6 M253.75,321.82h1.6 M253.75,325.04h1.6 M253.75,328.26h1.6 M253.75,331.48h1.6 M253.75,337.92h1.6 M253.75,341.14h1.6 M253.75,344.36h1.6 M253.75,347.58h1.6 M253.75,354.02h1.6 M253.75,357.24h1.6 M253.75,360.46h1.6 M253.75,363.68h1.6 M253.75,370.12h1.6 M253.75,373.34h1.6 M253.75,376.56h1.6 M253.75,379.78h1.6 M257.01,384.50v1.1 M257.95,384.50v1.1 M258.78,384.50v1.1 M259.37,384.50v1.1 M259.96,384.50v1.1 M264.09,384.50v1.1 M266.21,384.50v1.1 M267.63,384.50v1.1 M268.81,384.50v1.1 M269.75,384.50v1.1 M270.58,384.50v1.1 M271.17,384.50v1.1 M271.76,384.50v1.1 M275.89,384.50v1.1 M278.01,384.50v1.1 M279.43,384.50v1.1 M280.61,384.50v1.1 M281.55,384.50v1.1 M282.38,384.50v1.1 M282.97,384.50v1.1 M283.56,384.50v1.1 M287.69,384.50v1.1 M289.81,384.50v1.1 M291.23,384.50v1.1 M292.41,384.50v1.1 M293.35,384.50v1.1 M294.18,384.50v1.1 M294.77,384.50v1.1 M295.36,384.50v1.1 M299.49,384.50v1.1 M301.61,384.50v1.1 M303.03,384.50v1.1 M304.21,384.50v1.1 M305.15,384.50v1.1 M305.98,384.50v1.1 M306.57,384.50v1.1 M307.16,384.50v1.1 M311.29,384.50v1.1 M313.41,384.50v1.1 M314.83,384.50v1.1 M316.01,384.50v1.1 M316.95,384.50v1.1 M317.78,384.50v1.1 M318.37,384.50v1.1 M318.96,384.50v1.1" stroke="#888" stroke-width="0.5" fill="none"/>
<path d="M253.45,302.50h2.2 M253.45,318.60h2.2 M253.45,334.70h2.2 M253.45,350.80h2.2 M253.45,366.90h2.2 M260.55,384.00v1.9 M272.35,384.00v1.9 M284.15,384.00v1.9 M295.95,384.00v1.9 M307.75,384.00v1.9 M319.55,384.00v1.9" stroke="#444" stroke-width="0.6" fill="none"/>
<rect x="255.65" y="298.30" width="68.8" height="85.7" fill="none" stroke="#080808" stroke-width="1.35"/>
<clipPath id="c34"><rect x="327.60" y="298.30" width="68.8" height="85.7"/></clipPath>
<g clip-path="url(#c34)">
<path d="M333.84,383.21 L334.05,383.12 L334.26,383.00 L334.48,382.83 L334.69,382.59 L334.90,382.27 L335.11,381.84 L335.33,381.29 L335.54,380.57 L335.75,379.67 L335.96,378.53 L336.18,377.14 L336.39,375.45 L336.60,373.43 L336.81,371.06 L337.03,368.32 L337.24,365.19 L337.45,361.69 L337.66,357.83 L337.88,353.64 L338.09,349.17 L338.30,344.48 L338.51,339.65 L338.73,334.77 L338.94,329.94 L339.15,325.25 L339.37,320.80 L339.58,316.69 L339.79,312.99 L340.00,309.77 L340.22,307.07 L340.43,304.90 L340.60,303.50 L340.64,303.62 L340.85,305.19 L341.07,307.52 L341.28,310.30 L341.49,313.39 L341.70,316.67 L341.92,320.08 L342.13,323.55 L342.34,327.03 L342.55,330.50 L342.77,333.91 L342.98,337.24 L343.19,340.46 L343.40,343.57 L343.62,346.55 L343.83,349.40 L344.04,352.10 L344.25,354.65 L344.47,357.06 L344.68,359.31 L344.89,361.42 L345.11,363.39 L345.32,365.21 L345.53,366.91 L345.74,368.47 L345.96,369.91 L346.17,371.23 L346.38,372.45 L346.59,373.56 L346.81,374.57 L347.02,375.49 L347.23,376.33 L347.44,377.09 L347.66,377.77 L347.87,378.39 L348.08,378.95 L348.29,379.45 L348.51,379.90 L348.72,380.31 L348.93,380.67 L349.14,380.99 L349.36,381.28 L349.57,381.53 L349.78,381.76 L349.99,381.96 L350.21,382.14 L350.42,382.30 L350.63,382.44 L350.85,382.56 L351.06,382.67 L351.27,382.76 L351.48,382.85 L351.70,382.92 L351.91,382.98 L352.12,383.04 L352.33,383.09 L352.55,383.13 L352.76,383.17 L352.97,383.20 L352.97,383.40 L333.84,383.40 Z" fill="#5a5a5a" stroke="none"/>
<path d="M330.24,383.21 L330.43,383.13 L330.62,383.03 L330.80,382.88 L330.99,382.70 L331.18,382.45 L331.37,382.13 L331.56,381.72 L331.75,381.20 L331.94,380.55 L332.12,379.75 L332.31,378.77 L332.50,377.59 L332.69,376.18 L332.88,374.53 L333.07,372.60 L333.26,370.39 L333.44,367.88 L333.63,365.06 L333.82,361.94 L334.01,358.54 L334.20,354.86 L334.39,350.94 L334.58,346.83 L334.77,342.56 L334.95,338.20 L335.14,333.82 L335.33,329.48 L335.52,325.24 L335.71,321.19 L335.90,317.39 L336.09,313.90 L336.27,310.76 L336.46,308.03 L336.65,305.71 L336.84,303.81 L337.00,302.50 L337.03,302.63 L337.22,304.73 L337.41,307.74 L337.59,311.24 L337.78,315.02 L337.97,318.95 L338.16,322.95 L338.35,326.95 L338.54,330.89 L338.73,334.73 L338.92,338.45 L339.10,342.01 L339.29,345.40 L339.48,348.62 L339.67,351.65 L339.86,354.50 L340.05,357.15 L340.24,359.62 L340.42,361.91 L340.61,364.02 L340.80,365.96 L340.99,367.74 L341.18,369.36 L341.37,370.85 L341.56,372.20 L341.74,373.42 L341.93,374.52 L342.12,375.52 L342.31,376.42 L342.50,377.23 L342.69,377.95 L342.88,378.59 L343.07,379.17 L343.25,379.68 L343.44,380.14 L343.63,380.54 L343.82,380.90 L344.01,381.22 L344.20,381.50 L344.39,381.74 L344.57,381.96 L344.76,382.15 L344.95,382.31 L345.14,382.46 L345.33,382.59 L345.52,382.70 L345.71,382.79 L345.89,382.88 L346.08,382.95 L346.27,383.01 L346.46,383.07 L346.65,383.12 L346.84,383.16 L347.03,383.19 L347.22,383.22" fill="none" stroke="#000" stroke-opacity="0.45" stroke-width="0.65" stroke-dasharray="1.1 0.5"/>
<path d="M333.84,383.21 L334.05,383.12 L334.26,383.00 L334.48,382.83 L334.69,382.59 L334.90,382.27 L335.11,381.84 L335.33,381.29 L335.54,380.57 L335.75,379.67 L335.96,378.53 L336.18,377.14 L336.39,375.45 L336.60,373.43 L336.81,371.06 L337.03,368.32 L337.24,365.19 L337.45,361.69 L337.66,357.83 L337.88,353.64 L338.09,349.17 L338.30,344.48 L338.51,339.65 L338.73,334.77 L338.94,329.94 L339.15,325.25 L339.37,320.80 L339.58,316.69 L339.79,312.99 L340.00,309.77 L340.22,307.07 L340.43,304.90 L340.60,303.50 L340.64,303.62 L340.85,305.19 L341.07,307.52 L341.28,310.30 L341.49,313.39 L341.70,316.67 L341.92,320.08 L342.13,323.55 L342.34,327.03 L342.55,330.50 L342.77,333.91 L342.98,337.24 L343.19,340.46 L343.40,343.57 L343.62,346.55 L343.83,349.40 L344.04,352.10 L344.25,354.65 L344.47,357.06 L344.68,359.31 L344.89,361.42 L345.11,363.39 L345.32,365.21 L345.53,366.91 L345.74,368.47 L345.96,369.91 L346.17,371.23 L346.38,372.45 L346.59,373.56 L346.81,374.57 L347.02,375.49 L347.23,376.33 L347.44,377.09 L347.66,377.77 L347.87,378.39 L348.08,378.95 L348.29,379.45 L348.51,379.90 L348.72,380.31 L348.93,380.67 L349.14,380.99 L349.36,381.28 L349.57,381.53 L349.78,381.76 L349.99,381.96 L350.21,382.14 L350.42,382.30 L350.63,382.44 L350.85,382.56 L351.06,382.67 L351.27,382.76 L351.48,382.85 L351.70,382.92 L351.91,382.98 L352.12,383.04 L352.33,383.09 L352.55,383.13 L352.76,383.17 L352.97,383.20" fill="none" stroke="#333" stroke-width="0.6"/>
</g>
<path d="M341.5,325.0H368.2M341.5,323.4v3.2M368.2,323.4v3.2" stroke="#5a5a5a" stroke-width="1.0" fill="none"/>
<text class="gt" x="355.0" y="317.0" text-anchor="middle" textLength="12.3" lengthAdjust="spacingAndGlyphs">35.1</text>
<path d="M325.70,305.72h1.6 M325.70,308.94h1.6 M325.70,312.16h1.6 M325.70,315.38h1.6 M325.70,321.82h1.6 M325.70,325.04h1.6 M325.70,328.26h1.6 M325.70,331.48h1.6 M325.70,337.92h1.6 M325.70,341.14h1.6 M325.70,344.36h1.6 M325.70,347.58h1.6 M325.70,354.02h1.6 M325.70,357.24h1.6 M325.70,360.46h1.6 M325.70,363.68h1.6 M325.70,370.12h1.6 M325.70,373.34h1.6 M325.70,376.56h1.6 M325.70,379.78h1.6 M328.96,384.50v1.1 M329.90,384.50v1.1 M330.73,384.50v1.1 M331.32,384.50v1.1 M331.91,384.50v1.1 M336.04,384.50v1.1 M338.16,384.50v1.1 M339.58,384.50v1.1 M340.76,384.50v1.1 M341.70,384.50v1.1 M342.53,384.50v1.1 M343.12,384.50v1.1 M343.71,384.50v1.1 M347.84,384.50v1.1 M349.96,384.50v1.1 M351.38,384.50v1.1 M352.56,384.50v1.1 M353.50,384.50v1.1 M354.33,384.50v1.1 M354.92,384.50v1.1 M355.51,384.50v1.1 M359.64,384.50v1.1 M361.76,384.50v1.1 M363.18,384.50v1.1 M364.36,384.50v1.1 M365.30,384.50v1.1 M366.13,384.50v1.1 M366.72,384.50v1.1 M367.31,384.50v1.1 M371.44,384.50v1.1 M373.56,384.50v1.1 M374.98,384.50v1.1 M376.16,384.50v1.1 M377.10,384.50v1.1 M377.93,384.50v1.1 M378.52,384.50v1.1 M379.11,384.50v1.1 M383.24,384.50v1.1 M385.36,384.50v1.1 M386.78,384.50v1.1 M387.96,384.50v1.1 M388.90,384.50v1.1 M389.73,384.50v1.1 M390.32,384.50v1.1 M390.91,384.50v1.1" stroke="#888" stroke-width="0.5" fill="none"/>
<path d="M325.40,302.50h2.2 M325.40,318.60h2.2 M325.40,334.70h2.2 M325.40,350.80h2.2 M325.40,366.90h2.2 M332.50,384.00v1.9 M344.30,384.00v1.9 M356.10,384.00v1.9 M367.90,384.00v1.9 M379.70,384.00v1.9 M391.50,384.00v1.9" stroke="#444" stroke-width="0.6" fill="none"/>
<rect x="327.60" y="298.30" width="68.8" height="85.7" fill="none" stroke="#080808" stroke-width="1.35"/>
<clipPath id="c35"><rect x="399.55" y="298.30" width="68.8" height="85.7"/></clipPath>
<g clip-path="url(#c35)">
<path d="M405.55,383.22 L405.75,383.14 L405.96,383.02 L406.16,382.86 L406.36,382.64 L406.57,382.34 L406.77,381.94 L406.97,381.42 L407.18,380.74 L407.38,379.89 L407.58,378.82 L407.79,377.49 L407.99,375.89 L408.19,373.96 L408.40,371.70 L408.60,369.07 L408.80,366.06 L409.01,362.68 L409.21,358.93 L409.41,354.84 L409.62,350.46 L409.82,345.85 L410.02,341.06 L410.22,336.19 L410.43,331.34 L410.63,326.59 L410.83,322.05 L411.04,317.80 L411.24,313.94 L411.44,310.53 L411.65,307.63 L411.85,305.25 L412.05,303.37 L412.10,303.00 L412.26,303.92 L412.46,306.04 L412.66,308.72 L412.87,311.76 L413.07,315.04 L413.27,318.47 L413.48,321.99 L413.68,325.54 L413.88,329.08 L414.09,332.57 L414.29,335.99 L414.49,339.30 L414.70,342.50 L414.90,345.58 L415.10,348.51 L415.30,351.29 L415.51,353.93 L415.71,356.41 L415.91,358.73 L416.12,360.91 L416.32,362.94 L416.52,364.82 L416.73,366.56 L416.93,368.17 L417.13,369.66 L417.34,371.02 L417.54,372.27 L417.74,373.40 L417.95,374.44 L418.15,375.39 L418.35,376.25 L418.56,377.02 L418.76,377.72 L418.96,378.35 L419.17,378.92 L419.37,379.43 L419.57,379.89 L419.78,380.30 L419.98,380.67 L420.18,380.99 L420.38,381.29 L420.59,381.54 L420.79,381.77 L420.99,381.97 L421.20,382.15 L421.40,382.31 L421.60,382.45 L421.81,382.57 L422.01,382.68 L422.21,382.78 L422.42,382.86 L422.62,382.93 L422.82,382.99 L423.03,383.05 L423.23,383.10 L423.43,383.14 L423.64,383.18 L423.84,383.21 L423.84,383.40 L405.55,383.40 Z" fill="#5c5c5c" stroke="none"/>
<path d="M401.94,383.21 L402.13,383.13 L402.33,383.02 L402.53,382.86 L402.72,382.66 L402.92,382.39 L403.11,382.04 L403.31,381.59 L403.51,381.01 L403.70,380.29 L403.90,379.39 L404.09,378.29 L404.29,376.96 L404.49,375.38 L404.68,373.52 L404.88,371.35 L405.07,368.87 L405.27,366.06 L405.46,362.92 L405.66,359.46 L405.86,355.71 L406.05,351.69 L406.25,347.44 L406.44,343.03 L406.64,338.51 L406.84,333.95 L407.03,329.44 L407.23,325.05 L407.42,320.86 L407.62,316.94 L407.82,313.36 L408.01,310.18 L408.21,307.43 L408.40,305.14 L408.60,303.29 L408.70,302.50 L408.80,303.15 L408.99,305.54 L409.19,308.62 L409.38,312.09 L409.58,315.80 L409.78,319.63 L409.97,323.51 L410.17,327.38 L410.36,331.20 L410.56,334.91 L410.76,338.51 L410.95,341.97 L411.15,345.26 L411.34,348.39 L411.54,351.35 L411.74,354.13 L411.93,356.73 L412.13,359.15 L412.32,361.41 L412.52,363.49 L412.72,365.42 L412.91,367.19 L413.11,368.82 L413.30,370.30 L413.50,371.66 L413.69,372.90 L413.89,374.02 L414.09,375.04 L414.28,375.95 L414.48,376.78 L414.67,377.53 L414.87,378.20 L415.07,378.80 L415.26,379.34 L415.46,379.82 L415.65,380.25 L415.85,380.63 L416.05,380.97 L416.24,381.27 L416.44,381.53 L416.63,381.77 L416.83,381.97 L417.03,382.16 L417.22,382.32 L417.42,382.46 L417.61,382.58 L417.81,382.69 L418.01,382.78 L418.20,382.87 L418.40,382.94 L418.59,383.00 L418.79,383.06 L418.99,383.10 L419.18,383.15 L419.38,383.18 L419.57,383.21" fill="none" stroke="#000" stroke-opacity="0.45" stroke-width="0.65" stroke-dasharray="1.1 0.5"/>
<path d="M405.55,383.22 L405.75,383.14 L405.96,383.02 L406.16,382.86 L406.36,382.64 L406.57,382.34 L406.77,381.94 L406.97,381.42 L407.18,380.74 L407.38,379.89 L407.58,378.82 L407.79,377.49 L407.99,375.89 L408.19,373.96 L408.40,371.70 L408.60,369.07 L408.80,366.06 L409.01,362.68 L409.21,358.93 L409.41,354.84 L409.62,350.46 L409.82,345.85 L410.02,341.06 L410.22,336.19 L410.43,331.34 L410.63,326.59 L410.83,322.05 L411.04,317.80 L411.24,313.94 L411.44,310.53 L411.65,307.63 L411.85,305.25 L412.05,303.37 L412.10,303.00 L412.26,303.92 L412.46,306.04 L412.66,308.72 L412.87,311.76 L413.07,315.04 L413.27,318.47 L413.48,321.99 L413.68,325.54 L413.88,329.08 L414.09,332.57 L414.29,335.99 L414.49,339.30 L414.70,342.50 L414.90,345.58 L415.10,348.51 L415.30,351.29 L415.51,353.93 L415.71,356.41 L415.91,358.73 L416.12,360.91 L416.32,362.94 L416.52,364.82 L416.73,366.56 L416.93,368.17 L417.13,369.66 L417.34,371.02 L417.54,372.27 L417.74,373.40 L417.95,374.44 L418.15,375.39 L418.35,376.25 L418.56,377.02 L418.76,377.72 L418.96,378.35 L419.17,378.92 L419.37,379.43 L419.57,379.89 L419.78,380.30 L419.98,380.67 L420.18,380.99 L420.38,381.29 L420.59,381.54 L420.79,381.77 L420.99,381.97 L421.20,382.15 L421.40,382.31 L421.60,382.45 L421.81,382.57 L422.01,382.68 L422.21,382.78 L422.42,382.86 L422.62,382.93 L422.82,382.99 L423.03,383.05 L423.23,383.10 L423.43,383.14 L423.64,383.18 L423.84,383.21" fill="none" stroke="#333" stroke-width="0.6"/>
</g>
<path d="M413.2,325.0H439.5M413.2,323.4v3.2M439.5,323.4v3.2" stroke="#5a5a5a" stroke-width="1.0" fill="none"/>
<text class="gt" x="426.2" y="317.0" text-anchor="middle" textLength="12.3" lengthAdjust="spacingAndGlyphs">32.8</text>
<path d="M397.65,305.72h1.6 M397.65,308.94h1.6 M397.65,312.16h1.6 M397.65,315.38h1.6 M397.65,321.82h1.6 M397.65,325.04h1.6 M397.65,328.26h1.6 M397.65,331.48h1.6 M397.65,337.92h1.6 M397.65,341.14h1.6 M397.65,344.36h1.6 M397.65,347.58h1.6 M397.65,354.02h1.6 M397.65,357.24h1.6 M397.65,360.46h1.6 M397.65,363.68h1.6 M397.65,370.12h1.6 M397.65,373.34h1.6 M397.65,376.56h1.6 M397.65,379.78h1.6 M400.91,384.50v1.1 M401.85,384.50v1.1 M402.68,384.50v1.1 M403.27,384.50v1.1 M403.86,384.50v1.1 M407.99,384.50v1.1 M410.11,384.50v1.1 M411.53,384.50v1.1 M412.71,384.50v1.1 M413.65,384.50v1.1 M414.48,384.50v1.1 M415.07,384.50v1.1 M415.66,384.50v1.1 M419.79,384.50v1.1 M421.91,384.50v1.1 M423.33,384.50v1.1 M424.51,384.50v1.1 M425.45,384.50v1.1 M426.28,384.50v1.1 M426.87,384.50v1.1 M427.46,384.50v1.1 M431.59,384.50v1.1 M433.71,384.50v1.1 M435.13,384.50v1.1 M436.31,384.50v1.1 M437.25,384.50v1.1 M438.08,384.50v1.1 M438.67,384.50v1.1 M439.26,384.50v1.1 M443.39,384.50v1.1 M445.51,384.50v1.1 M446.93,384.50v1.1 M448.11,384.50v1.1 M449.05,384.50v1.1 M449.88,384.50v1.1 M450.47,384.50v1.1 M451.06,384.50v1.1 M455.19,384.50v1.1 M457.31,384.50v1.1 M458.73,384.50v1.1 M459.91,384.50v1.1 M460.85,384.50v1.1 M461.68,384.50v1.1 M462.27,384.50v1.1 M462.86,384.50v1.1" stroke="#888" stroke-width="0.5" fill="none"/>
<path d="M397.35,302.50h2.2 M397.35,318.60h2.2 M397.35,334.70h2.2 M397.35,350.80h2.2 M397.35,366.90h2.2 M404.45,384.00v1.9 M416.25,384.00v1.9 M428.05,384.00v1.9 M439.85,384.00v1.9 M451.65,384.00v1.9 M463.45,384.00v1.9" stroke="#444" stroke-width="0.6" fill="none"/>
<rect x="399.55" y="298.30" width="68.8" height="85.7" fill="none" stroke="#080808" stroke-width="1.35"/>
<path d="M534.8,84.5V82.5M530.9,82.5h7.8" stroke="#222" stroke-width="0.8" fill="none"/>
<rect x="527.50" y="84.5" width="14.60" height="24.0" fill="#ffffff" stroke="#111" stroke-width="1.0"/>
<path d="M558.4,37.3V36.9M554.5,36.9h7.8" stroke="#222" stroke-width="0.8" fill="none"/>
<rect x="551.12" y="37.3" width="14.60" height="71.2" fill="#000000" stroke="#111" stroke-width="1.0"/>
<text class="st" x="558.4" y="34.5" text-anchor="middle" textLength="15.0" lengthAdjust="spacingAndGlyphs">***</text>
<path d="M582.0,77.0V76.2M578.1,76.2h7.8" stroke="#222" stroke-width="0.8" fill="none"/>
<rect x="574.74" y="77.0" width="14.60" height="31.5" fill="#d0d0d0" stroke="#111" stroke-width="1.0"/>
<text class="st" x="582.0" y="76.9" text-anchor="middle" textLength="10.0" lengthAdjust="spacingAndGlyphs">**</text>
<path d="M605.7,62.8V62.2M601.8,62.2h7.8" stroke="#222" stroke-width="0.8" fill="none"/>
<rect x="598.36" y="62.8" width="14.60" height="45.7" fill="#a0a0a0" stroke="#111" stroke-width="1.0"/>
<text class="hs" x="605.7" y="58.1" text-anchor="middle" textLength="11.7" lengthAdjust="spacingAndGlyphs">###</text>
<path d="M629.3,48.5V45.4M625.4,45.4h7.8" stroke="#222" stroke-width="0.8" fill="none"/>
<rect x="621.98" y="48.5" width="14.60" height="60.0" fill="#828282" stroke="#111" stroke-width="1.0"/>
<text class="hs" x="629.3" y="42.4" text-anchor="middle" textLength="11.7" lengthAdjust="spacingAndGlyphs">###</text>
<path d="M652.9,40.4V37.5M649.0,37.5h7.8" stroke="#222" stroke-width="0.8" fill="none"/>
<rect x="645.60" y="40.4" width="14.60" height="68.1" fill="#5c5c5c" stroke="#111" stroke-width="1.0"/>
<text class="hs" x="652.9" y="34.8" text-anchor="middle" textLength="11.7" lengthAdjust="spacingAndGlyphs">###</text>
<path d="M519.1,31.9V109.1" stroke="#111" stroke-width="1.5" fill="none"/>
<path d="M518.4,108.5H669.5M512.9,32.5h6.2M512.9,57.3h6.2M512.9,83.5h6.2M512.9,108.5h6.2M534.8,108.5v3.0M558.4,108.5v3.0M582.0,108.5v3.0M605.7,108.5v3.0M629.3,108.5v3.0M652.9,108.5v3.0" stroke="#111" stroke-width="1.2" fill="none"/>
<text class="tk" x="510.5" y="34.2" text-anchor="end" textLength="18.3" lengthAdjust="spacingAndGlyphs">600</text>
<text class="tk" x="510.5" y="59.0" text-anchor="end" textLength="18.3" lengthAdjust="spacingAndGlyphs">400</text>
<text class="tk" x="510.5" y="85.2" text-anchor="end" textLength="18.3" lengthAdjust="spacingAndGlyphs">200</text>
<text class="tk" x="510.5" y="110.2" text-anchor="end" textLength="6.1" lengthAdjust="spacingAndGlyphs">0</text>
<text class="yl" transform="translate(481.3,68.5) rotate(-90)" text-anchor="middle" textLength="52.0" lengthAdjust="spacingAndGlyphs">CD80 (MFI)</text>
<path d="M534.6,160.5V158.2M530.8,158.2h7.8" stroke="#222" stroke-width="0.8" fill="none"/>
<rect x="527.50" y="160.5" width="14.30" height="39.5" fill="#ffffff" stroke="#111" stroke-width="1.0"/>
<path d="M557.6,133.6V132.2M553.8,132.2h7.8" stroke="#222" stroke-width="0.8" fill="none"/>
<rect x="550.50" y="133.6" width="14.30" height="66.4" fill="#000000" stroke="#111" stroke-width="1.0"/>
<text class="st" x="557.6" y="132.9" text-anchor="middle" textLength="15.0" lengthAdjust="spacingAndGlyphs">***</text>
<path d="M580.6,143.5V143.1M576.8,143.1h7.8" stroke="#222" stroke-width="0.8" fill="none"/>
<rect x="573.50" y="143.5" width="14.30" height="56.5" fill="#d0d0d0" stroke="#111" stroke-width="1.0"/>
<text class="st" x="580.6" y="142.3" text-anchor="middle" textLength="15.0" lengthAdjust="spacingAndGlyphs">***</text>
<path d="M603.6,139.5V138.8M599.8,138.8h7.8" stroke="#222" stroke-width="0.8" fill="none"/>
<rect x="596.50" y="139.5" width="14.30" height="60.5" fill="#a0a0a0" stroke="#111" stroke-width="1.0"/>
<text class="st" x="603.6" y="139.5" text-anchor="middle" textLength="15.0" lengthAdjust="spacingAndGlyphs">***</text>
<path d="M626.6,136.0V132.2M622.8,132.2h7.8" stroke="#222" stroke-width="0.8" fill="none"/>
<rect x="619.50" y="136.0" width="14.30" height="64.0" fill="#828282" stroke="#111" stroke-width="1.0"/>
<text class="hs" x="626.6" y="131.0" text-anchor="middle" textLength="7.8" lengthAdjust="spacingAndGlyphs">##</text>
<path d="M649.6,133.3V129.5M645.8,129.5h7.8" stroke="#222" stroke-width="0.8" fill="none"/>
<rect x="642.50" y="133.3" width="14.30" height="66.7" fill="#5c5c5c" stroke="#111" stroke-width="1.0"/>
<text class="hs" x="649.6" y="130.5" text-anchor="middle" textLength="11.7" lengthAdjust="spacingAndGlyphs">###</text>
<path d="M519.9,122.7V200.6" stroke="#111" stroke-width="1.5" fill="none"/>
<path d="M519.1999999999999,200.0H669.5M513.7,123.3h6.2M513.7,138.6h6.2M513.7,154.0h6.2M513.7,169.3h6.2M513.7,184.8h6.2M513.7,200.0h6.2M534.6,200.0v3.0M557.6,200.0v3.0M580.6,200.0v3.0M603.6,200.0v3.0M626.6,200.0v3.0M649.6,200.0v3.0" stroke="#111" stroke-width="1.2" fill="none"/>
<text class="tk" x="511.6" y="125.0" text-anchor="end" textLength="23.5" lengthAdjust="spacingAndGlyphs">1000</text>
<text class="tk" x="511.6" y="140.3" text-anchor="end" textLength="17.6" lengthAdjust="spacingAndGlyphs">800</text>
<text class="tk" x="511.6" y="155.8" text-anchor="end" textLength="17.6" lengthAdjust="spacingAndGlyphs">600</text>
<text class="tk" x="511.6" y="171.1" text-anchor="end" textLength="17.6" lengthAdjust="spacingAndGlyphs">400</text>
<text class="tk" x="511.6" y="186.6" text-anchor="end" textLength="17.6" lengthAdjust="spacingAndGlyphs">200</text>
<text class="tk" x="511.6" y="201.8" text-anchor="end" textLength="5.9" lengthAdjust="spacingAndGlyphs">0</text>
<text class="yl" transform="translate(481.3,158.3) rotate(-90)" text-anchor="middle" textLength="51.5" lengthAdjust="spacingAndGlyphs">CD86 (MFI)</text>
<path d="M534.9,263.9V262.3M531.0,262.3h7.8" stroke="#222" stroke-width="0.8" fill="none"/>
<rect x="527.50" y="263.9" width="14.70" height="25.6" fill="#ffffff" stroke="#555" stroke-width="0.6"/>
<path d="M558.5,224.2V223.7M554.6,223.7h7.8" stroke="#222" stroke-width="0.8" fill="none"/>
<rect x="551.12" y="224.2" width="14.70" height="65.3" fill="#000000" stroke="#555" stroke-width="0.6"/>
<text class="st" x="558.5" y="223.6" text-anchor="middle" textLength="15.0" lengthAdjust="spacingAndGlyphs">***</text>
<path d="M582.1,255.4V254.5M578.2,254.5h7.8" stroke="#222" stroke-width="0.8" fill="none"/>
<rect x="574.74" y="255.4" width="14.70" height="34.1" fill="#d0d0d0" stroke="#555" stroke-width="0.6"/>
<text class="st" x="582.1" y="253.1" text-anchor="middle" textLength="10.0" lengthAdjust="spacingAndGlyphs">**</text>
<path d="M605.7,244.1V243.7M601.8,243.7h7.8" stroke="#222" stroke-width="0.8" fill="none"/>
<rect x="598.36" y="244.1" width="14.70" height="45.4" fill="#a0a0a0" stroke="#555" stroke-width="0.6"/>
<text class="hs" x="605.7" y="240.4" text-anchor="middle" textLength="11.7" lengthAdjust="spacingAndGlyphs">###</text>
<path d="M629.3,232.3V230.4M625.4,230.4h7.8" stroke="#222" stroke-width="0.8" fill="none"/>
<rect x="621.98" y="232.3" width="14.70" height="57.2" fill="#828282" stroke="#555" stroke-width="0.6"/>
<text class="hs" x="629.3" y="228.9" text-anchor="middle" textLength="11.7" lengthAdjust="spacingAndGlyphs">###</text>
<path d="M653.0,227.3V225.4M649.1,225.4h7.8" stroke="#222" stroke-width="0.8" fill="none"/>
<rect x="645.60" y="227.3" width="14.70" height="62.2" fill="#5c5c5c" stroke="#555" stroke-width="0.6"/>
<text class="hs" x="653.0" y="223.6" text-anchor="middle" textLength="11.7" lengthAdjust="spacingAndGlyphs">###</text>
<path d="M520.0,211.8V290.1" stroke="#111" stroke-width="1.5" fill="none"/>
<path d="M519.3,289.5H669.5M513.8,212.4h6.2M513.8,231.8h6.2M513.8,251.2h6.2M513.8,270.4h6.2M513.8,289.5h6.2M534.9,289.5v3.0M558.5,289.5v3.0M582.1,289.5v3.0M605.7,289.5v3.0M629.3,289.5v3.0M653.0,289.5v3.0" stroke="#111" stroke-width="1.2" fill="none"/>
<text class="tk" x="511.3" y="214.2" text-anchor="end" textLength="17.9" lengthAdjust="spacingAndGlyphs">400</text>
<text class="tk" x="511.3" y="233.6" text-anchor="end" textLength="17.9" lengthAdjust="spacingAndGlyphs">300</text>
<text class="tk" x="511.3" y="252.9" text-anchor="end" textLength="17.9" lengthAdjust="spacingAndGlyphs">200</text>
<text class="tk" x="511.3" y="272.1" text-anchor="end" textLength="17.9" lengthAdjust="spacingAndGlyphs">100</text>
<text class="tk" x="511.3" y="291.2" text-anchor="end" textLength="6.0" lengthAdjust="spacingAndGlyphs">0</text>
<text class="yl" transform="translate(481.3,248.2) rotate(-90)" text-anchor="middle" textLength="54.4" lengthAdjust="spacingAndGlyphs">MHC-I (MFI)</text>
<path d="M536.6,365.0V364.1M532.7,364.1h7.8" stroke="#222" stroke-width="0.8" fill="none"/>
<rect x="529.40" y="365.0" width="14.40" height="16.2" fill="#ffffff" stroke="#111" stroke-width="1.0"/>
<path d="M559.8,324.5V321.8M555.9,321.8h7.8" stroke="#222" stroke-width="0.8" fill="none"/>
<rect x="552.64" y="324.5" width="14.40" height="56.7" fill="#000000" stroke="#111" stroke-width="1.0"/>
<text class="st" x="559.8" y="323.9" text-anchor="middle" textLength="15.0" lengthAdjust="spacingAndGlyphs">***</text>
<path d="M583.1,356.0V355.3M579.2,355.3h7.8" stroke="#222" stroke-width="0.8" fill="none"/>
<rect x="575.88" y="356.0" width="14.40" height="25.2" fill="#d0d0d0" stroke="#111" stroke-width="1.0"/>
<text class="st" x="583.1" y="355.0" text-anchor="middle" textLength="15.0" lengthAdjust="spacingAndGlyphs">***</text>
<path d="M606.3,353.3V352.5M602.4,352.5h7.8" stroke="#222" stroke-width="0.8" fill="none"/>
<rect x="599.12" y="353.3" width="14.40" height="27.9" fill="#a0a0a0" stroke="#111" stroke-width="1.0"/>
<text class="st" x="606.3" y="353.7" text-anchor="middle" textLength="15.0" lengthAdjust="spacingAndGlyphs">***</text>
<path d="M629.6,352.3V350.4M625.7,350.4h7.8" stroke="#222" stroke-width="0.8" fill="none"/>
<rect x="622.36" y="352.3" width="14.40" height="28.9" fill="#828282" stroke="#111" stroke-width="1.0"/>
<text class="hs" x="629.6" y="347.4" text-anchor="middle" textLength="7.8" lengthAdjust="spacingAndGlyphs">##</text>
<path d="M652.8,355.0V354.0M648.9,354.0h7.8" stroke="#222" stroke-width="0.8" fill="none"/>
<rect x="645.60" y="355.0" width="14.40" height="26.2" fill="#5c5c5c" stroke="#111" stroke-width="1.0"/>
<text class="hs" x="652.8" y="350.1" text-anchor="middle" textLength="11.7" lengthAdjust="spacingAndGlyphs">###</text>
<path d="M520.4,303.6V381.8" stroke="#111" stroke-width="1.5" fill="none"/>
<path d="M519.6999999999999,381.2H669.5M514.2,304.2h6.2M514.2,329.8h6.2M514.2,355.5h6.2M514.2,381.2h6.2M536.6,381.2v3.0M559.8,381.2v3.0M583.1,381.2v3.0M606.3,381.2v3.0M629.6,381.2v3.0M652.8,381.2v3.0" stroke="#111" stroke-width="1.2" fill="none"/>
<text class="tk" x="512.1" y="305.9" text-anchor="end" textLength="23.9" lengthAdjust="spacingAndGlyphs">1500</text>
<text class="tk" x="512.1" y="331.6" text-anchor="end" textLength="23.9" lengthAdjust="spacingAndGlyphs">1000</text>
<text class="tk" x="512.1" y="357.2" text-anchor="end" textLength="17.9" lengthAdjust="spacingAndGlyphs">500</text>
<text class="tk" x="512.1" y="382.9" text-anchor="end" textLength="6.0" lengthAdjust="spacingAndGlyphs">0</text>
<text class="yl" transform="translate(481.3,339.4) rotate(-90)" text-anchor="middle" textLength="55.8" lengthAdjust="spacingAndGlyphs">MHC-II (MFI)</text>
<text class="xl" x="536.6" y="395.2" text-anchor="middle" textLength="16.4" lengthAdjust="spacingAndGlyphs">CON</text>
<text class="xl" x="559.7" y="395.2" text-anchor="middle" textLength="13.9" lengthAdjust="spacingAndGlyphs">LPS</text>
<text class="xl" x="582.0" y="395.2" text-anchor="middle" textLength="16.1" lengthAdjust="spacingAndGlyphs">RME</text>
<text class="xl" x="606.2" y="395.2" text-anchor="middle" textLength="22.3" lengthAdjust="spacingAndGlyphs">LMME</text>
<text class="xl" x="630.4" y="395.2" text-anchor="middle" textLength="23.6" lengthAdjust="spacingAndGlyphs">HMME</text>
<text class="xl" x="653.3" y="395.2" text-anchor="middle" textLength="9.9" lengthAdjust="spacingAndGlyphs">CE</text>
</svg>
</body></html>
